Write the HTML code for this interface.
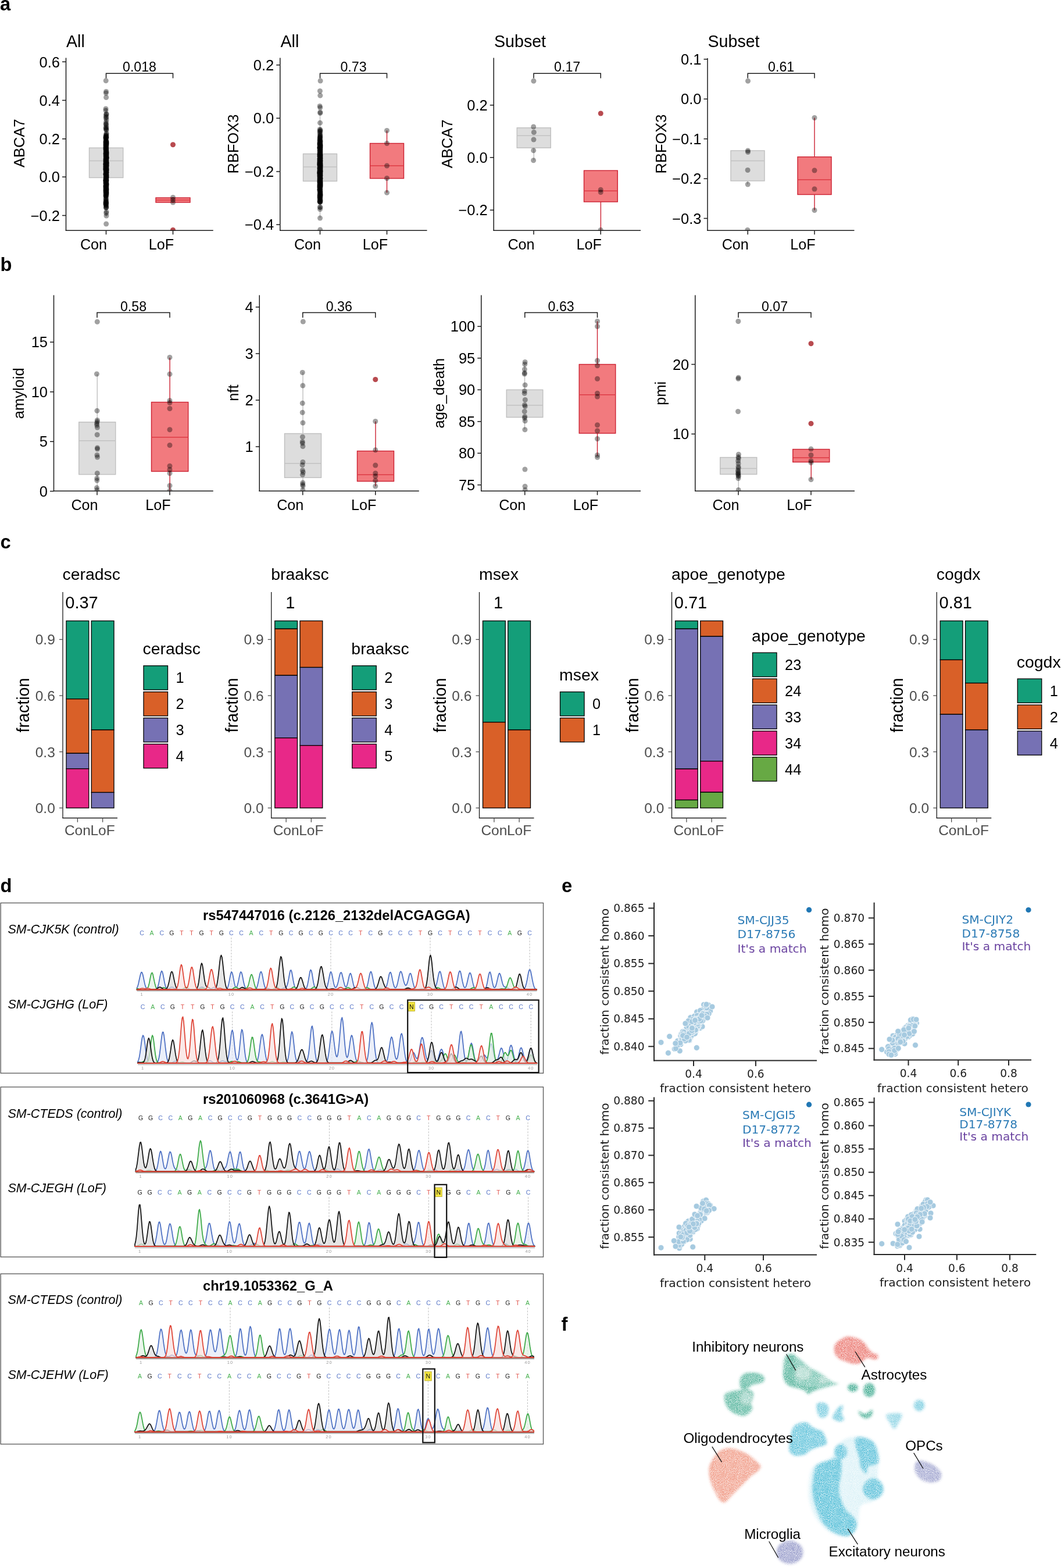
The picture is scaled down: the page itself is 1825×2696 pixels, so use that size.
<!DOCTYPE html>
<html><head><meta charset="utf-8"><title>Figure</title>
<style>html,body{margin:0;padding:0;background:#fff;}svg{display:block;}</style></head>
<body><svg width="1825" height="2696" viewBox="0 0 1825 2696" font-family="'Liberation Sans', Arial, Helvetica, sans-serif">
<rect width="1825" height="2696" fill="#fff"/>
<line x1="182.62" y1="186" x2="182.62" y2="254.25" stroke="#bfbfbf" stroke-width="1.4"/>
<line x1="182.62" y1="305.5" x2="182.62" y2="372.5" stroke="#bfbfbf" stroke-width="1.4"/>
<rect x="153.5" y="254.25" width="58.25" height="51.25" fill="#dddddd" stroke="#bfbfbf" stroke-width="1.4"/>
<line x1="153.5" y1="276.5" x2="211.75" y2="276.5" stroke="#c2c2c2" stroke-width="1.6"/>
<line x1="297.5" y1="339" x2="297.5" y2="340" stroke="#cc2232" stroke-width="1.4"/>
<line x1="297.5" y1="348" x2="297.5" y2="349" stroke="#cc2232" stroke-width="1.4"/>
<rect x="268" y="340" width="59" height="8" fill="#f27a7e" stroke="#cc2232" stroke-width="1.4"/>
<line x1="268" y1="344" x2="327" y2="344" stroke="#dd3a45" stroke-width="1.6"/>
<g clip-path="url(#clipa1)">
<circle cx="297.5" cy="248.75" r="4.5" fill="#b84a4f"/>
<circle cx="297.5" cy="395.5" r="4.5" fill="#b84a4f"/>
<g fill="#000" fill-opacity="0.37"><circle cx="182.19" cy="138.75" r="4.5"/><circle cx="182.55" cy="157.5" r="4.5"/><circle cx="182.34" cy="160" r="4.5"/><circle cx="182.62" cy="167.5" r="4.5"/><circle cx="182.65" cy="385" r="4.5"/><circle cx="181.98" cy="187" r="4.5"/><circle cx="181.92" cy="190" r="4.5"/><circle cx="182.9" cy="196" r="4.5"/><circle cx="182.21" cy="199" r="4.5"/><circle cx="182.18" cy="203" r="4.5"/><circle cx="183.09" cy="206" r="4.5"/><circle cx="182.46" cy="210" r="4.5"/><circle cx="182.9" cy="331.37" r="4.5"/><circle cx="182.47" cy="337.18" r="4.5"/><circle cx="182.67" cy="287.39" r="4.5"/><circle cx="182.08" cy="257.48" r="4.5"/><circle cx="182.66" cy="245.68" r="4.5"/><circle cx="182.94" cy="286.13" r="4.5"/><circle cx="182.53" cy="248.2" r="4.5"/><circle cx="182.79" cy="233.27" r="4.5"/><circle cx="182.71" cy="292.18" r="4.5"/><circle cx="181.98" cy="289.8" r="4.5"/><circle cx="182.81" cy="304.67" r="4.5"/><circle cx="182.61" cy="252.1" r="4.5"/><circle cx="182.26" cy="285.18" r="4.5"/><circle cx="181.94" cy="282.67" r="4.5"/><circle cx="182.94" cy="230.79" r="4.5"/><circle cx="182.47" cy="304.37" r="4.5"/><circle cx="182.76" cy="296.55" r="4.5"/><circle cx="182.95" cy="371.01" r="4.5"/><circle cx="182.76" cy="292.31" r="4.5"/><circle cx="183.01" cy="279.79" r="4.5"/><circle cx="182.37" cy="329.38" r="4.5"/><circle cx="182.86" cy="292.16" r="4.5"/><circle cx="182.43" cy="317.73" r="4.5"/><circle cx="183.02" cy="271.84" r="4.5"/><circle cx="182.95" cy="292.85" r="4.5"/><circle cx="182.02" cy="321.87" r="4.5"/><circle cx="182.06" cy="310.06" r="4.5"/><circle cx="182.16" cy="289.63" r="4.5"/><circle cx="183.06" cy="246.04" r="4.5"/><circle cx="182.42" cy="301.03" r="4.5"/><circle cx="182.65" cy="287.77" r="4.5"/><circle cx="182.26" cy="310.94" r="4.5"/><circle cx="182.51" cy="292.78" r="4.5"/><circle cx="182.36" cy="324.17" r="4.5"/><circle cx="182.32" cy="283.14" r="4.5"/><circle cx="182.6" cy="292.27" r="4.5"/><circle cx="182.6" cy="309" r="4.5"/><circle cx="182.99" cy="245.87" r="4.5"/><circle cx="182.72" cy="270.54" r="4.5"/><circle cx="183.01" cy="267" r="4.5"/><circle cx="182.93" cy="356.3" r="4.5"/><circle cx="183.09" cy="281.66" r="4.5"/><circle cx="182.71" cy="308.48" r="4.5"/><circle cx="182.1" cy="307.3" r="4.5"/><circle cx="182.93" cy="274.89" r="4.5"/><circle cx="183.06" cy="229.17" r="4.5"/><circle cx="182.99" cy="319.73" r="4.5"/><circle cx="182.58" cy="270.34" r="4.5"/><circle cx="182.76" cy="310.85" r="4.5"/><circle cx="182.15" cy="238.01" r="4.5"/><circle cx="182.9" cy="269.23" r="4.5"/><circle cx="182.59" cy="330.25" r="4.5"/><circle cx="182.24" cy="336.52" r="4.5"/><circle cx="181.98" cy="238.11" r="4.5"/><circle cx="182.92" cy="237.02" r="4.5"/><circle cx="183.09" cy="283.41" r="4.5"/><circle cx="182.01" cy="311.22" r="4.5"/><circle cx="182.86" cy="290.78" r="4.5"/><circle cx="182.39" cy="295.93" r="4.5"/><circle cx="182.08" cy="249.4" r="4.5"/><circle cx="182.25" cy="306.12" r="4.5"/><circle cx="182.82" cy="325.21" r="4.5"/><circle cx="182.95" cy="269.32" r="4.5"/><circle cx="181.95" cy="233.39" r="4.5"/><circle cx="182.64" cy="257.68" r="4.5"/><circle cx="181.95" cy="312.42" r="4.5"/><circle cx="182.76" cy="222.59" r="4.5"/><circle cx="182.3" cy="281.69" r="4.5"/><circle cx="182.96" cy="249.32" r="4.5"/><circle cx="183.08" cy="280.28" r="4.5"/><circle cx="182.51" cy="276.2" r="4.5"/><circle cx="183.1" cy="285.57" r="4.5"/><circle cx="182.27" cy="339.04" r="4.5"/><circle cx="181.99" cy="300.15" r="4.5"/><circle cx="182.62" cy="333.01" r="4.5"/><circle cx="181.94" cy="279.91" r="4.5"/><circle cx="182.14" cy="267.73" r="4.5"/><circle cx="182.39" cy="298.64" r="4.5"/><circle cx="182.63" cy="283.56" r="4.5"/><circle cx="182.09" cy="290.77" r="4.5"/><circle cx="181.95" cy="240.53" r="4.5"/><circle cx="182.94" cy="301.72" r="4.5"/><circle cx="182.28" cy="264.87" r="4.5"/><circle cx="183.05" cy="196.47" r="4.5"/><circle cx="182.98" cy="277.32" r="4.5"/><circle cx="182.35" cy="249.76" r="4.5"/><circle cx="182.45" cy="266.26" r="4.5"/><circle cx="182.52" cy="279.52" r="4.5"/><circle cx="182.67" cy="330.04" r="4.5"/><circle cx="182.61" cy="288.71" r="4.5"/><circle cx="182.57" cy="283.97" r="4.5"/><circle cx="182.64" cy="299" r="4.5"/><circle cx="183.03" cy="219.76" r="4.5"/><circle cx="182.51" cy="329.64" r="4.5"/><circle cx="182.42" cy="246.22" r="4.5"/><circle cx="182.76" cy="300.81" r="4.5"/><circle cx="182.19" cy="244.44" r="4.5"/><circle cx="182.26" cy="249.85" r="4.5"/><circle cx="183.07" cy="270.73" r="4.5"/><circle cx="182.53" cy="353.25" r="4.5"/><circle cx="182.56" cy="310.12" r="4.5"/><circle cx="181.91" cy="263.25" r="4.5"/><circle cx="182.4" cy="274.76" r="4.5"/><circle cx="182.6" cy="243.55" r="4.5"/><circle cx="181.92" cy="283.77" r="4.5"/><circle cx="182.64" cy="264.37" r="4.5"/><circle cx="182.66" cy="310.99" r="4.5"/><circle cx="181.97" cy="236.15" r="4.5"/><circle cx="182.65" cy="272.95" r="4.5"/><circle cx="182.46" cy="254.69" r="4.5"/><circle cx="182.72" cy="259.13" r="4.5"/><circle cx="182.32" cy="310.6" r="4.5"/><circle cx="182.75" cy="289.55" r="4.5"/><circle cx="182.79" cy="306.07" r="4.5"/><circle cx="181.93" cy="327.81" r="4.5"/><circle cx="181.97" cy="326.38" r="4.5"/><circle cx="182.71" cy="235.62" r="4.5"/><circle cx="183.06" cy="304.33" r="4.5"/><circle cx="182.2" cy="221.59" r="4.5"/><circle cx="182.45" cy="282.7" r="4.5"/><circle cx="182.61" cy="354.09" r="4.5"/><circle cx="182.28" cy="278.03" r="4.5"/><circle cx="182.34" cy="271.71" r="4.5"/><circle cx="182.28" cy="291.13" r="4.5"/><circle cx="182.34" cy="285.65" r="4.5"/><circle cx="182.61" cy="285.96" r="4.5"/><circle cx="182.26" cy="257.74" r="4.5"/><circle cx="182.35" cy="323.94" r="4.5"/><circle cx="182.83" cy="317.01" r="4.5"/><circle cx="181.93" cy="277.36" r="4.5"/><circle cx="182.58" cy="296.33" r="4.5"/><circle cx="182.78" cy="308.7" r="4.5"/><circle cx="182.27" cy="322.16" r="4.5"/><circle cx="182.17" cy="299.14" r="4.5"/><circle cx="182.86" cy="310.02" r="4.5"/><circle cx="182.19" cy="275.52" r="4.5"/><circle cx="182.12" cy="246.5" r="4.5"/><circle cx="182.42" cy="267.17" r="4.5"/><circle cx="182.74" cy="321.69" r="4.5"/><circle cx="182.02" cy="320.2" r="4.5"/><circle cx="182.29" cy="290.27" r="4.5"/><circle cx="182.3" cy="264.57" r="4.5"/><circle cx="182.9" cy="296.08" r="4.5"/><circle cx="182.43" cy="344.88" r="4.5"/><circle cx="182.93" cy="333.76" r="4.5"/><circle cx="182.1" cy="260.39" r="4.5"/><circle cx="182.3" cy="283.43" r="4.5"/><circle cx="182.68" cy="232.74" r="4.5"/><circle cx="182.96" cy="244.12" r="4.5"/><circle cx="182.44" cy="291.78" r="4.5"/><circle cx="182.17" cy="285.89" r="4.5"/><circle cx="182.05" cy="319.73" r="4.5"/><circle cx="182.54" cy="330.63" r="4.5"/><circle cx="182.13" cy="315.06" r="4.5"/><circle cx="182.87" cy="332.51" r="4.5"/><circle cx="182.91" cy="265.3" r="4.5"/><circle cx="182.12" cy="244.36" r="4.5"/><circle cx="182.23" cy="303.02" r="4.5"/><circle cx="182.87" cy="297.84" r="4.5"/><circle cx="182.67" cy="243.54" r="4.5"/><circle cx="182.87" cy="293.73" r="4.5"/><circle cx="182.31" cy="336.32" r="4.5"/><circle cx="182.06" cy="247.76" r="4.5"/><circle cx="182.25" cy="313.92" r="4.5"/><circle cx="182.85" cy="263" r="4.5"/><circle cx="182.23" cy="330.82" r="4.5"/><circle cx="182.32" cy="313.28" r="4.5"/><circle cx="182.4" cy="295.95" r="4.5"/><circle cx="182.4" cy="357" r="4.5"/><circle cx="182.39" cy="270.28" r="4.5"/><circle cx="183" cy="260.3" r="4.5"/><circle cx="182.09" cy="351.77" r="4.5"/><circle cx="181.91" cy="253.45" r="4.5"/><circle cx="183.03" cy="364.16" r="4.5"/><circle cx="182.96" cy="283.56" r="4.5"/><circle cx="183.08" cy="247.68" r="4.5"/><circle cx="182.42" cy="284.93" r="4.5"/><circle cx="183.04" cy="289.7" r="4.5"/><circle cx="183.01" cy="292.24" r="4.5"/><circle cx="182.17" cy="278.09" r="4.5"/><circle cx="182.79" cy="323.92" r="4.5"/><circle cx="182.9" cy="201.48" r="4.5"/><circle cx="182.7" cy="265.03" r="4.5"/><circle cx="182.52" cy="275.56" r="4.5"/><circle cx="182.25" cy="350.51" r="4.5"/><circle cx="182.31" cy="213.26" r="4.5"/><circle cx="182.17" cy="272.77" r="4.5"/><circle cx="181.98" cy="243.85" r="4.5"/><circle cx="182.61" cy="261.07" r="4.5"/><circle cx="182.24" cy="308.06" r="4.5"/><circle cx="182.87" cy="299.79" r="4.5"/><circle cx="181.95" cy="336.84" r="4.5"/><circle cx="182.98" cy="263.42" r="4.5"/><circle cx="182.73" cy="294.67" r="4.5"/><circle cx="183.01" cy="327.24" r="4.5"/><circle cx="182.98" cy="317.52" r="4.5"/><circle cx="182.98" cy="272.9" r="4.5"/><circle cx="182.59" cy="325.61" r="4.5"/><circle cx="181.92" cy="251.74" r="4.5"/><circle cx="182.79" cy="349.92" r="4.5"/><circle cx="182.11" cy="290.56" r="4.5"/><circle cx="182.26" cy="280.95" r="4.5"/><circle cx="182.7" cy="294.75" r="4.5"/><circle cx="182.53" cy="315.57" r="4.5"/><circle cx="182.4" cy="347.69" r="4.5"/><circle cx="183.03" cy="279.89" r="4.5"/><circle cx="182.63" cy="271.77" r="4.5"/><circle cx="182.31" cy="306.12" r="4.5"/><circle cx="182.2" cy="253.62" r="4.5"/><circle cx="182.93" cy="223.94" r="4.5"/><circle cx="182.47" cy="315.09" r="4.5"/><circle cx="182.84" cy="271.34" r="4.5"/><circle cx="182.32" cy="325.57" r="4.5"/><circle cx="182.14" cy="248.04" r="4.5"/><circle cx="182.54" cy="295.19" r="4.5"/><circle cx="182.88" cy="290.58" r="4.5"/><circle cx="182.11" cy="342.62" r="4.5"/><circle cx="182.85" cy="303.92" r="4.5"/><circle cx="183.01" cy="296.14" r="4.5"/><circle cx="182.87" cy="306.12" r="4.5"/><circle cx="182.89" cy="271.78" r="4.5"/><circle cx="181.91" cy="287.79" r="4.5"/><circle cx="182.65" cy="236.33" r="4.5"/><circle cx="182.94" cy="303.69" r="4.5"/><circle cx="181.96" cy="256.01" r="4.5"/><circle cx="182.23" cy="268.95" r="4.5"/><circle cx="182.22" cy="310.19" r="4.5"/><circle cx="182.53" cy="317.96" r="4.5"/><circle cx="182.41" cy="248.74" r="4.5"/><circle cx="182.47" cy="357.14" r="4.5"/><circle cx="182.83" cy="263.7" r="4.5"/><circle cx="181.9" cy="315.06" r="4.5"/><circle cx="181.97" cy="319.25" r="4.5"/><circle cx="182.05" cy="293.07" r="4.5"/><circle cx="182.05" cy="291.2" r="4.5"/><circle cx="181.98" cy="349.7" r="4.5"/><circle cx="183.07" cy="317.05" r="4.5"/><circle cx="182.93" cy="301.04" r="4.5"/><circle cx="182" cy="219.33" r="4.5"/><circle cx="182.5" cy="258.1" r="4.5"/><circle cx="182.28" cy="326.86" r="4.5"/><circle cx="182.28" cy="291.99" r="4.5"/><circle cx="182.32" cy="250.62" r="4.5"/><circle cx="182.68" cy="261.87" r="4.5"/><circle cx="182.6" cy="273.98" r="4.5"/><circle cx="182.33" cy="309.7" r="4.5"/><circle cx="182.13" cy="298.93" r="4.5"/><circle cx="182.29" cy="320.91" r="4.5"/><circle cx="182.05" cy="255.59" r="4.5"/><circle cx="182.57" cy="320.5" r="4.5"/><circle cx="182.76" cy="266.93" r="4.5"/><circle cx="182.36" cy="274.24" r="4.5"/><circle cx="182" cy="347.39" r="4.5"/><circle cx="182.11" cy="287.67" r="4.5"/><circle cx="182.35" cy="279.98" r="4.5"/><circle cx="182.63" cy="277.43" r="4.5"/><circle cx="182.84" cy="271.15" r="4.5"/><circle cx="182.36" cy="341.14" r="4.5"/><circle cx="182.86" cy="334.56" r="4.5"/><circle cx="182.65" cy="310.81" r="4.5"/><circle cx="182.42" cy="291.63" r="4.5"/><circle cx="182.35" cy="322.53" r="4.5"/><circle cx="182.5" cy="282.2" r="4.5"/><circle cx="182.74" cy="301.29" r="4.5"/><circle cx="182.4" cy="299.47" r="4.5"/><circle cx="182.73" cy="288.2" r="4.5"/><circle cx="182.45" cy="344.34" r="4.5"/><circle cx="182.19" cy="348.19" r="4.5"/><circle cx="182.54" cy="332.65" r="4.5"/><circle cx="182.73" cy="216.13" r="4.5"/><circle cx="181.99" cy="351.09" r="4.5"/><circle cx="182.41" cy="310.29" r="4.5"/><circle cx="182.41" cy="268.78" r="4.5"/><circle cx="182.96" cy="284.12" r="4.5"/><circle cx="183.02" cy="325.98" r="4.5"/><circle cx="182.35" cy="327.29" r="4.5"/><circle cx="182.98" cy="315.78" r="4.5"/><circle cx="182.85" cy="290.07" r="4.5"/><circle cx="182.21" cy="286.29" r="4.5"/><circle cx="182.46" cy="314.95" r="4.5"/><circle cx="182.05" cy="281.71" r="4.5"/><circle cx="182.88" cy="252.67" r="4.5"/><circle cx="182.69" cy="262.56" r="4.5"/><circle cx="182.96" cy="279.97" r="4.5"/><circle cx="182.85" cy="296.97" r="4.5"/><circle cx="182.7" cy="366.49" r="4.5"/><circle cx="182.78" cy="235.69" r="4.5"/><circle cx="182.58" cy="302.18" r="4.5"/><circle cx="182.02" cy="281.7" r="4.5"/><circle cx="182.61" cy="295.83" r="4.5"/><circle cx="181.91" cy="333.74" r="4.5"/><circle cx="182.07" cy="329.69" r="4.5"/><circle cx="182.83" cy="279.34" r="4.5"/><circle cx="181.95" cy="264.93" r="4.5"/><circle cx="182.01" cy="235.94" r="4.5"/><circle cx="182.02" cy="282.43" r="4.5"/><circle cx="182.96" cy="329.89" r="4.5"/><circle cx="182.11" cy="275.46" r="4.5"/><circle cx="181.93" cy="310.34" r="4.5"/><circle cx="182.91" cy="310.49" r="4.5"/><circle cx="182.05" cy="299.3" r="4.5"/><circle cx="182.91" cy="324.03" r="4.5"/><circle cx="182.71" cy="280.91" r="4.5"/><circle cx="182.9" cy="255.14" r="4.5"/><circle cx="183.04" cy="242.79" r="4.5"/><circle cx="182.59" cy="318.37" r="4.5"/><circle cx="182.86" cy="271.97" r="4.5"/><circle cx="181.94" cy="273.81" r="4.5"/><circle cx="182.82" cy="315.03" r="4.5"/><circle cx="182.51" cy="256.59" r="4.5"/><circle cx="182.76" cy="348.73" r="4.5"/><circle cx="182.03" cy="308.98" r="4.5"/><circle cx="182.8" cy="266.03" r="4.5"/><circle cx="183.02" cy="262.19" r="4.5"/><circle cx="181.97" cy="323.94" r="4.5"/><circle cx="182.29" cy="242.38" r="4.5"/><circle cx="182.58" cy="261.92" r="4.5"/><circle cx="182.89" cy="285.22" r="4.5"/><circle cx="182.19" cy="292.3" r="4.5"/><circle cx="182.12" cy="285.55" r="4.5"/><circle cx="182.2" cy="298.94" r="4.5"/><circle cx="182.64" cy="271.9" r="4.5"/><circle cx="182.8" cy="280.63" r="4.5"/><circle cx="182.37" cy="330.55" r="4.5"/><circle cx="182.34" cy="308.25" r="4.5"/><circle cx="182.38" cy="268.81" r="4.5"/><circle cx="182.32" cy="346.73" r="4.5"/><circle cx="182.4" cy="213.33" r="4.5"/><circle cx="182" cy="288.04" r="4.5"/><circle cx="182.5" cy="309.05" r="4.5"/><circle cx="297.5" cy="339.5" r="4.5"/><circle cx="297.5" cy="343.5" r="4.5"/><circle cx="297.5" cy="348" r="4.5"/></g>
</g>
<clipPath id="clipa1"><rect x="113.5" y="79.5" width="253.25" height="316.75"/></clipPath>
<line x1="113.5" y1="99.5" x2="113.5" y2="397" stroke="#1a1a1a" stroke-width="1.5"/>
<line x1="112.75" y1="396.25" x2="366.75" y2="396.25" stroke="#1a1a1a" stroke-width="1.5"/>
<line x1="107" y1="106.3" x2="113.5" y2="106.3" stroke="#1a1a1a" stroke-width="1.5"/>
<text x="103" y="115.5" font-size="25.5" text-anchor="end">0.6</text>
<line x1="107" y1="172.5" x2="113.5" y2="172.5" stroke="#1a1a1a" stroke-width="1.5"/>
<text x="103" y="181.7" font-size="25.5" text-anchor="end">0.4</text>
<line x1="107" y1="238.75" x2="113.5" y2="238.75" stroke="#1a1a1a" stroke-width="1.5"/>
<text x="103" y="247.95" font-size="25.5" text-anchor="end">0.2</text>
<line x1="107" y1="304.25" x2="113.5" y2="304.25" stroke="#1a1a1a" stroke-width="1.5"/>
<text x="103" y="313.45" font-size="25.5" text-anchor="end">0.0</text>
<line x1="107" y1="370.5" x2="113.5" y2="370.5" stroke="#1a1a1a" stroke-width="1.5"/>
<text x="103" y="379.7" font-size="25.5" text-anchor="end">−0.2</text>
<line x1="182.5" y1="396.25" x2="182.5" y2="403.25" stroke="#1a1a1a" stroke-width="1.5"/>
<text x="184.1" y="428.55" font-size="25.2" text-anchor="end">Con</text>
<line x1="297.5" y1="396.25" x2="297.5" y2="403.25" stroke="#1a1a1a" stroke-width="1.5"/>
<text x="299.1" y="428.55" font-size="25.2" text-anchor="end">LoF</text>
<text x="114" y="81" font-size="28.6">All</text>
<text x="42.3" y="246.3" font-size="25.5" text-anchor="middle" transform="rotate(-90 42.3 246.3)">ABCA7</text>
<path d="M182.5 134.5V126.25H297.5V134.5" fill="none" stroke="#1a1a1a" stroke-width="1.5"/>
<text x="240" y="123.25" font-size="23.2" text-anchor="middle">0.018</text>
<line x1="550.5" y1="194.5" x2="550.5" y2="264.5" stroke="#bfbfbf" stroke-width="1.4"/>
<line x1="550.5" y1="311.5" x2="550.5" y2="375" stroke="#bfbfbf" stroke-width="1.4"/>
<rect x="521.5" y="264.5" width="58" height="47" fill="#dddddd" stroke="#bfbfbf" stroke-width="1.4"/>
<line x1="521.5" y1="287" x2="579.5" y2="287" stroke="#c2c2c2" stroke-width="1.6"/>
<line x1="665.5" y1="224.5" x2="665.5" y2="246.5" stroke="#cc2232" stroke-width="1.4"/>
<line x1="665.5" y1="306.75" x2="665.5" y2="331.25" stroke="#cc2232" stroke-width="1.4"/>
<rect x="636.5" y="246.5" width="58" height="60.25" fill="#f27a7e" stroke="#cc2232" stroke-width="1.4"/>
<line x1="636.5" y1="285" x2="694.5" y2="285" stroke="#dd3a45" stroke-width="1.6"/>
<g clip-path="url(#clipa2)">
<g fill="#000" fill-opacity="0.37"><circle cx="551.07" cy="139" r="4.5"/><circle cx="550.4" cy="156.5" r="4.5"/><circle cx="550.8" cy="164.25" r="4.5"/><circle cx="550.09" cy="182.5" r="4.5"/><circle cx="550.73" cy="185" r="4.5"/><circle cx="550.81" cy="193" r="4.5"/><circle cx="550.71" cy="194.5" r="4.5"/><circle cx="550.52" cy="211.25" r="4.5"/><circle cx="550.48" cy="375" r="4.5"/><circle cx="550.67" cy="395" r="4.5"/><circle cx="550.98" cy="268.13" r="4.5"/><circle cx="550.08" cy="303.03" r="4.5"/><circle cx="550.02" cy="294.84" r="4.5"/><circle cx="550.8" cy="317.56" r="4.5"/><circle cx="551" cy="243.73" r="4.5"/><circle cx="550.52" cy="276.31" r="4.5"/><circle cx="550.43" cy="265.2" r="4.5"/><circle cx="550.76" cy="254.54" r="4.5"/><circle cx="550.12" cy="262.15" r="4.5"/><circle cx="550.22" cy="273.09" r="4.5"/><circle cx="550.14" cy="280.54" r="4.5"/><circle cx="550.6" cy="260.08" r="4.5"/><circle cx="550.28" cy="303.93" r="4.5"/><circle cx="550.18" cy="271.93" r="4.5"/><circle cx="550.73" cy="329.29" r="4.5"/><circle cx="551.04" cy="277.07" r="4.5"/><circle cx="550.26" cy="265.47" r="4.5"/><circle cx="550.75" cy="298.86" r="4.5"/><circle cx="550.4" cy="297.59" r="4.5"/><circle cx="550.92" cy="291.74" r="4.5"/><circle cx="550.6" cy="261.8" r="4.5"/><circle cx="550.22" cy="296.32" r="4.5"/><circle cx="550.16" cy="239.26" r="4.5"/><circle cx="549.93" cy="337.63" r="4.5"/><circle cx="550.48" cy="248.24" r="4.5"/><circle cx="550.36" cy="283.18" r="4.5"/><circle cx="550.11" cy="290.63" r="4.5"/><circle cx="550.33" cy="297.22" r="4.5"/><circle cx="550.29" cy="281.86" r="4.5"/><circle cx="550.83" cy="305.94" r="4.5"/><circle cx="550.07" cy="282.28" r="4.5"/><circle cx="551.09" cy="280.45" r="4.5"/><circle cx="550.48" cy="271.4" r="4.5"/><circle cx="550.62" cy="336.22" r="4.5"/><circle cx="550.46" cy="253.48" r="4.5"/><circle cx="550.9" cy="282.97" r="4.5"/><circle cx="550.89" cy="294.71" r="4.5"/><circle cx="550.57" cy="231.91" r="4.5"/><circle cx="550.48" cy="233.63" r="4.5"/><circle cx="550.76" cy="309.01" r="4.5"/><circle cx="550.93" cy="285.36" r="4.5"/><circle cx="550.38" cy="291.32" r="4.5"/><circle cx="550.78" cy="237.72" r="4.5"/><circle cx="551.05" cy="250.61" r="4.5"/><circle cx="550.46" cy="299.74" r="4.5"/><circle cx="550.18" cy="294.71" r="4.5"/><circle cx="550.18" cy="227.72" r="4.5"/><circle cx="550.76" cy="289.67" r="4.5"/><circle cx="550.71" cy="248.48" r="4.5"/><circle cx="551.05" cy="344.28" r="4.5"/><circle cx="550.92" cy="319.64" r="4.5"/><circle cx="550.19" cy="268.38" r="4.5"/><circle cx="550.13" cy="222.39" r="4.5"/><circle cx="550.21" cy="259.37" r="4.5"/><circle cx="550.12" cy="283.75" r="4.5"/><circle cx="550.75" cy="252.41" r="4.5"/><circle cx="550.93" cy="295.15" r="4.5"/><circle cx="550.98" cy="318.78" r="4.5"/><circle cx="550.21" cy="283.8" r="4.5"/><circle cx="550.94" cy="271.1" r="4.5"/><circle cx="550.28" cy="311.83" r="4.5"/><circle cx="550.41" cy="275.74" r="4.5"/><circle cx="550.77" cy="314.11" r="4.5"/><circle cx="550" cy="274.99" r="4.5"/><circle cx="550.01" cy="339.81" r="4.5"/><circle cx="550.9" cy="276.33" r="4.5"/><circle cx="550.25" cy="250.16" r="4.5"/><circle cx="550.33" cy="288.94" r="4.5"/><circle cx="550.6" cy="264.49" r="4.5"/><circle cx="550.71" cy="254.22" r="4.5"/><circle cx="549.91" cy="281.47" r="4.5"/><circle cx="550.3" cy="310.85" r="4.5"/><circle cx="550.42" cy="284.25" r="4.5"/><circle cx="550.48" cy="280.66" r="4.5"/><circle cx="550.15" cy="280.86" r="4.5"/><circle cx="550.6" cy="312.73" r="4.5"/><circle cx="551.05" cy="242.01" r="4.5"/><circle cx="550.37" cy="307.99" r="4.5"/><circle cx="550.55" cy="278.21" r="4.5"/><circle cx="550.04" cy="289.62" r="4.5"/><circle cx="550.23" cy="278.52" r="4.5"/><circle cx="550.7" cy="274.9" r="4.5"/><circle cx="550.04" cy="268.4" r="4.5"/><circle cx="550.96" cy="299.86" r="4.5"/><circle cx="550.99" cy="356.64" r="4.5"/><circle cx="550.02" cy="321.5" r="4.5"/><circle cx="551.03" cy="314.84" r="4.5"/><circle cx="550.35" cy="305.03" r="4.5"/><circle cx="550.83" cy="270.36" r="4.5"/><circle cx="550.81" cy="306.72" r="4.5"/><circle cx="550.25" cy="355.95" r="4.5"/><circle cx="550.71" cy="243.6" r="4.5"/><circle cx="550.68" cy="314.41" r="4.5"/><circle cx="550.87" cy="320.68" r="4.5"/><circle cx="550.22" cy="296.23" r="4.5"/><circle cx="550.81" cy="313.25" r="4.5"/><circle cx="551.05" cy="333.5" r="4.5"/><circle cx="550.71" cy="330.84" r="4.5"/><circle cx="550.54" cy="342.68" r="4.5"/><circle cx="550.04" cy="298.46" r="4.5"/><circle cx="550.49" cy="315.14" r="4.5"/><circle cx="550.32" cy="293.36" r="4.5"/><circle cx="550.76" cy="297.48" r="4.5"/><circle cx="550.71" cy="272.21" r="4.5"/><circle cx="550.58" cy="310.47" r="4.5"/><circle cx="550.12" cy="336.29" r="4.5"/><circle cx="550.67" cy="282.62" r="4.5"/><circle cx="550.66" cy="296.46" r="4.5"/><circle cx="550.11" cy="308.87" r="4.5"/><circle cx="550.97" cy="288.81" r="4.5"/><circle cx="550.69" cy="319.53" r="4.5"/><circle cx="550.05" cy="296.85" r="4.5"/><circle cx="551.02" cy="249.28" r="4.5"/><circle cx="550.07" cy="253.99" r="4.5"/><circle cx="550.3" cy="312.68" r="4.5"/><circle cx="550.76" cy="309.53" r="4.5"/><circle cx="550.62" cy="325.34" r="4.5"/><circle cx="550.57" cy="296.93" r="4.5"/><circle cx="550.68" cy="295.43" r="4.5"/><circle cx="550.45" cy="236.11" r="4.5"/><circle cx="550.27" cy="335.23" r="4.5"/><circle cx="550.11" cy="258.01" r="4.5"/><circle cx="549.98" cy="323.49" r="4.5"/><circle cx="550.76" cy="250.76" r="4.5"/><circle cx="550.81" cy="266.75" r="4.5"/><circle cx="550.55" cy="294.02" r="4.5"/><circle cx="550.79" cy="274.71" r="4.5"/><circle cx="550.33" cy="265.62" r="4.5"/><circle cx="550.22" cy="318.82" r="4.5"/><circle cx="550.36" cy="311.51" r="4.5"/><circle cx="550.95" cy="302.17" r="4.5"/><circle cx="549.95" cy="277.79" r="4.5"/><circle cx="550.51" cy="261.62" r="4.5"/><circle cx="550.2" cy="273.22" r="4.5"/><circle cx="550.82" cy="271.69" r="4.5"/><circle cx="550.32" cy="288.29" r="4.5"/><circle cx="550.3" cy="314.74" r="4.5"/><circle cx="550.38" cy="283.6" r="4.5"/><circle cx="550.55" cy="262.94" r="4.5"/><circle cx="550.83" cy="268.71" r="4.5"/><circle cx="550.32" cy="331.9" r="4.5"/><circle cx="550.92" cy="294.77" r="4.5"/><circle cx="550.03" cy="297.16" r="4.5"/><circle cx="550.22" cy="298.72" r="4.5"/><circle cx="550.02" cy="309.13" r="4.5"/><circle cx="550.04" cy="294.09" r="4.5"/><circle cx="550.83" cy="328.61" r="4.5"/><circle cx="550.77" cy="316.55" r="4.5"/><circle cx="550.12" cy="285.1" r="4.5"/><circle cx="550.13" cy="247.17" r="4.5"/><circle cx="550.4" cy="293.93" r="4.5"/><circle cx="550.79" cy="325.58" r="4.5"/><circle cx="550.88" cy="289.78" r="4.5"/><circle cx="550.8" cy="334.14" r="4.5"/><circle cx="550.61" cy="247.9" r="4.5"/><circle cx="550.08" cy="248.34" r="4.5"/><circle cx="550.38" cy="283.6" r="4.5"/><circle cx="550.13" cy="265.4" r="4.5"/><circle cx="550.53" cy="254.29" r="4.5"/><circle cx="550.58" cy="308.76" r="4.5"/><circle cx="550.14" cy="298.87" r="4.5"/><circle cx="550.2" cy="290.27" r="4.5"/><circle cx="550.84" cy="276.54" r="4.5"/><circle cx="549.94" cy="298.69" r="4.5"/><circle cx="550.86" cy="285.98" r="4.5"/><circle cx="550.97" cy="265.83" r="4.5"/><circle cx="551.04" cy="306.93" r="4.5"/><circle cx="550.36" cy="302.26" r="4.5"/><circle cx="550.56" cy="292.68" r="4.5"/><circle cx="550.6" cy="312.95" r="4.5"/><circle cx="550.66" cy="253.44" r="4.5"/><circle cx="551.07" cy="285.21" r="4.5"/><circle cx="550.72" cy="272.67" r="4.5"/><circle cx="550.26" cy="333.99" r="4.5"/><circle cx="550.93" cy="306.8" r="4.5"/><circle cx="550.48" cy="359.86" r="4.5"/><circle cx="550.62" cy="341.9" r="4.5"/><circle cx="550.77" cy="277.75" r="4.5"/><circle cx="549.9" cy="253.87" r="4.5"/><circle cx="550.82" cy="305.98" r="4.5"/><circle cx="550.69" cy="280.66" r="4.5"/><circle cx="550.49" cy="284.78" r="4.5"/><circle cx="550.53" cy="254.96" r="4.5"/><circle cx="550.45" cy="309.84" r="4.5"/><circle cx="550.13" cy="296.13" r="4.5"/><circle cx="550.54" cy="303.3" r="4.5"/><circle cx="549.94" cy="300.24" r="4.5"/><circle cx="550.5" cy="260.19" r="4.5"/><circle cx="550.68" cy="281.04" r="4.5"/><circle cx="550.43" cy="269.03" r="4.5"/><circle cx="550.58" cy="272.54" r="4.5"/><circle cx="551.05" cy="321.67" r="4.5"/><circle cx="550.97" cy="286.71" r="4.5"/><circle cx="550.06" cy="339.82" r="4.5"/><circle cx="550.85" cy="295.99" r="4.5"/><circle cx="550.65" cy="312.69" r="4.5"/><circle cx="549.96" cy="306.74" r="4.5"/><circle cx="550.33" cy="316.58" r="4.5"/><circle cx="550.18" cy="248.47" r="4.5"/><circle cx="549.99" cy="325.99" r="4.5"/><circle cx="550.55" cy="293.57" r="4.5"/><circle cx="551.02" cy="257.77" r="4.5"/><circle cx="550.29" cy="310.26" r="4.5"/><circle cx="550.94" cy="301.41" r="4.5"/><circle cx="550.73" cy="332.49" r="4.5"/><circle cx="550.06" cy="314.14" r="4.5"/><circle cx="550.93" cy="302.07" r="4.5"/><circle cx="550.62" cy="236.12" r="4.5"/><circle cx="551.01" cy="345.32" r="4.5"/><circle cx="550.76" cy="339.07" r="4.5"/><circle cx="550.79" cy="315.61" r="4.5"/><circle cx="550.31" cy="305.22" r="4.5"/><circle cx="550.87" cy="330.18" r="4.5"/><circle cx="551.02" cy="261.38" r="4.5"/><circle cx="550.93" cy="313.15" r="4.5"/><circle cx="550.42" cy="290.74" r="4.5"/><circle cx="550.81" cy="256.92" r="4.5"/><circle cx="550.48" cy="302.13" r="4.5"/><circle cx="550.03" cy="301.64" r="4.5"/><circle cx="549.95" cy="346.24" r="4.5"/><circle cx="549.99" cy="321.15" r="4.5"/><circle cx="550.14" cy="237.1" r="4.5"/><circle cx="550.09" cy="225.24" r="4.5"/><circle cx="550.5" cy="287.4" r="4.5"/><circle cx="550.74" cy="283.1" r="4.5"/><circle cx="550.54" cy="259.1" r="4.5"/><circle cx="550.41" cy="241.88" r="4.5"/><circle cx="550.68" cy="283.58" r="4.5"/><circle cx="550.27" cy="251.8" r="4.5"/><circle cx="550.46" cy="267.18" r="4.5"/><circle cx="550.81" cy="318.45" r="4.5"/><circle cx="550.38" cy="297.87" r="4.5"/><circle cx="550.12" cy="265.09" r="4.5"/><circle cx="550.98" cy="252.91" r="4.5"/><circle cx="550.76" cy="283.81" r="4.5"/><circle cx="550.34" cy="347.21" r="4.5"/><circle cx="550.35" cy="273.26" r="4.5"/><circle cx="550.54" cy="347.12" r="4.5"/><circle cx="550.62" cy="264.02" r="4.5"/><circle cx="550.17" cy="283.06" r="4.5"/><circle cx="549.9" cy="312.93" r="4.5"/><circle cx="550.15" cy="264.49" r="4.5"/><circle cx="550.84" cy="291.8" r="4.5"/><circle cx="550.07" cy="245.29" r="4.5"/><circle cx="550.45" cy="311.85" r="4.5"/><circle cx="550.13" cy="328.21" r="4.5"/><circle cx="550.15" cy="268.55" r="4.5"/><circle cx="550.1" cy="296.13" r="4.5"/><circle cx="550.38" cy="276.5" r="4.5"/><circle cx="550.1" cy="310.75" r="4.5"/><circle cx="549.93" cy="317.27" r="4.5"/><circle cx="550.03" cy="302.79" r="4.5"/><circle cx="550.1" cy="295.71" r="4.5"/><circle cx="550.49" cy="229.72" r="4.5"/><circle cx="549.97" cy="279.66" r="4.5"/><circle cx="549.93" cy="276.12" r="4.5"/><circle cx="550.44" cy="283.12" r="4.5"/><circle cx="550.39" cy="312.95" r="4.5"/><circle cx="550.74" cy="266.17" r="4.5"/><circle cx="549.96" cy="246.17" r="4.5"/><circle cx="550.38" cy="252.72" r="4.5"/><circle cx="550.38" cy="305.07" r="4.5"/><circle cx="549.93" cy="321.38" r="4.5"/><circle cx="551.06" cy="316.66" r="4.5"/><circle cx="550.16" cy="342.69" r="4.5"/><circle cx="550.01" cy="272.86" r="4.5"/><circle cx="550.47" cy="322.74" r="4.5"/><circle cx="550.1" cy="312.6" r="4.5"/><circle cx="550.65" cy="284.5" r="4.5"/><circle cx="550.32" cy="265.15" r="4.5"/><circle cx="550.05" cy="318.97" r="4.5"/><circle cx="549.96" cy="267.5" r="4.5"/><circle cx="550.77" cy="280.27" r="4.5"/><circle cx="550.23" cy="257.86" r="4.5"/><circle cx="550.85" cy="347.64" r="4.5"/><circle cx="550.46" cy="288.24" r="4.5"/><circle cx="551.02" cy="273.48" r="4.5"/><circle cx="550.26" cy="281.78" r="4.5"/><circle cx="550.2" cy="282.48" r="4.5"/><circle cx="550.22" cy="292.91" r="4.5"/><circle cx="550.88" cy="233.63" r="4.5"/><circle cx="550.65" cy="251.61" r="4.5"/><circle cx="550.31" cy="306.69" r="4.5"/><circle cx="550.01" cy="325.72" r="4.5"/><circle cx="550.72" cy="256.58" r="4.5"/><circle cx="551.06" cy="293.7" r="4.5"/><circle cx="550.61" cy="270.94" r="4.5"/><circle cx="549.9" cy="279.68" r="4.5"/><circle cx="549.94" cy="254.13" r="4.5"/><circle cx="550.01" cy="318.73" r="4.5"/><circle cx="550.1" cy="283" r="4.5"/><circle cx="549.94" cy="288.67" r="4.5"/><circle cx="549.96" cy="241.65" r="4.5"/><circle cx="550.69" cy="294.7" r="4.5"/><circle cx="550.98" cy="225.66" r="4.5"/><circle cx="550.14" cy="297.19" r="4.5"/><circle cx="551.07" cy="335.42" r="4.5"/><circle cx="550.47" cy="249.92" r="4.5"/><circle cx="550.86" cy="318.08" r="4.5"/><circle cx="551" cy="336.36" r="4.5"/><circle cx="551.03" cy="283.32" r="4.5"/><circle cx="549.94" cy="326.79" r="4.5"/><circle cx="550.27" cy="292.69" r="4.5"/><circle cx="550.63" cy="273.65" r="4.5"/><circle cx="551.04" cy="223.59" r="4.5"/><circle cx="550.01" cy="254.33" r="4.5"/><circle cx="550.25" cy="240.85" r="4.5"/><circle cx="550.92" cy="298.49" r="4.5"/><circle cx="550.04" cy="284.2" r="4.5"/><circle cx="550.37" cy="245.31" r="4.5"/><circle cx="550.3" cy="346.81" r="4.5"/><circle cx="550.72" cy="251.56" r="4.5"/><circle cx="551.01" cy="338.99" r="4.5"/><circle cx="550.11" cy="325.81" r="4.5"/><circle cx="550.79" cy="292.35" r="4.5"/><circle cx="550.78" cy="268.11" r="4.5"/><circle cx="550.9" cy="288.42" r="4.5"/><circle cx="550.56" cy="246.19" r="4.5"/><circle cx="551.01" cy="311.42" r="4.5"/><circle cx="550.34" cy="345.61" r="4.5"/><circle cx="665.5" cy="224.5" r="4.5"/><circle cx="665.5" cy="246.5" r="4.5"/><circle cx="665.5" cy="285" r="4.5"/><circle cx="665.5" cy="306.5" r="4.5"/><circle cx="665.5" cy="331.25" r="4.5"/></g>
</g>
<clipPath id="clipa2"><rect x="481.75" y="79.5" width="252.75" height="316.75"/></clipPath>
<line x1="481.75" y1="99.5" x2="481.75" y2="397" stroke="#1a1a1a" stroke-width="1.5"/>
<line x1="481" y1="396.25" x2="734.5" y2="396.25" stroke="#1a1a1a" stroke-width="1.5"/>
<line x1="475.25" y1="111.75" x2="481.75" y2="111.75" stroke="#1a1a1a" stroke-width="1.5"/>
<text x="471.25" y="120.95" font-size="25.5" text-anchor="end">0.2</text>
<line x1="475.25" y1="203.25" x2="481.75" y2="203.25" stroke="#1a1a1a" stroke-width="1.5"/>
<text x="471.25" y="212.45" font-size="25.5" text-anchor="end">0.0</text>
<line x1="475.25" y1="295" x2="481.75" y2="295" stroke="#1a1a1a" stroke-width="1.5"/>
<text x="471.25" y="304.2" font-size="25.5" text-anchor="end">−0.2</text>
<line x1="475.25" y1="386.25" x2="481.75" y2="386.25" stroke="#1a1a1a" stroke-width="1.5"/>
<text x="471.25" y="395.45" font-size="25.5" text-anchor="end">−0.4</text>
<line x1="550.5" y1="396.25" x2="550.5" y2="403.25" stroke="#1a1a1a" stroke-width="1.5"/>
<text x="552.1" y="428.55" font-size="25.2" text-anchor="end">Con</text>
<line x1="665.5" y1="396.25" x2="665.5" y2="403.25" stroke="#1a1a1a" stroke-width="1.5"/>
<text x="667.1" y="428.55" font-size="25.2" text-anchor="end">LoF</text>
<text x="482.5" y="81" font-size="28.6">All</text>
<text x="410" y="247.5" font-size="25.5" text-anchor="middle" transform="rotate(-90 410 247.5)">RBFOX3</text>
<path d="M550.5 134.5V126.25H665.5V134.5" fill="none" stroke="#1a1a1a" stroke-width="1.5"/>
<text x="608" y="123.25" font-size="23.2" text-anchor="middle">0.73</text>
<line x1="918.25" y1="254.25" x2="918.25" y2="275.75" stroke="#bfbfbf" stroke-width="1.4"/>
<rect x="889.25" y="219.75" width="58" height="34.5" fill="#dddddd" stroke="#bfbfbf" stroke-width="1.4"/>
<line x1="889.25" y1="233.25" x2="947.25" y2="233.25" stroke="#c2c2c2" stroke-width="1.6"/>
<line x1="1033.38" y1="347" x2="1033.38" y2="396" stroke="#cc2232" stroke-width="1.4"/>
<rect x="1004.5" y="293.25" width="57.75" height="53.75" fill="#f27a7e" stroke="#cc2232" stroke-width="1.4"/>
<line x1="1004.5" y1="328.25" x2="1062.25" y2="328.25" stroke="#dd3a45" stroke-width="1.6"/>
<g clip-path="url(#clipa3)">
<circle cx="1033.25" cy="195" r="4.5" fill="#b84a4f"/>
<g fill="#000" fill-opacity="0.37"><circle cx="917.9" cy="139.25" r="4.5"/><circle cx="917.68" cy="218" r="4.5"/><circle cx="918.34" cy="227.5" r="4.5"/><circle cx="917.98" cy="240" r="4.5"/><circle cx="917.72" cy="258.75" r="4.5"/><circle cx="917.6" cy="275.75" r="4.5"/><circle cx="1033.25" cy="326.25" r="4.5"/><circle cx="1033.25" cy="330.5" r="4.5"/><circle cx="1033.25" cy="395.5" r="4.5"/></g>
</g>
<clipPath id="clipa3"><rect x="849.25" y="79.5" width="252.75" height="316.75"/></clipPath>
<line x1="849.25" y1="99.5" x2="849.25" y2="397" stroke="#1a1a1a" stroke-width="1.5"/>
<line x1="848.5" y1="396.25" x2="1102" y2="396.25" stroke="#1a1a1a" stroke-width="1.5"/>
<line x1="842.75" y1="180.75" x2="849.25" y2="180.75" stroke="#1a1a1a" stroke-width="1.5"/>
<text x="838.75" y="189.95" font-size="25.5" text-anchor="end">0.2</text>
<line x1="842.75" y1="270.75" x2="849.25" y2="270.75" stroke="#1a1a1a" stroke-width="1.5"/>
<text x="838.75" y="279.95" font-size="25.5" text-anchor="end">0.0</text>
<line x1="842.75" y1="361.25" x2="849.25" y2="361.25" stroke="#1a1a1a" stroke-width="1.5"/>
<text x="838.75" y="370.45" font-size="25.5" text-anchor="end">−0.2</text>
<line x1="918" y1="396.25" x2="918" y2="403.25" stroke="#1a1a1a" stroke-width="1.5"/>
<text x="919.6" y="428.55" font-size="25.2" text-anchor="end">Con</text>
<line x1="1033.25" y1="396.25" x2="1033.25" y2="403.25" stroke="#1a1a1a" stroke-width="1.5"/>
<text x="1034.85" y="428.55" font-size="25.2" text-anchor="end">LoF</text>
<text x="850" y="81" font-size="28.6">Subset</text>
<text x="777.5" y="247.5" font-size="25.5" text-anchor="middle" transform="rotate(-90 777.5 247.5)">ABCA7</text>
<path d="M918 134.5V126.25H1033.25V134.5" fill="none" stroke="#1a1a1a" stroke-width="1.5"/>
<text x="975.62" y="123.25" font-size="23.2" text-anchor="middle">0.17</text>
<line x1="1286" y1="311" x2="1286" y2="317" stroke="#bfbfbf" stroke-width="1.4"/>
<rect x="1257" y="259" width="58" height="52" fill="#dddddd" stroke="#bfbfbf" stroke-width="1.4"/>
<line x1="1257" y1="276.5" x2="1315" y2="276.5" stroke="#c2c2c2" stroke-width="1.6"/>
<line x1="1401" y1="202.5" x2="1401" y2="269.75" stroke="#cc2232" stroke-width="1.4"/>
<line x1="1401" y1="334.5" x2="1401" y2="361.5" stroke="#cc2232" stroke-width="1.4"/>
<rect x="1372" y="269.75" width="58" height="64.75" fill="#f27a7e" stroke="#cc2232" stroke-width="1.4"/>
<line x1="1372" y1="309" x2="1430" y2="309" stroke="#dd3a45" stroke-width="1.6"/>
<g clip-path="url(#clipa4)">
<g fill="#000" fill-opacity="0.37"><circle cx="1286.51" cy="139.25" r="4.5"/><circle cx="1286.38" cy="259" r="4.5"/><circle cx="1286.5" cy="261.5" r="4.5"/><circle cx="1286.11" cy="292.5" r="4.5"/><circle cx="1286.23" cy="317" r="4.5"/><circle cx="1285.83" cy="395.5" r="4.5"/><circle cx="1401" cy="202.5" r="4.5"/><circle cx="1401" cy="293" r="4.5"/><circle cx="1401" cy="325" r="4.5"/><circle cx="1401" cy="361.5" r="4.5"/></g>
</g>
<clipPath id="clipa4"><rect x="1217" y="80" width="252.5" height="316.25"/></clipPath>
<line x1="1217" y1="100" x2="1217" y2="397" stroke="#1a1a1a" stroke-width="1.5"/>
<line x1="1216.25" y1="396.25" x2="1469.5" y2="396.25" stroke="#1a1a1a" stroke-width="1.5"/>
<line x1="1210.5" y1="101.75" x2="1217" y2="101.75" stroke="#1a1a1a" stroke-width="1.5"/>
<text x="1206.5" y="110.95" font-size="25.5" text-anchor="end">0.1</text>
<line x1="1210.5" y1="170.25" x2="1217" y2="170.25" stroke="#1a1a1a" stroke-width="1.5"/>
<text x="1206.5" y="179.45" font-size="25.5" text-anchor="end">0.0</text>
<line x1="1210.5" y1="238.75" x2="1217" y2="238.75" stroke="#1a1a1a" stroke-width="1.5"/>
<text x="1206.5" y="247.95" font-size="25.5" text-anchor="end">−0.1</text>
<line x1="1210.5" y1="307.25" x2="1217" y2="307.25" stroke="#1a1a1a" stroke-width="1.5"/>
<text x="1206.5" y="316.45" font-size="25.5" text-anchor="end">−0.2</text>
<line x1="1210.5" y1="375.5" x2="1217" y2="375.5" stroke="#1a1a1a" stroke-width="1.5"/>
<text x="1206.5" y="384.7" font-size="25.5" text-anchor="end">−0.3</text>
<line x1="1286.25" y1="396.25" x2="1286.25" y2="403.25" stroke="#1a1a1a" stroke-width="1.5"/>
<text x="1287.85" y="428.55" font-size="25.2" text-anchor="end">Con</text>
<line x1="1401" y1="396.25" x2="1401" y2="403.25" stroke="#1a1a1a" stroke-width="1.5"/>
<text x="1402.6" y="428.55" font-size="25.2" text-anchor="end">LoF</text>
<text x="1217.5" y="81" font-size="28.6">Subset</text>
<text x="1146.25" y="247.5" font-size="25.5" text-anchor="middle" transform="rotate(-90 1146.25 247.5)">RBFOX3</text>
<path d="M1286.25 134.5V126.25H1401V134.5" fill="none" stroke="#1a1a1a" stroke-width="1.5"/>
<text x="1343.62" y="123.25" font-size="23.2" text-anchor="middle">0.61</text>
<line x1="167.25" y1="643" x2="167.25" y2="725.75" stroke="#bfbfbf" stroke-width="1.4"/>
<line x1="167.25" y1="815.75" x2="167.25" y2="842.5" stroke="#bfbfbf" stroke-width="1.4"/>
<rect x="135.75" y="725.75" width="63" height="90" fill="#dddddd" stroke="#bfbfbf" stroke-width="1.4"/>
<line x1="135.75" y1="757.75" x2="198.75" y2="757.75" stroke="#c2c2c2" stroke-width="1.6"/>
<line x1="292.12" y1="615" x2="292.12" y2="691.5" stroke="#cc2232" stroke-width="1.4"/>
<line x1="292.12" y1="810.5" x2="292.12" y2="844" stroke="#cc2232" stroke-width="1.4"/>
<rect x="260.5" y="691.5" width="63.25" height="119" fill="#f27a7e" stroke="#cc2232" stroke-width="1.4"/>
<line x1="260.5" y1="751.75" x2="323.75" y2="751.75" stroke="#dd3a45" stroke-width="1.6"/>
<g clip-path="url(#clipb1)">
<g fill="#000" fill-opacity="0.37"><circle cx="167.25" cy="553.25" r="4.5"/><circle cx="166.43" cy="643" r="4.5"/><circle cx="166.96" cy="706.25" r="4.5"/><circle cx="167.31" cy="722.5" r="4.5"/><circle cx="167.21" cy="725" r="4.5"/><circle cx="166.52" cy="728" r="4.5"/><circle cx="166.68" cy="731" r="4.5"/><circle cx="167.41" cy="735" r="4.5"/><circle cx="167.17" cy="747.5" r="4.5"/><circle cx="167.45" cy="770" r="4.5"/><circle cx="167.45" cy="772" r="4.5"/><circle cx="166.94" cy="782.5" r="4.5"/><circle cx="167.48" cy="786" r="4.5"/><circle cx="167.28" cy="813.75" r="4.5"/><circle cx="166.8" cy="822.5" r="4.5"/><circle cx="166.84" cy="826" r="4.5"/><circle cx="166.49" cy="838.75" r="4.5"/><circle cx="166.88" cy="842.5" r="4.5"/><circle cx="292" cy="614.5" r="4.5"/><circle cx="292" cy="643.25" r="4.5"/><circle cx="292" cy="688.75" r="4.5"/><circle cx="292" cy="692.5" r="4.5"/><circle cx="292" cy="702.5" r="4.5"/><circle cx="292" cy="738.75" r="4.5"/><circle cx="292" cy="765.5" r="4.5"/><circle cx="292" cy="801.25" r="4.5"/><circle cx="292" cy="807.5" r="4.5"/><circle cx="292" cy="813.75" r="4.5"/><circle cx="292" cy="835" r="4.5"/><circle cx="292" cy="843.75" r="4.5"/></g>
</g>
<clipPath id="clipb1"><rect x="92.5" y="487.5" width="274.25" height="356.75"/></clipPath>
<line x1="92.5" y1="507.5" x2="92.5" y2="845" stroke="#1a1a1a" stroke-width="1.5"/>
<line x1="91.75" y1="844.25" x2="366.75" y2="844.25" stroke="#1a1a1a" stroke-width="1.5"/>
<line x1="86" y1="588.25" x2="92.5" y2="588.25" stroke="#1a1a1a" stroke-width="1.5"/>
<text x="82" y="597.45" font-size="25.5" text-anchor="end">15</text>
<line x1="86" y1="673.75" x2="92.5" y2="673.75" stroke="#1a1a1a" stroke-width="1.5"/>
<text x="82" y="682.95" font-size="25.5" text-anchor="end">10</text>
<line x1="86" y1="759.25" x2="92.5" y2="759.25" stroke="#1a1a1a" stroke-width="1.5"/>
<text x="82" y="768.45" font-size="25.5" text-anchor="end">5</text>
<line x1="86" y1="844.6" x2="92.5" y2="844.6" stroke="#1a1a1a" stroke-width="1.5"/>
<text x="82" y="853.8" font-size="25.5" text-anchor="end">0</text>
<line x1="167" y1="844.25" x2="167" y2="851.25" stroke="#1a1a1a" stroke-width="1.5"/>
<text x="168.6" y="876.55" font-size="25.2" text-anchor="end">Con</text>
<line x1="292" y1="844.25" x2="292" y2="851.25" stroke="#1a1a1a" stroke-width="1.5"/>
<text x="293.6" y="876.55" font-size="25.2" text-anchor="end">LoF</text>
<text x="41.5" y="676.3" font-size="25.5" text-anchor="middle" transform="rotate(-90 41.5 676.3)">amyloid</text>
<path d="M167 546.25V537.5H292V546.25" fill="none" stroke="#1a1a1a" stroke-width="1.5"/>
<text x="229.5" y="535" font-size="23.2" text-anchor="middle">0.58</text>
<line x1="521" y1="640" x2="521" y2="745.5" stroke="#bfbfbf" stroke-width="1.4"/>
<line x1="521" y1="821.25" x2="521" y2="842.5" stroke="#bfbfbf" stroke-width="1.4"/>
<rect x="489.5" y="745.5" width="63" height="75.75" fill="#dddddd" stroke="#bfbfbf" stroke-width="1.4"/>
<line x1="489.5" y1="796.75" x2="552.5" y2="796.75" stroke="#c2c2c2" stroke-width="1.6"/>
<line x1="646" y1="724.5" x2="646" y2="775.5" stroke="#cc2232" stroke-width="1.4"/>
<line x1="646" y1="827.5" x2="646" y2="836" stroke="#cc2232" stroke-width="1.4"/>
<rect x="614.5" y="775.5" width="63" height="52" fill="#f27a7e" stroke="#cc2232" stroke-width="1.4"/>
<line x1="614.5" y1="816.25" x2="677.5" y2="816.25" stroke="#dd3a45" stroke-width="1.6"/>
<g clip-path="url(#clipb2)">
<circle cx="645.75" cy="652.5" r="4.5" fill="#b84a4f"/>
<g fill="#000" fill-opacity="0.37"><circle cx="521.3" cy="553" r="4.5"/><circle cx="520.28" cy="640.5" r="4.5"/><circle cx="520.83" cy="663" r="4.5"/><circle cx="520.28" cy="693.25" r="4.5"/><circle cx="520.25" cy="709.25" r="4.5"/><circle cx="520.93" cy="727" r="4.5"/><circle cx="520.44" cy="751.25" r="4.5"/><circle cx="520.21" cy="759.5" r="4.5"/><circle cx="520.33" cy="762" r="4.5"/><circle cx="520.92" cy="767.5" r="4.5"/><circle cx="520.85" cy="794.5" r="4.5"/><circle cx="520.16" cy="799.5" r="4.5"/><circle cx="520.43" cy="808.75" r="4.5"/><circle cx="521.31" cy="812" r="4.5"/><circle cx="520.41" cy="816.25" r="4.5"/><circle cx="520.82" cy="830" r="4.5"/><circle cx="520.65" cy="833" r="4.5"/><circle cx="521.09" cy="835.5" r="4.5"/><circle cx="520.88" cy="842.5" r="4.5"/><circle cx="645.75" cy="724.5" r="4.5"/><circle cx="645.75" cy="773.75" r="4.5"/><circle cx="645.75" cy="800" r="4.5"/><circle cx="645.75" cy="813.75" r="4.5"/><circle cx="645.75" cy="818.75" r="4.5"/><circle cx="645.75" cy="826.25" r="4.5"/><circle cx="645.75" cy="836" r="4.5"/></g>
</g>
<clipPath id="clipb2"><rect x="446.25" y="487.5" width="274.5" height="356.75"/></clipPath>
<line x1="446.25" y1="507.5" x2="446.25" y2="845" stroke="#1a1a1a" stroke-width="1.5"/>
<line x1="445.5" y1="844.25" x2="720.75" y2="844.25" stroke="#1a1a1a" stroke-width="1.5"/>
<line x1="439.75" y1="528" x2="446.25" y2="528" stroke="#1a1a1a" stroke-width="1.5"/>
<text x="435.75" y="537.2" font-size="25.5" text-anchor="end">4</text>
<line x1="439.75" y1="608" x2="446.25" y2="608" stroke="#1a1a1a" stroke-width="1.5"/>
<text x="435.75" y="617.2" font-size="25.5" text-anchor="end">3</text>
<line x1="439.75" y1="688" x2="446.25" y2="688" stroke="#1a1a1a" stroke-width="1.5"/>
<text x="435.75" y="697.2" font-size="25.5" text-anchor="end">2</text>
<line x1="439.75" y1="768" x2="446.25" y2="768" stroke="#1a1a1a" stroke-width="1.5"/>
<text x="435.75" y="777.2" font-size="25.5" text-anchor="end">1</text>
<line x1="520.75" y1="844.25" x2="520.75" y2="851.25" stroke="#1a1a1a" stroke-width="1.5"/>
<text x="522.35" y="876.55" font-size="25.2" text-anchor="end">Con</text>
<line x1="645.75" y1="844.25" x2="645.75" y2="851.25" stroke="#1a1a1a" stroke-width="1.5"/>
<text x="647.35" y="876.55" font-size="25.2" text-anchor="end">LoF</text>
<text x="410" y="675.6" font-size="25.5" text-anchor="middle" transform="rotate(-90 410 675.6)">nft</text>
<path d="M520.75 546.25V537.5H645.75V546.25" fill="none" stroke="#1a1a1a" stroke-width="1.5"/>
<text x="583.25" y="535" font-size="23.2" text-anchor="middle">0.36</text>
<line x1="902.5" y1="625" x2="902.5" y2="670.25" stroke="#bfbfbf" stroke-width="1.4"/>
<line x1="902.5" y1="717.5" x2="902.5" y2="738.25" stroke="#bfbfbf" stroke-width="1.4"/>
<rect x="871.25" y="670.25" width="62.5" height="47.25" fill="#dddddd" stroke="#bfbfbf" stroke-width="1.4"/>
<line x1="871.25" y1="696.75" x2="933.75" y2="696.75" stroke="#c2c2c2" stroke-width="1.6"/>
<line x1="1027.5" y1="552.5" x2="1027.5" y2="626.5" stroke="#cc2232" stroke-width="1.4"/>
<line x1="1027.5" y1="745" x2="1027.5" y2="783.75" stroke="#cc2232" stroke-width="1.4"/>
<rect x="996.25" y="626.5" width="62.5" height="118.5" fill="#f27a7e" stroke="#cc2232" stroke-width="1.4"/>
<line x1="996.25" y1="678.75" x2="1058.75" y2="678.75" stroke="#dd3a45" stroke-width="1.6"/>
<g clip-path="url(#clipb3)">
<g fill="#000" fill-opacity="0.37"><circle cx="903.1" cy="622.5" r="4.5"/><circle cx="902.79" cy="626.25" r="4.5"/><circle cx="902.38" cy="635" r="4.5"/><circle cx="902.36" cy="641.25" r="4.5"/><circle cx="902.24" cy="643" r="4.5"/><circle cx="903.14" cy="662" r="4.5"/><circle cx="902.29" cy="672.5" r="4.5"/><circle cx="902.18" cy="676.25" r="4.5"/><circle cx="903.31" cy="687.5" r="4.5"/><circle cx="902.39" cy="696.25" r="4.5"/><circle cx="903.22" cy="698.75" r="4.5"/><circle cx="902.25" cy="707.5" r="4.5"/><circle cx="902.71" cy="716.25" r="4.5"/><circle cx="902.42" cy="718.75" r="4.5"/><circle cx="903.15" cy="723.75" r="4.5"/><circle cx="902.89" cy="738.75" r="4.5"/><circle cx="902.92" cy="807" r="4.5"/><circle cx="903.06" cy="836.25" r="4.5"/><circle cx="903.2" cy="842.5" r="4.5"/><circle cx="1027.5" cy="552.5" r="4.5"/><circle cx="1027.5" cy="561.25" r="4.5"/><circle cx="1027.5" cy="620" r="4.5"/><circle cx="1027.5" cy="628.75" r="4.5"/><circle cx="1027.5" cy="651.25" r="4.5"/><circle cx="1027.5" cy="676.25" r="4.5"/><circle cx="1027.5" cy="682" r="4.5"/><circle cx="1027.5" cy="730.75" r="4.5"/><circle cx="1027.5" cy="740.75" r="4.5"/><circle cx="1027.5" cy="754.5" r="4.5"/><circle cx="1027.5" cy="782.5" r="4.5"/><circle cx="1027.5" cy="786.25" r="4.5"/></g>
</g>
<clipPath id="clipb3"><rect x="827.75" y="487.5" width="274.25" height="356.75"/></clipPath>
<line x1="827.75" y1="507.5" x2="827.75" y2="845" stroke="#1a1a1a" stroke-width="1.5"/>
<line x1="827" y1="844.25" x2="1102" y2="844.25" stroke="#1a1a1a" stroke-width="1.5"/>
<line x1="821.25" y1="561.25" x2="827.75" y2="561.25" stroke="#1a1a1a" stroke-width="1.5"/>
<text x="817.25" y="570.45" font-size="25.5" text-anchor="end">100</text>
<line x1="821.25" y1="615.75" x2="827.75" y2="615.75" stroke="#1a1a1a" stroke-width="1.5"/>
<text x="817.25" y="624.95" font-size="25.5" text-anchor="end">95</text>
<line x1="821.25" y1="670.25" x2="827.75" y2="670.25" stroke="#1a1a1a" stroke-width="1.5"/>
<text x="817.25" y="679.45" font-size="25.5" text-anchor="end">90</text>
<line x1="821.25" y1="724.75" x2="827.75" y2="724.75" stroke="#1a1a1a" stroke-width="1.5"/>
<text x="817.25" y="733.95" font-size="25.5" text-anchor="end">85</text>
<line x1="821.25" y1="779.25" x2="827.75" y2="779.25" stroke="#1a1a1a" stroke-width="1.5"/>
<text x="817.25" y="788.45" font-size="25.5" text-anchor="end">80</text>
<line x1="821.25" y1="833.75" x2="827.75" y2="833.75" stroke="#1a1a1a" stroke-width="1.5"/>
<text x="817.25" y="842.95" font-size="25.5" text-anchor="end">75</text>
<line x1="902.75" y1="844.25" x2="902.75" y2="851.25" stroke="#1a1a1a" stroke-width="1.5"/>
<text x="904.35" y="876.55" font-size="25.2" text-anchor="end">Con</text>
<line x1="1027.5" y1="844.25" x2="1027.5" y2="851.25" stroke="#1a1a1a" stroke-width="1.5"/>
<text x="1029.1" y="876.55" font-size="25.2" text-anchor="end">LoF</text>
<text x="763.9" y="676.1" font-size="25.5" text-anchor="middle" transform="rotate(-90 763.9 676.1)">age_death</text>
<path d="M902.75 546.25V537.5H1027.5V546.25" fill="none" stroke="#1a1a1a" stroke-width="1.5"/>
<text x="965.12" y="535" font-size="23.2" text-anchor="middle">0.63</text>
<line x1="1270.25" y1="781.25" x2="1270.25" y2="786.5" stroke="#bfbfbf" stroke-width="1.4"/>
<line x1="1270.25" y1="815.5" x2="1270.25" y2="842.5" stroke="#bfbfbf" stroke-width="1.4"/>
<rect x="1238.75" y="786.5" width="63" height="29" fill="#dddddd" stroke="#bfbfbf" stroke-width="1.4"/>
<line x1="1238.75" y1="805.5" x2="1301.75" y2="805.5" stroke="#c2c2c2" stroke-width="1.6"/>
<line x1="1395.25" y1="794.5" x2="1395.25" y2="824.5" stroke="#cc2232" stroke-width="1.4"/>
<rect x="1363.75" y="772.5" width="63" height="22" fill="#f27a7e" stroke="#cc2232" stroke-width="1.4"/>
<line x1="1363.75" y1="787" x2="1426.75" y2="787" stroke="#dd3a45" stroke-width="1.6"/>
<g clip-path="url(#clipb4)">
<circle cx="1395" cy="590.75" r="4.5" fill="#b84a4f"/>
<circle cx="1395" cy="728.25" r="4.5" fill="#b84a4f"/>
<g fill="#000" fill-opacity="0.37"><circle cx="1269.82" cy="552.5" r="4.5"/><circle cx="1270.12" cy="649.25" r="4.5"/><circle cx="1269.93" cy="651.25" r="4.5"/><circle cx="1269.53" cy="707.5" r="4.5"/><circle cx="1270.4" cy="781.25" r="4.5"/><circle cx="1270.11" cy="785.75" r="4.5"/><circle cx="1270.38" cy="788" r="4.5"/><circle cx="1269.65" cy="792.5" r="4.5"/><circle cx="1270.05" cy="797" r="4.5"/><circle cx="1269.96" cy="802.5" r="4.5"/><circle cx="1270.27" cy="805" r="4.5"/><circle cx="1269.49" cy="808.75" r="4.5"/><circle cx="1269.82" cy="811" r="4.5"/><circle cx="1269.98" cy="813.75" r="4.5"/><circle cx="1269.49" cy="815" r="4.5"/><circle cx="1270.06" cy="817.5" r="4.5"/><circle cx="1270.28" cy="819" r="4.5"/><circle cx="1269.91" cy="822.5" r="4.5"/><circle cx="1270.18" cy="842.5" r="4.5"/><circle cx="1395" cy="772" r="4.5"/><circle cx="1395" cy="782.5" r="4.5"/><circle cx="1395" cy="792.5" r="4.5"/><circle cx="1395" cy="795.5" r="4.5"/><circle cx="1395" cy="824.5" r="4.5"/></g>
</g>
<clipPath id="clipb4"><rect x="1195.75" y="487.5" width="274.25" height="356.75"/></clipPath>
<line x1="1195.75" y1="507.5" x2="1195.75" y2="845" stroke="#1a1a1a" stroke-width="1.5"/>
<line x1="1195" y1="844.25" x2="1470" y2="844.25" stroke="#1a1a1a" stroke-width="1.5"/>
<line x1="1189.25" y1="626.5" x2="1195.75" y2="626.5" stroke="#1a1a1a" stroke-width="1.5"/>
<text x="1185.25" y="635.7" font-size="25.5" text-anchor="end">20</text>
<line x1="1189.25" y1="746.25" x2="1195.75" y2="746.25" stroke="#1a1a1a" stroke-width="1.5"/>
<text x="1185.25" y="755.45" font-size="25.5" text-anchor="end">10</text>
<line x1="1270" y1="844.25" x2="1270" y2="851.25" stroke="#1a1a1a" stroke-width="1.5"/>
<text x="1271.6" y="876.55" font-size="25.2" text-anchor="end">Con</text>
<line x1="1395" y1="844.25" x2="1395" y2="851.25" stroke="#1a1a1a" stroke-width="1.5"/>
<text x="1396.6" y="876.55" font-size="25.2" text-anchor="end">LoF</text>
<text x="1144.6" y="676.25" font-size="25.5" text-anchor="middle" transform="rotate(-90 1144.6 676.25)">pmi</text>
<path d="M1270 546.25V537.5H1395V546.25" fill="none" stroke="#1a1a1a" stroke-width="1.5"/>
<text x="1332.5" y="535" font-size="23.2" text-anchor="middle">0.07</text>
<rect x="114" y="1067.5" width="38.75" height="134.25" fill="#149e79" stroke="#000" stroke-width="1.3"/>
<rect x="114" y="1201.75" width="38.75" height="93.5" fill="#d96028" stroke="#000" stroke-width="1.3"/>
<rect x="114" y="1295.25" width="38.75" height="26.5" fill="#7671b4" stroke="#000" stroke-width="1.3"/>
<rect x="114" y="1321.75" width="38.75" height="67.45" fill="#e82888" stroke="#000" stroke-width="1.3"/>
<rect x="157.25" y="1067.5" width="38.75" height="187.5" fill="#149e79" stroke="#000" stroke-width="1.3"/>
<rect x="157.25" y="1255" width="38.75" height="107.5" fill="#d96028" stroke="#000" stroke-width="1.3"/>
<rect x="157.25" y="1362.5" width="38.75" height="26.7" fill="#7671b4" stroke="#000" stroke-width="1.3"/>
<line x1="108" y1="1018" x2="108" y2="1407" stroke="#1a1a1a" stroke-width="1.3"/>
<line x1="107.4" y1="1406.5" x2="202" y2="1406.5" stroke="#1a1a1a" stroke-width="1.3"/>
<line x1="102" y1="1389.2" x2="108" y2="1389.2" stroke="#4d4d4d" stroke-width="1.3"/>
<text x="94.8" y="1398.1" font-size="24.5" text-anchor="end" fill="#4d4d4d">0.0</text>
<line x1="102" y1="1292.63" x2="108" y2="1292.63" stroke="#4d4d4d" stroke-width="1.3"/>
<text x="94.8" y="1301.53" font-size="24.5" text-anchor="end" fill="#4d4d4d">0.3</text>
<line x1="102" y1="1196.06" x2="108" y2="1196.06" stroke="#4d4d4d" stroke-width="1.3"/>
<text x="94.8" y="1204.96" font-size="24.5" text-anchor="end" fill="#4d4d4d">0.6</text>
<line x1="102" y1="1099.49" x2="108" y2="1099.49" stroke="#4d4d4d" stroke-width="1.3"/>
<text x="94.8" y="1108.39" font-size="24.5" text-anchor="end" fill="#4d4d4d">0.9</text>
<line x1="133.4" y1="1406.5" x2="133.4" y2="1413.7" stroke="#4d4d4d" stroke-width="1.3"/>
<text x="133.4" y="1436.2" font-size="24.5" text-anchor="middle" fill="#4d4d4d">Con</text>
<line x1="176.6" y1="1406.5" x2="176.6" y2="1413.7" stroke="#4d4d4d" stroke-width="1.3"/>
<text x="176.6" y="1436.2" font-size="24.5" text-anchor="middle" fill="#4d4d4d">LoF</text>
<text x="107.5" y="996.5" font-size="28.4">ceradsc</text>
<text x="140.5" y="1046.3" font-size="29" text-anchor="middle">0.37</text>
<text x="50" y="1212.5" font-size="28.6" text-anchor="middle" transform="rotate(-90 50 1212.5)">fraction</text>
<text x="245.6" y="1125.2" font-size="28.4">ceradsc</text>
<rect x="247" y="1144.7" width="41.5" height="41.3" fill="#149e79" stroke="#000" stroke-width="1.3"/>
<text x="302.6" y="1174.45" font-size="25.3">1</text>
<rect x="247" y="1189.6" width="41.5" height="41.3" fill="#d96028" stroke="#000" stroke-width="1.3"/>
<text x="302.6" y="1219.35" font-size="25.3">2</text>
<rect x="247" y="1234.5" width="41.5" height="41.3" fill="#7671b4" stroke="#000" stroke-width="1.3"/>
<text x="302.6" y="1264.25" font-size="25.3">3</text>
<rect x="247" y="1279.4" width="41.5" height="41.3" fill="#e82888" stroke="#000" stroke-width="1.3"/>
<text x="302.6" y="1309.15" font-size="25.3">4</text>
<rect x="472.75" y="1067.5" width="38.75" height="13.75" fill="#149e79" stroke="#000" stroke-width="1.3"/>
<rect x="472.75" y="1081.25" width="38.75" height="80" fill="#d96028" stroke="#000" stroke-width="1.3"/>
<rect x="472.75" y="1161.25" width="38.75" height="107.5" fill="#7671b4" stroke="#000" stroke-width="1.3"/>
<rect x="472.75" y="1268.75" width="38.75" height="120.45" fill="#e82888" stroke="#000" stroke-width="1.3"/>
<rect x="516" y="1067.5" width="38.75" height="80" fill="#d96028" stroke="#000" stroke-width="1.3"/>
<rect x="516" y="1147.5" width="38.75" height="134.25" fill="#7671b4" stroke="#000" stroke-width="1.3"/>
<rect x="516" y="1281.75" width="38.75" height="107.45" fill="#e82888" stroke="#000" stroke-width="1.3"/>
<line x1="466.75" y1="1018" x2="466.75" y2="1407" stroke="#1a1a1a" stroke-width="1.3"/>
<line x1="466.15" y1="1406.5" x2="560.75" y2="1406.5" stroke="#1a1a1a" stroke-width="1.3"/>
<line x1="460.75" y1="1389.2" x2="466.75" y2="1389.2" stroke="#4d4d4d" stroke-width="1.3"/>
<text x="453.55" y="1398.1" font-size="24.5" text-anchor="end" fill="#4d4d4d">0.0</text>
<line x1="460.75" y1="1292.63" x2="466.75" y2="1292.63" stroke="#4d4d4d" stroke-width="1.3"/>
<text x="453.55" y="1301.53" font-size="24.5" text-anchor="end" fill="#4d4d4d">0.3</text>
<line x1="460.75" y1="1196.06" x2="466.75" y2="1196.06" stroke="#4d4d4d" stroke-width="1.3"/>
<text x="453.55" y="1204.96" font-size="24.5" text-anchor="end" fill="#4d4d4d">0.6</text>
<line x1="460.75" y1="1099.49" x2="466.75" y2="1099.49" stroke="#4d4d4d" stroke-width="1.3"/>
<text x="453.55" y="1108.39" font-size="24.5" text-anchor="end" fill="#4d4d4d">0.9</text>
<line x1="492.15" y1="1406.5" x2="492.15" y2="1413.7" stroke="#4d4d4d" stroke-width="1.3"/>
<text x="492.15" y="1436.2" font-size="24.5" text-anchor="middle" fill="#4d4d4d">Con</text>
<line x1="535.35" y1="1406.5" x2="535.35" y2="1413.7" stroke="#4d4d4d" stroke-width="1.3"/>
<text x="535.35" y="1436.2" font-size="24.5" text-anchor="middle" fill="#4d4d4d">LoF</text>
<text x="466.25" y="996.5" font-size="28.4">braaksc</text>
<text x="499.25" y="1046.3" font-size="29" text-anchor="middle">1</text>
<text x="408.75" y="1212.5" font-size="28.6" text-anchor="middle" transform="rotate(-90 408.75 1212.5)">fraction</text>
<text x="604.35" y="1125.2" font-size="28.4">braaksc</text>
<rect x="605.75" y="1144.7" width="41.5" height="41.3" fill="#149e79" stroke="#000" stroke-width="1.3"/>
<text x="661.35" y="1174.45" font-size="25.3">2</text>
<rect x="605.75" y="1189.6" width="41.5" height="41.3" fill="#d96028" stroke="#000" stroke-width="1.3"/>
<text x="661.35" y="1219.35" font-size="25.3">3</text>
<rect x="605.75" y="1234.5" width="41.5" height="41.3" fill="#7671b4" stroke="#000" stroke-width="1.3"/>
<text x="661.35" y="1264.25" font-size="25.3">4</text>
<rect x="605.75" y="1279.4" width="41.5" height="41.3" fill="#e82888" stroke="#000" stroke-width="1.3"/>
<text x="661.35" y="1309.15" font-size="25.3">5</text>
<rect x="830.5" y="1067.5" width="38.75" height="174.25" fill="#149e79" stroke="#000" stroke-width="1.3"/>
<rect x="830.5" y="1241.75" width="38.75" height="147.45" fill="#d96028" stroke="#000" stroke-width="1.3"/>
<rect x="873.75" y="1067.5" width="38.75" height="187.5" fill="#149e79" stroke="#000" stroke-width="1.3"/>
<rect x="873.75" y="1255" width="38.75" height="134.2" fill="#d96028" stroke="#000" stroke-width="1.3"/>
<line x1="824.5" y1="1018" x2="824.5" y2="1407" stroke="#1a1a1a" stroke-width="1.3"/>
<line x1="823.9" y1="1406.5" x2="918.5" y2="1406.5" stroke="#1a1a1a" stroke-width="1.3"/>
<line x1="818.5" y1="1389.2" x2="824.5" y2="1389.2" stroke="#4d4d4d" stroke-width="1.3"/>
<text x="811.3" y="1398.1" font-size="24.5" text-anchor="end" fill="#4d4d4d">0.0</text>
<line x1="818.5" y1="1292.63" x2="824.5" y2="1292.63" stroke="#4d4d4d" stroke-width="1.3"/>
<text x="811.3" y="1301.53" font-size="24.5" text-anchor="end" fill="#4d4d4d">0.3</text>
<line x1="818.5" y1="1196.06" x2="824.5" y2="1196.06" stroke="#4d4d4d" stroke-width="1.3"/>
<text x="811.3" y="1204.96" font-size="24.5" text-anchor="end" fill="#4d4d4d">0.6</text>
<line x1="818.5" y1="1099.49" x2="824.5" y2="1099.49" stroke="#4d4d4d" stroke-width="1.3"/>
<text x="811.3" y="1108.39" font-size="24.5" text-anchor="end" fill="#4d4d4d">0.9</text>
<line x1="849.9" y1="1406.5" x2="849.9" y2="1413.7" stroke="#4d4d4d" stroke-width="1.3"/>
<text x="849.9" y="1436.2" font-size="24.5" text-anchor="middle" fill="#4d4d4d">Con</text>
<line x1="893.1" y1="1406.5" x2="893.1" y2="1413.7" stroke="#4d4d4d" stroke-width="1.3"/>
<text x="893.1" y="1436.2" font-size="24.5" text-anchor="middle" fill="#4d4d4d">LoF</text>
<text x="824" y="996.5" font-size="28.4">msex</text>
<text x="857" y="1046.3" font-size="29" text-anchor="middle">1</text>
<text x="766.5" y="1212.5" font-size="28.6" text-anchor="middle" transform="rotate(-90 766.5 1212.5)">fraction</text>
<text x="962.1" y="1170.1" font-size="28.4">msex</text>
<rect x="963.5" y="1189.6" width="41.5" height="41.3" fill="#149e79" stroke="#000" stroke-width="1.3"/>
<text x="1019.1" y="1219.35" font-size="25.3">0</text>
<rect x="963.5" y="1234.5" width="41.5" height="41.3" fill="#d96028" stroke="#000" stroke-width="1.3"/>
<text x="1019.1" y="1264.25" font-size="25.3">1</text>
<rect x="1161.5" y="1067.5" width="38.75" height="13.75" fill="#149e79" stroke="#000" stroke-width="1.3"/>
<rect x="1161.5" y="1081.25" width="38.75" height="240.85" fill="#7671b4" stroke="#000" stroke-width="1.3"/>
<rect x="1161.5" y="1322.1" width="38.75" height="53.4" fill="#e82888" stroke="#000" stroke-width="1.3"/>
<rect x="1161.5" y="1375.5" width="38.75" height="13.7" fill="#67a944" stroke="#000" stroke-width="1.3"/>
<rect x="1204.75" y="1067.5" width="38.75" height="26.75" fill="#d96028" stroke="#000" stroke-width="1.3"/>
<rect x="1204.75" y="1094.25" width="38.75" height="214.45" fill="#7671b4" stroke="#000" stroke-width="1.3"/>
<rect x="1204.75" y="1308.7" width="38.75" height="53.5" fill="#e82888" stroke="#000" stroke-width="1.3"/>
<rect x="1204.75" y="1362.2" width="38.75" height="27" fill="#67a944" stroke="#000" stroke-width="1.3"/>
<line x1="1155.5" y1="1018" x2="1155.5" y2="1407" stroke="#1a1a1a" stroke-width="1.3"/>
<line x1="1154.9" y1="1406.5" x2="1249.5" y2="1406.5" stroke="#1a1a1a" stroke-width="1.3"/>
<line x1="1149.5" y1="1389.2" x2="1155.5" y2="1389.2" stroke="#4d4d4d" stroke-width="1.3"/>
<text x="1142.3" y="1398.1" font-size="24.5" text-anchor="end" fill="#4d4d4d">0.0</text>
<line x1="1149.5" y1="1292.63" x2="1155.5" y2="1292.63" stroke="#4d4d4d" stroke-width="1.3"/>
<text x="1142.3" y="1301.53" font-size="24.5" text-anchor="end" fill="#4d4d4d">0.3</text>
<line x1="1149.5" y1="1196.06" x2="1155.5" y2="1196.06" stroke="#4d4d4d" stroke-width="1.3"/>
<text x="1142.3" y="1204.96" font-size="24.5" text-anchor="end" fill="#4d4d4d">0.6</text>
<line x1="1149.5" y1="1099.49" x2="1155.5" y2="1099.49" stroke="#4d4d4d" stroke-width="1.3"/>
<text x="1142.3" y="1108.39" font-size="24.5" text-anchor="end" fill="#4d4d4d">0.9</text>
<line x1="1180.9" y1="1406.5" x2="1180.9" y2="1413.7" stroke="#4d4d4d" stroke-width="1.3"/>
<text x="1180.9" y="1436.2" font-size="24.5" text-anchor="middle" fill="#4d4d4d">Con</text>
<line x1="1224.1" y1="1406.5" x2="1224.1" y2="1413.7" stroke="#4d4d4d" stroke-width="1.3"/>
<text x="1224.1" y="1436.2" font-size="24.5" text-anchor="middle" fill="#4d4d4d">LoF</text>
<text x="1155" y="996.5" font-size="28.4">apoe_genotype</text>
<text x="1188" y="1046.3" font-size="29" text-anchor="middle">0.71</text>
<text x="1097.5" y="1212.5" font-size="28.6" text-anchor="middle" transform="rotate(-90 1097.5 1212.5)">fraction</text>
<text x="1293.1" y="1102.75" font-size="28.4">apoe_genotype</text>
<rect x="1294.5" y="1122.25" width="41.5" height="41.3" fill="#149e79" stroke="#000" stroke-width="1.3"/>
<text x="1350.1" y="1152" font-size="25.3">23</text>
<rect x="1294.5" y="1167.15" width="41.5" height="41.3" fill="#d96028" stroke="#000" stroke-width="1.3"/>
<text x="1350.1" y="1196.9" font-size="25.3">24</text>
<rect x="1294.5" y="1212.05" width="41.5" height="41.3" fill="#7671b4" stroke="#000" stroke-width="1.3"/>
<text x="1350.1" y="1241.8" font-size="25.3">33</text>
<rect x="1294.5" y="1256.95" width="41.5" height="41.3" fill="#e82888" stroke="#000" stroke-width="1.3"/>
<text x="1350.1" y="1286.7" font-size="25.3">34</text>
<rect x="1294.5" y="1301.85" width="41.5" height="41.3" fill="#67a944" stroke="#000" stroke-width="1.3"/>
<text x="1350.1" y="1331.6" font-size="25.3">44</text>
<rect x="1617.25" y="1067.5" width="38.75" height="67" fill="#149e79" stroke="#000" stroke-width="1.3"/>
<rect x="1617.25" y="1134.5" width="38.75" height="93.75" fill="#d96028" stroke="#000" stroke-width="1.3"/>
<rect x="1617.25" y="1228.25" width="38.75" height="160.95" fill="#7671b4" stroke="#000" stroke-width="1.3"/>
<rect x="1660.5" y="1067.5" width="38.75" height="107" fill="#149e79" stroke="#000" stroke-width="1.3"/>
<rect x="1660.5" y="1174.5" width="38.75" height="80.5" fill="#d96028" stroke="#000" stroke-width="1.3"/>
<rect x="1660.5" y="1255" width="38.75" height="134.2" fill="#7671b4" stroke="#000" stroke-width="1.3"/>
<line x1="1611.25" y1="1018" x2="1611.25" y2="1407" stroke="#1a1a1a" stroke-width="1.3"/>
<line x1="1610.65" y1="1406.5" x2="1705.25" y2="1406.5" stroke="#1a1a1a" stroke-width="1.3"/>
<line x1="1605.25" y1="1389.2" x2="1611.25" y2="1389.2" stroke="#4d4d4d" stroke-width="1.3"/>
<text x="1598.05" y="1398.1" font-size="24.5" text-anchor="end" fill="#4d4d4d">0.0</text>
<line x1="1605.25" y1="1292.63" x2="1611.25" y2="1292.63" stroke="#4d4d4d" stroke-width="1.3"/>
<text x="1598.05" y="1301.53" font-size="24.5" text-anchor="end" fill="#4d4d4d">0.3</text>
<line x1="1605.25" y1="1196.06" x2="1611.25" y2="1196.06" stroke="#4d4d4d" stroke-width="1.3"/>
<text x="1598.05" y="1204.96" font-size="24.5" text-anchor="end" fill="#4d4d4d">0.6</text>
<line x1="1605.25" y1="1099.49" x2="1611.25" y2="1099.49" stroke="#4d4d4d" stroke-width="1.3"/>
<text x="1598.05" y="1108.39" font-size="24.5" text-anchor="end" fill="#4d4d4d">0.9</text>
<line x1="1636.65" y1="1406.5" x2="1636.65" y2="1413.7" stroke="#4d4d4d" stroke-width="1.3"/>
<text x="1636.65" y="1436.2" font-size="24.5" text-anchor="middle" fill="#4d4d4d">Con</text>
<line x1="1679.85" y1="1406.5" x2="1679.85" y2="1413.7" stroke="#4d4d4d" stroke-width="1.3"/>
<text x="1679.85" y="1436.2" font-size="24.5" text-anchor="middle" fill="#4d4d4d">LoF</text>
<text x="1610.75" y="996.5" font-size="28.4">cogdx</text>
<text x="1643.75" y="1046.3" font-size="29" text-anchor="middle">0.81</text>
<text x="1553.25" y="1212.5" font-size="28.6" text-anchor="middle" transform="rotate(-90 1553.25 1212.5)">fraction</text>
<text x="1748.85" y="1147.65" font-size="28.4">cogdx</text>
<rect x="1750.25" y="1167.15" width="41.5" height="41.3" fill="#149e79" stroke="#000" stroke-width="1.3"/>
<text x="1805.85" y="1196.9" font-size="25.3">1</text>
<rect x="1750.25" y="1212.05" width="41.5" height="41.3" fill="#d96028" stroke="#000" stroke-width="1.3"/>
<text x="1805.85" y="1241.8" font-size="25.3">2</text>
<rect x="1750.25" y="1256.95" width="41.5" height="41.3" fill="#7671b4" stroke="#000" stroke-width="1.3"/>
<text x="1805.85" y="1286.7" font-size="25.3">4</text>
<text x="0" y="17.6" font-size="32.7" font-weight="bold">a</text>
<text x="0.5" y="465.8" font-size="32.7" font-weight="bold">b</text>
<text x="0.5" y="942.5" font-size="32.7" font-weight="bold">c</text>
<text x="0.5" y="1534" font-size="32.7" font-weight="bold">d</text>
<text x="966" y="1534" font-size="32.7" font-weight="bold">e</text>
<text x="965.5" y="2287.8" font-size="32.7" font-weight="bold">f</text>
<rect x="1.2" y="1552.5" width="933.3" height="292.7" fill="none" stroke="#555" stroke-width="1.3"/>
<text x="349" y="1581.8" font-size="23.7" font-weight="bold">rs547447016 (c.2126_2132delACGAGGA)</text>
<text x="13.4" y="1605.1" font-size="21.5" font-style="italic">SM-CJK5K (control)</text>
<text x="13.4" y="1734.2" font-size="21.5" font-style="italic">SM-CJGHG (LoF)</text>
<rect x="235.5" y="1702.4" width="688" height="2.6" fill="#c9c9c9"/>
<line x1="397.92" y1="1612" x2="397.92" y2="1701.8" stroke="#b5b5b5" stroke-width="0.9" stroke-dasharray="3 2.2"/>
<line x1="568.95" y1="1612" x2="568.95" y2="1701.8" stroke="#b5b5b5" stroke-width="0.9" stroke-dasharray="3 2.2"/>
<line x1="739.97" y1="1612" x2="739.97" y2="1701.8" stroke="#b5b5b5" stroke-width="0.9" stroke-dasharray="3 2.2"/>
<line x1="911" y1="1612" x2="911" y2="1701.8" stroke="#b5b5b5" stroke-width="0.9" stroke-dasharray="3 2.2"/>
<path id="p1C" d="M235.5 1698.7l1.3-2.7 1.2-4.1 1.2-5.6 1.3-6.1 1.3-5.4 1.2-3.1 1.2 0.2 1.3 3.4 1.3 5.5 1.2 6.1 1.2 5.5 1.3 4.0 1.3 2.5 1.2 1.4 1.2 0.7 1.3 0.2h11.3l1.2-0.2 1.2-0.8 1.3-1.5 1.3-3.0 1.2-4.7 1.2-6.4 1.3-6.9 1.3-5.6 1.2-2.6 1.2 1.3 1.3 4.9 1.3 6.7 1.2 6.7 1.2 5.2 1.3 3.5 1.3 1.9 1.2 0.7 1.2-0.1 1.3-0.5 1.3-0.8 1.2-0.9 1.2-0.8 1.3-0.2 1.3 0.2 1.2 0.7 1.2 0.9 1.3 0.9 1.3 0.7 1.2 0.5 1.2 0.2h35.0l1.3-0.4 1.3-0.6 1.2-0.8 1.2-0.9 1.3-0.9 1.3-0.5 1.2 0.0 1.2 0.5 1.3 0.9 1.3 0.9 1.2 0.8 1.2 0.6 1.3 0.3h5.0l1.3-0.4 1.2-0.6 1.2-0.7 1.3-0.8 1.3-0.7 1.2-0.4 1.2 0.2 1.3 0.5 1.3 0.8 1.2 0.9 1.2 0.6 1.3 0.4 1.3 0.3h11.2l1.2-0.4 1.3-1.0 1.3-2.2 1.2-4.0 1.2-5.8 1.3-6.9 1.3-6.3 1.2-3.5 1.2 0.8 1.3 4.7 1.3 6.7 1.2 6.6 1.2 4.9 1.3 2.5 1.3 0.2 1.2-2.2 1.2-4.2 1.3-6.0 1.3-6.4 1.2-5.3 1.2-2.4 1.3 1.2 1.3 4.5 1.2 6.3 1.2 6.3 1.3 5.1 1.3 3.4 1.2 2.0 1.2 1.0 1.3 0.4h12.5l1.2-0.4 1.3-1.0 1.3-2.1 1.2-3.6 1.2-5.3 1.3-6.6 1.3-6.4 1.2-4.4 1.2-0.8 1.3 3.0 1.3 5.8 1.2 6.7 1.2 6.0 1.3 4.3 1.3 2.6 1.2 1.4 1.2 0.6 1.3 0.3h21.3l1.2-0.5 1.2-0.4 1.3-0.6 1.3-0.7 1.2-0.5 1.2-0.4 1.3-0.2 1.3-0.4 1.2-1.3 1.2-3.0 1.3-5.1 1.3-6.8 1.2-7.1 1.2-5.2 1.3-1.3 1.3 3.1 1.2 6.3 1.2 7.5 1.3 6.6 1.3 4.8 1.2 2.9 1.2 1.4 1.3 0.7h13.7l1.3-0.5 1.3-1.2 1.2-2.6 1.2-4.6 1.3-6.7 1.3-7.7 1.2-6.9 1.2-3.4 1.3 1.2 1.3 5.4 1.2 7.5 1.2 7.4 1.3 5.6 1.3 3.6 1.2 1.9 1.2 0.8 1.3 0.3h12.5l1.2-0.2 1.3-0.7 1.3-1.6 1.2-3.0 1.2-4.9 1.3-6.4 1.3-6.7 1.2-5.1 1.2-1.7 1.3 2.5 1.3 5.6 1.2 6.7 1.2 6.0 1.3 4.1 1.3 2.0 1.2-0.1 1.2-1.7 1.3-3.4 1.3-4.8 1.2-5.7 1.2-5.4 1.3-3.8 1.3-1.1 1.2 2.2 1.2 4.7 1.3 5.8 1.3 5.6 1.2 4.3 1.2 2.3 1.3 0.1 1.3-2.2 1.2-4.3 1.2-5.8 1.3-5.9 1.3-4.1 1.2-1.0 1.2 2.6 1.3 5.3 1.3 6.1 1.2 5.5 1.2 3.9 1.3 2.4 1.3 1.3 1.2 0.5h13.8l1.2-0.2 1.2-0.9 1.3-1.8 1.3-3.3 1.2-5.0 1.2-6.4 1.3-6.6 1.3-4.9 1.2-1.6 1.2 2.3 1.3 5.4 1.3 6.7 1.2 6.2 1.2 4.7 1.3 2.9 1.3 1.6 1.2 0.8 1.2 0.3h11.3l1.3-0.7 1.2-1.1 1.2-2.2 1.3-3.7 1.3-5.2 1.2-6.3 1.2-6.0 1.3-3.9 1.3-0.6 1.2 3.0 1.2 5.4 1.3 6.4 1.3 5.6 1.2 4.0 1.2 2.1 1.3 0.3 1.3-1.4 1.2-3.2 1.2-4.9 1.3-6.1 1.3-6.1 1.2-4.7 1.2-1.9 1.3 1.3 1.3 3.9 1.2 5.3 1.2 5.4 1.3 4.4 1.3 2.9 1.2 1.1 1.2-1.0 1.3-3.0 1.3-4.7 1.2-5.5 1.2-4.6 1.3-2.2 1.3 1.0 1.2 4.0 1.2 5.7 1.3 5.8 1.3 4.7 1.2 3.3 1.2 1.9 1.3 1.0 1.3 0.4h8.7l1.3-0.2 1.2-0.4 1.2-0.6 1.3-0.7 1.3-0.6 1.2-0.4 1.2-0.1 1.3 0.4 1.3 0.6 1.2 0.7 1.2 0.6 1.3 0.4 1.3 0.2h1.2l1.2-0.2 1.3-0.3 1.3-0.7 1.2-1.3 1.2-2.1 1.3-3.3 1.3-4.8 1.2-6.1 1.2-6.1 1.3-4.6 1.3-1.5 1.2 2.3 1.2 5.2 1.3 6.5 1.3 6.3 1.2 4.8 1.2 3.1 1.3 1.7 1.3 0.9 1.2 0.3h11.2l1.3-0.5 1.3-0.9 1.2-1.8 1.2-3.0 1.3-4.5 1.3-6.0 1.2-6.5 1.2-5.6 1.3-3.0 1.3 0.7 1.2 4.3 1.2 6.4 1.3 6.7 1.3 5.5 1.2 3.6 1.2 1.6 1.3-0.3 1.3-2.3 1.2-4.0 1.2-5.4 1.3-5.9 1.3-5.1 1.2-2.6 1.2 0.6 1.3 3.7 1.3 5.5 1.2 6.0 1.2 5.0 1.3 3.7 1.3 2.2 1.2 1.1 1.2 0.4 1.3 0.0 1.3-0.1 1.2-0.2 1.2-0.2 1.3 0.0 1.3 0.1 1.2 0.2 1.2 0.3 1.3 0.1 1.3 0.1 1.2-0.2 1.2-0.7 1.3-1.7 1.3-3.3 1.2-5.2 1.2-6.7 1.3-6.8 1.3-4.6 1.2-0.7 1.2 3.5 1.3 6.2 1.3 6.9 1.2 5.7 1.2 3.5 1.3 1.2 1.3-0.8 1.2-2.7 1.2-4.5 1.3-5.6 1.3-5.6 1.2-4.2 1.2-1.4 1.3 1.8 1.3 4.5 1.2 5.5 1.2 5.1 1.3 3.7 1.3 2.1 1.2 0.7 1.2 0.2 1.3 0.1 1.3 0.3 1.2 0.7 1.2 0.9 1.3 0.9 1.3 0.6 1.2 0.5 1.2 0.2h20.0l1.3-0.4 1.3-0.9 1.2-1.7 1.2-3.1 1.3-4.7 1.3-6.2 1.2-6.8 1.2-6.2 1.3-3.7 1.3-0.2 1.2 3.4 1.2 5.9 1.3 7.0 1.3 6.3 1.2 4.9 1.2 3.2 1.3 1.8 1.3 1.0 1.2 0.4V1701.8H235.5Z" fill="#e3e9f6" fill-opacity="0.72" stroke="#4a6ec2" stroke-width="1.7" stroke-linejoin="round"/>
<path id="p1A" d="M235.5 1699.9l1.3 0.0 1.2 0.2 1.2 0.2 1.3 0.4 1.3 0.3 1.2 0.2h7.5l1.3-0.3 1.2-0.8 1.2-1.7 1.3-3.2 1.3-5.0 1.2-6.2 1.2-6.2 1.3-4.3 1.3-1.0 1.2 2.9 1.2 5.6 1.3 6.4 1.3 5.7 1.2 4.0 1.2 2.3 1.3 1.2 1.3 0.5h1.2l1.2-0.1 1.3-0.4 1.3-0.6 1.2-0.7 1.2-0.7 1.3-0.4 1.3-0.2 1.2 0.3 1.2 0.6 1.3 0.8 1.3 0.6 1.2 0.5 1.2 0.3h22.6l1.2-0.2 1.2-0.5 1.3-0.6 1.3-0.9 1.2-0.7 1.2-0.5 1.3-0.1 1.3 0.4 1.2 0.8 1.2 0.8 1.3 0.7 1.3 0.5 1.2 0.3h13.8l1.2-0.3 1.2-0.4 1.3-0.4 1.3-0.5 1.2-0.4 1.2-0.1 1.3 0.2 1.3 0.5 1.2 0.5 1.2 0.4 1.3 0.4 1.3 0.2h20.0l1.2-0.2 1.2-0.3 1.3-0.3 1.3-0.1 1.2-0.1 1.2 0.1 1.3 0.2 1.3 0.2 1.2 0.3 1.2 0.2h7.6l1.2-0.2 1.2-0.5 1.3-0.6 1.3-0.9 1.2-0.8 1.2-0.6 1.3-0.3 1.3 0.3 1.2 0.7 1.2 0.9 1.3 0.8 1.3 0.5 1.2 0.3 1.2 0.1 1.3-0.2 1.3-0.4 1.2-0.4 1.2-0.4 1.3-0.2 1.3-0.1 1.2 0.0 1.2-0.4 1.3-1.2 1.3-2.6 1.2-4.3 1.2-5.3 1.3-5.4 1.3-3.7 1.2-0.8 1.2 2.5 1.3 4.9 1.3 5.7 1.2 5.0 1.2 3.7 1.3 2.2 1.3 1.1 1.2 0.5h23.8l1.2-0.1 1.2-0.4 1.3-0.6 1.3-0.8 1.2-0.9 1.2-0.7 1.3-0.3 1.3 0.2 1.2 0.7 1.2 0.9 1.3 0.8 1.3 0.6 1.2 0.5 1.2 0.2h12.6l1.2-0.2 1.2-0.4 1.3-0.7 1.3-0.8 1.2-1.0 1.2-0.7 1.3-0.4 1.3 0.2 1.2 0.7 1.2 0.9 1.3 0.9 1.3 0.7 1.2 0.5 1.2 0.3h17.6l1.2-0.2 1.2-0.4 1.3-0.7 1.3-0.9 1.2-0.9 1.2-0.8 1.3-0.3 1.3 0.2 1.2 0.7 1.2 0.9 1.3 0.9 1.3 0.7 1.2 0.5 1.2 0.3h41.3l1.3-0.3 1.2-0.5 1.2-0.6 1.3-0.8 1.3-0.6 1.2-0.3 1.2 0.0 1.3 0.5 1.3 0.6 1.2 0.8 1.2 0.6 1.3 0.4 1.3 0.2h16.2l1.2-0.3 1.3-0.5 1.3-0.6 1.2-0.7 1.2-0.6 1.3-0.4 1.3 0.0 1.2 0.5 1.2 0.6 1.3 0.7 1.3 0.6 1.2 0.4 1.2 0.3h7.6l1.2-0.2 1.2-0.3 1.3-0.4 1.3-0.5 1.2-0.4 1.2-0.1 1.3 0.1 1.3 0.3 1.2 0.4 1.2 0.5 1.3 0.3 1.3 0.3h32.4l1.3-0.4 1.3-0.4 1.2-0.5 1.2-0.4 1.3-0.2 1.3 0.0 1.2 0.3 1.2 0.4 1.3 0.5 1.3 0.3 1.2 0.3h36.2l1.3-0.2 1.3-0.4 1.2-0.6 1.2-0.7 1.3-0.7 1.3-0.4 1.2 0.0 1.2 0.3 1.3 0.7 1.3 0.7 1.2 0.6 1.2 0.5 1.3 0.3h46.3l1.2-0.4 1.2-0.5 1.3-0.7 1.3-0.7 1.2-0.6 1.2-0.3 1.3 0.1 1.3 0.5 1.2 0.7 1.2 0.7 1.3 0.6 1.3 0.4 1.2 0.2h33.8l1.2-0.2 1.2-0.3 1.3-0.2 1.3-0.3 1.2-0.1 1.2 0.0 1.3 0.2 1.3 0.1 1.2-0.1 1.2-0.7 1.3-1.4 1.3-2.6 1.2-3.6 1.2-4.2 1.3-3.9 1.3-2.5 1.2-0.2 1.2 1.9 1.3 3.5 1.3 3.9 1.2 3.5 1.2 2.7 1.3 1.8 1.3 1.2 1.2 0.7 1.2 0.5 1.3 0.3h32.5V1701.8H235.5Z" fill="#e2f1e3" fill-opacity="0.72" stroke="#3aa845" stroke-width="1.7" stroke-linejoin="round"/>
<path id="p1G" d="M235.5 1701.4h31.3l1.2-0.6 1.2-0.5 1.3-0.8 1.3-0.8 1.2-0.8 1.2-0.5 1.3 0.0 1.3 0.5 1.2 0.8 1.2 0.9 1.3 0.7 1.3 0.5 1.2 0.2 1.2 0.0 1.3-0.4 1.3-1.0 1.2-2.0 1.2-3.4 1.3-4.9 1.3-6.2 1.2-6.2 1.2-4.8 1.3-1.7 1.3 1.8 1.2 4.7 1.2 6.3 1.3 6.2 1.3 4.9 1.2 3.4 1.2 2.0 1.3 1.0 1.3 0.4h30.0l1.2-0.7 1.2-1.8 1.3-3.6 1.3-6.3 1.2-9.1 1.2-10.4 1.3-8.9 1.3-4.2 1.2 2.1 1.2 7.5 1.3 9.9 1.3 9.1 1.2 6.4 1.2 3.6 1.3 1.5 1.3 0.7 1.2 0.5 1.2 0.8 1.3 0.8 1.3 0.9 1.2 0.6 1.2 0.5 1.3 0.2h2.5l1.2-0.4 1.3-1.0 1.3-2.1 1.2-4.1 1.2-6.6 1.3-9.6 1.3-11.6 1.2-11.5 1.2-8.7 1.3-3.2 1.3 3.3 1.2 8.7 1.2 11.5 1.3 11.6 1.3 9.5 1.2 6.7 1.2 4.0 1.3 2.1 1.3 1.0 1.2 0.4h16.2l1.3-0.5 1.3-0.6 1.2-0.7 1.2-0.8 1.3-0.7 1.3-0.2 1.2 0.2 1.2 0.5 1.3 0.8 1.3 0.8 1.2 0.6 1.2 0.4 1.3 0.2h27.5l1.2-0.4 1.3-0.4 1.3-0.4 1.2-0.3 1.2-0.2 1.3 0.0 1.3 0.3 1.2 0.4 1.2 0.4 1.3 0.3 1.3 0.3h5.0l1.2-0.5 1.2-1.2 1.3-2.7 1.3-5.0 1.2-8.0 1.2-11.0 1.3-12.2 1.3-10.5 1.2-5.4 1.2 1.5 1.3 7.9 1.3 11.6 1.2 12.0 1.2 9.9 1.3 6.7 1.3 3.9 1.2 1.9 1.2 0.9 1.3 0.3h11.3l1.2-0.5 1.2-0.8 1.3-1.7 1.3-2.8 1.2-3.9 1.2-4.5 1.3-4.1 1.3-2.3 1.2 0.1 1.2 2.6 1.3 4.2 1.3 4.5 1.2 3.8 1.2 2.6 1.3 1.6 1.3 0.8 1.2 0.3h12.5l1.3-0.3 1.2-0.7 1.2-1.7 1.3-3.2 1.3-5.3 1.2-7.2 1.2-8.3 1.3-7.6 1.3-4.7 1.2-0.4 1.2 4.0 1.3 7.0 1.3 7.9 1.2 7.1 1.2 5.5 1.3 3.6 1.3 2.2 1.2 1.2 1.2 0.5 1.3 0.2 1.3-0.1 1.2-0.3 1.2-0.2 1.3-0.2 1.3-0.1 1.2 0.1 1.2 0.2 1.3 0.3 1.3 0.2 1.2 0.2h8.8l1.2-0.3 1.2-0.2 1.3-0.2 1.3-0.1 1.2 0.0 1.2 0.1 1.3 0.3 1.3 0.2 1.2 0.2h5.0l1.2-0.1 1.3-0.4 1.3-0.5 1.2-0.7 1.2-0.7 1.3-0.6 1.3-0.3 1.2-0.1 1.2 0.3 1.3 0.5 1.3 0.7 1.2 0.6 1.2 0.6 1.3 0.4 1.3 0.3h22.4l1.3-0.4 1.3-1.0 1.2-1.8 1.2-3.0 1.3-4.0 1.3-4.7 1.2-4.2 1.2-2.6 1.3-0.3 1.3 2.1 1.2 3.6 1.2 4.2 1.3 3.7 1.3 3.0 1.2 2.0 1.2 1.5 1.3 0.9 1.3 0.6 1.2 0.4h26.2l1.3-0.2 1.3-0.4 1.2-0.6 1.2-0.5 1.3-0.5 1.3-0.2 1.2 0.2 1.2 0.4 1.3 0.6 1.3 0.5 1.2 0.4 1.2 0.3h10.0l1.3-0.1 1.3-0.3 1.2-0.2 1.2-0.2 1.3 0.0 1.3 0.0 1.2 0.2 1.2 0.0 1.3-0.5 1.3-1.5 1.2-3.4 1.2-6.3 1.3-9.6 1.3-12.3 1.2-12.5 1.2-9.3 1.3-2.9 1.3 4.5 1.2 10.1 1.2 12.3 1.3 11.3 1.3 8.5 1.2 5.4 1.2 3.1 1.3 1.7 1.3 1.0 1.2 0.6 1.2 0.3 1.3 0.2h20.0l1.3-0.2 1.2-0.4 1.2-0.7 1.3-0.8 1.3-0.9 1.2-0.7 1.2-0.3 1.3 0.2 1.3 0.7 1.2 0.9 1.2 0.9 1.3 0.6 1.3 0.5 1.2 0.2h37.5l1.3-0.4 1.2-0.5 1.2-0.7 1.3-0.6 1.3-0.6 1.2-0.2 1.2 0.2 1.3 0.5 1.3 0.7 1.2 0.6 1.2 0.5 1.3 0.4h37.5l1.2-0.2 1.3-0.7 1.3-1.7 1.2-3.1 1.2-4.8 1.3-5.9 1.3-5.8 1.2-3.8 1.2-0.4 1.3 3.1 1.3 5.5 1.2 6.0 1.2 5.1 1.3 3.5 1.3 2.0 1.2 0.9 1.2 0.4h18.8V1701.8H235.5Z" fill="#dcdcdc" fill-opacity="0.72" stroke="#111111" stroke-width="1.7" stroke-linejoin="round"/>
<path id="p1T" d="M235.5 1701.3h2.5l1.2-0.5 1.3-0.4 1.3-0.5 1.2-0.4 1.2-0.2 1.3 0.0 1.3 0.2 1.2 0.2 1.2 0.1 1.3 0.0 1.3-0.2 1.2-0.2 1.2 0.0 1.3 0.1 1.3 0.3 1.2 0.4 1.2 0.4 1.3 0.4 1.3 0.2h40.0l1.2-0.8 1.2-1.7 1.3-3.5 1.3-6.0 1.2-8.7 1.2-9.9 1.3-8.3 1.3-3.8 1.2 2.2 1.2 7.3 1.3 9.8 1.3 9.2 1.2 6.7 1.2 3.9 1.3 1.5 1.3-0.6 1.2-2.6 1.2-4.8 1.3-7.0 1.3-8.4 1.2-7.8 1.2-4.8 1.3-0.1 1.3 4.5 1.2 7.6 1.2 8.5 1.3 7.1 1.3 5.1 1.2 3.0 1.2 1.6 1.3 0.6 1.3 0.3h10.0l1.2-0.4 1.2-0.7 1.3-1.5 1.3-2.9 1.2-4.7 1.2-6.3 1.3-7.3 1.3-6.6 1.2-3.9 1.2-0.1 1.3 3.8 1.3 6.5 1.2 7.2 1.2 6.4 1.3 4.6 1.3 2.8 1.2 1.2 1.2 0.4 1.3-0.2 1.3-0.2 1.2-0.1 1.2 0.1 1.3 0.3 1.3 0.5 1.2 0.4 1.2 0.4 1.3 0.2h36.3l1.2-0.3 1.2-0.5 1.3-0.5 1.3-0.6 1.2-0.6 1.2-0.2 1.3 0.1 1.3 0.4 1.2 0.6 1.2 0.7 1.3 0.4 1.3 0.4h18.7l1.3-0.7 1.2-1.6 1.2-3.0 1.3-5.2 1.3-7.3 1.2-8.3 1.2-7.0 1.3-3.5 1.3 1.4 1.2 5.7 1.2 7.8 1.3 7.7 1.3 5.7 1.2 3.6 1.2 1.8 1.3 0.8 1.3 0.4 1.2 0.4 1.2 0.5 1.3 0.4 1.3 0.3 1.2 0.2h12.5l1.3-0.3 1.2-0.3 1.2-0.2 1.3-0.2 1.3 0.0 1.2 0.1 1.2 0.2 1.3 0.3 1.3 0.2 1.2 0.2h5.0l1.2-0.4 1.3-0.3 1.3-0.5 1.2-0.4 1.2-0.2 1.3 0.0 1.3 0.3 1.2 0.4 1.2 0.4 1.3 0.4 1.3 0.2h51.2l1.2-0.3 1.3-0.5 1.3-0.7 1.2-0.8 1.2-0.7 1.3-0.4 1.3 0.0 1.2 0.4 1.2 0.8 1.3 0.8 1.3 0.7 1.2 0.5 1.2 0.3h8.8l1.2-0.2 1.3-0.2 1.3-0.4 1.2-0.4 1.2-0.3 1.3-0.5 1.3-0.7 1.2-1.5 1.2-2.6 1.3-4.2 1.3-5.3 1.2-5.6 1.2-4.3 1.3-1.6 1.3 1.6 1.2 4.3 1.2 5.7 1.3 5.6 1.3 4.5 1.2 3.0 1.2 1.8 1.3 0.9 1.3 0.4h26.2l1.2-0.4 1.3-0.5 1.3-0.6 1.2-0.6 1.2-0.4 1.3-0.1 1.3 0.2 1.2 0.5 1.2 0.6 1.3 0.6 1.3 0.4 1.2 0.3h32.5l1.3-0.3 1.2-0.3 1.2-0.3 1.3-0.3 1.3-0.3 1.2-0.5 1.2-1.0 1.3-2.2 1.3-4.1 1.2-6.1 1.2-7.4 1.3-6.9 1.3-4.2 1.2 0.3 1.2 4.5 1.3 7.2 1.3 7.5 1.2 6.1 1.2 4.0 1.3 2.0 1.3 0.5 1.2-0.4 1.2-0.7 1.3-0.7 1.3-0.3 1.2 0.1 1.2 0.6 1.3 0.9 1.3 0.8 1.2 0.7 1.2 0.5 1.3 0.3h17.5l1.2-0.3 1.3-0.9 1.3-1.7 1.2-3.0 1.2-4.7 1.3-6.0 1.3-6.3 1.2-5.1 1.2-2.3 1.3 1.3 1.3 4.5 1.2 6.1 1.2 6.3 1.3 5.0 1.3 3.5 1.2 2.1 1.2 1.0 1.3 0.4h28.7l1.3-0.1 1.3-0.7 1.2-1.4 1.2-2.7 1.3-4.2 1.3-5.5 1.2-5.8 1.2-4.5 1.3-1.8 1.3 1.7 1.2 4.5 1.2 5.8 1.3 5.5 1.3 4.2 1.2 2.7 1.2 1.3 1.3 0.5 1.3 0.1 1.2-0.3 1.2-0.3 1.3-0.2 1.3 0.0 1.2 0.1 1.2 0.3 1.3 0.3 1.3 0.3 1.2 0.2h30.0l1.2-0.1 1.3-0.4 1.3-0.7 1.2-0.8 1.2-1.0 1.3-0.7 1.3-0.4 1.2 0.2 1.2 0.7 1.3 0.9 1.3 0.9 1.2 0.7 1.2 0.5 1.3 0.3h27.5V1701.8H235.5Z" fill="#f8e1df" fill-opacity="0.72" stroke="#de4234" stroke-width="1.7" stroke-linejoin="round"/>
<text x="244" y="1607.8" font-size="10.5" text-anchor="middle" fill="#5b78c8" font-family="'Liberation Sans',sans-serif">C</text>
<text x="261.1" y="1607.8" font-size="10.5" text-anchor="middle" fill="#47b04f" font-family="'Liberation Sans',sans-serif">A</text>
<text x="278.21" y="1607.8" font-size="10.5" text-anchor="middle" fill="#5b78c8" font-family="'Liberation Sans',sans-serif">C</text>
<text x="295.31" y="1607.8" font-size="10.5" text-anchor="middle" fill="#222" font-family="'Liberation Sans',sans-serif">G</text>
<text x="312.41" y="1607.8" font-size="10.5" text-anchor="middle" fill="#e0524a" font-family="'Liberation Sans',sans-serif">T</text>
<text x="329.51" y="1607.8" font-size="10.5" text-anchor="middle" fill="#e0524a" font-family="'Liberation Sans',sans-serif">T</text>
<text x="346.62" y="1607.8" font-size="10.5" text-anchor="middle" fill="#222" font-family="'Liberation Sans',sans-serif">G</text>
<text x="363.72" y="1607.8" font-size="10.5" text-anchor="middle" fill="#e0524a" font-family="'Liberation Sans',sans-serif">T</text>
<text x="380.82" y="1607.8" font-size="10.5" text-anchor="middle" fill="#222" font-family="'Liberation Sans',sans-serif">G</text>
<text x="397.92" y="1607.8" font-size="10.5" text-anchor="middle" fill="#5b78c8" font-family="'Liberation Sans',sans-serif">C</text>
<text x="415.03" y="1607.8" font-size="10.5" text-anchor="middle" fill="#5b78c8" font-family="'Liberation Sans',sans-serif">C</text>
<text x="432.13" y="1607.8" font-size="10.5" text-anchor="middle" fill="#47b04f" font-family="'Liberation Sans',sans-serif">A</text>
<text x="449.23" y="1607.8" font-size="10.5" text-anchor="middle" fill="#5b78c8" font-family="'Liberation Sans',sans-serif">C</text>
<text x="466.33" y="1607.8" font-size="10.5" text-anchor="middle" fill="#e0524a" font-family="'Liberation Sans',sans-serif">T</text>
<text x="483.44" y="1607.8" font-size="10.5" text-anchor="middle" fill="#222" font-family="'Liberation Sans',sans-serif">G</text>
<text x="500.54" y="1607.8" font-size="10.5" text-anchor="middle" fill="#5b78c8" font-family="'Liberation Sans',sans-serif">C</text>
<text x="517.64" y="1607.8" font-size="10.5" text-anchor="middle" fill="#222" font-family="'Liberation Sans',sans-serif">G</text>
<text x="534.74" y="1607.8" font-size="10.5" text-anchor="middle" fill="#5b78c8" font-family="'Liberation Sans',sans-serif">C</text>
<text x="551.85" y="1607.8" font-size="10.5" text-anchor="middle" fill="#222" font-family="'Liberation Sans',sans-serif">G</text>
<text x="568.95" y="1607.8" font-size="10.5" text-anchor="middle" fill="#5b78c8" font-family="'Liberation Sans',sans-serif">C</text>
<text x="586.05" y="1607.8" font-size="10.5" text-anchor="middle" fill="#5b78c8" font-family="'Liberation Sans',sans-serif">C</text>
<text x="603.15" y="1607.8" font-size="10.5" text-anchor="middle" fill="#5b78c8" font-family="'Liberation Sans',sans-serif">C</text>
<text x="620.26" y="1607.8" font-size="10.5" text-anchor="middle" fill="#e0524a" font-family="'Liberation Sans',sans-serif">T</text>
<text x="637.36" y="1607.8" font-size="10.5" text-anchor="middle" fill="#5b78c8" font-family="'Liberation Sans',sans-serif">C</text>
<text x="654.46" y="1607.8" font-size="10.5" text-anchor="middle" fill="#222" font-family="'Liberation Sans',sans-serif">G</text>
<text x="671.56" y="1607.8" font-size="10.5" text-anchor="middle" fill="#5b78c8" font-family="'Liberation Sans',sans-serif">C</text>
<text x="688.67" y="1607.8" font-size="10.5" text-anchor="middle" fill="#5b78c8" font-family="'Liberation Sans',sans-serif">C</text>
<text x="705.77" y="1607.8" font-size="10.5" text-anchor="middle" fill="#5b78c8" font-family="'Liberation Sans',sans-serif">C</text>
<text x="722.87" y="1607.8" font-size="10.5" text-anchor="middle" fill="#e0524a" font-family="'Liberation Sans',sans-serif">T</text>
<text x="739.97" y="1607.8" font-size="10.5" text-anchor="middle" fill="#222" font-family="'Liberation Sans',sans-serif">G</text>
<text x="757.08" y="1607.8" font-size="10.5" text-anchor="middle" fill="#5b78c8" font-family="'Liberation Sans',sans-serif">C</text>
<text x="774.18" y="1607.8" font-size="10.5" text-anchor="middle" fill="#e0524a" font-family="'Liberation Sans',sans-serif">T</text>
<text x="791.28" y="1607.8" font-size="10.5" text-anchor="middle" fill="#5b78c8" font-family="'Liberation Sans',sans-serif">C</text>
<text x="808.38" y="1607.8" font-size="10.5" text-anchor="middle" fill="#5b78c8" font-family="'Liberation Sans',sans-serif">C</text>
<text x="825.49" y="1607.8" font-size="10.5" text-anchor="middle" fill="#e0524a" font-family="'Liberation Sans',sans-serif">T</text>
<text x="842.59" y="1607.8" font-size="10.5" text-anchor="middle" fill="#5b78c8" font-family="'Liberation Sans',sans-serif">C</text>
<text x="859.69" y="1607.8" font-size="10.5" text-anchor="middle" fill="#5b78c8" font-family="'Liberation Sans',sans-serif">C</text>
<text x="876.79" y="1607.8" font-size="10.5" text-anchor="middle" fill="#47b04f" font-family="'Liberation Sans',sans-serif">A</text>
<text x="893.9" y="1607.8" font-size="10.5" text-anchor="middle" fill="#222" font-family="'Liberation Sans',sans-serif">G</text>
<text x="911" y="1607.8" font-size="10.5" text-anchor="middle" fill="#5b78c8" font-family="'Liberation Sans',sans-serif">C</text>
<text x="244" y="1712.3" font-size="7.5" text-anchor="middle" fill="#9a9a9a" letter-spacing="1">1</text>
<text x="397.92" y="1712.3" font-size="7.5" text-anchor="middle" fill="#9a9a9a" letter-spacing="1">10</text>
<text x="568.95" y="1712.3" font-size="7.5" text-anchor="middle" fill="#9a9a9a" letter-spacing="1">20</text>
<text x="739.97" y="1712.3" font-size="7.5" text-anchor="middle" fill="#9a9a9a" letter-spacing="1">30</text>
<text x="911" y="1712.3" font-size="7.5" text-anchor="middle" fill="#9a9a9a" letter-spacing="1">40</text>
<rect x="237.1" y="1828.8" width="686.9" height="2.6" fill="#c9c9c9"/>
<line x1="399.66" y1="1739.2" x2="399.66" y2="1828.2" stroke="#b5b5b5" stroke-width="0.9" stroke-dasharray="3 2.2"/>
<line x1="570.84" y1="1739.2" x2="570.84" y2="1828.2" stroke="#b5b5b5" stroke-width="0.9" stroke-dasharray="3 2.2"/>
<line x1="742.02" y1="1739.2" x2="742.02" y2="1828.2" stroke="#b5b5b5" stroke-width="0.9" stroke-dasharray="3 2.2"/>
<line x1="913.2" y1="1739.2" x2="913.2" y2="1828.2" stroke="#b5b5b5" stroke-width="0.9" stroke-dasharray="3 2.2"/>
<path id="p2C" d="M237.1 1825.3l1.2-2.8 1.3-4.9 1.2-7.2 1.3-9.1 1.2-9.6 1.3-7.7 1.2-3.8 1.3 1.3 1.2 6.2 1.3 9.0 1.2 9.6 1.3 8.2 1.2 5.9 1.3 3.8 1.2 2.0 1.3 1.0 1.3 0.4h10.0l1.2-0.5 1.3-1.2 1.2-2.4 1.3-4.5 1.2-7.2 1.3-9.9 1.2-11.2 1.3-10.0 1.2-6.1 1.3 0.0 1.2 5.9 1.3 10.0 1.2 11.2 1.3 9.9 1.2 7.3 1.3 4.5 1.2 2.5 1.3 1.1 1.2 0.5h1.3l1.2-0.1 1.3-0.3 1.2-0.6 1.3-0.7 1.2-0.8 1.3-0.5 1.2-0.2 1.3 0.2 1.2 0.6 1.3 0.7 1.2 0.7 1.3 0.6 1.2 0.3 1.3 0.2h18.7l1.3-0.4 1.2-0.2 1.3-0.3 1.2-0.1 1.3 0.0 1.2 0.2 1.3 0.2 1.2 0.3 1.3 0.2h11.2l1.3-0.1 1.2-0.3 1.3-0.6 1.2-0.8 1.3-0.9 1.2-0.7 1.3-0.4 1.2 0.2 1.3 0.6 1.2 0.9 1.3 0.8 1.2 0.7 1.3 0.4 1.2 0.3h5.0l1.3-0.3 1.2-0.5 1.3-0.7 1.2-0.9 1.3-0.8 1.2-0.5 1.3-0.1 1.2 0.4 1.3 0.7 1.2 0.6 1.3 0.2 1.2-0.5 1.3-1.7 1.2-3.4 1.3-6.0 1.2-8.9 1.3-11.2 1.2-11.5 1.3-8.7 1.2-2.7 1.3 4.3 1.2 10.0 1.3 12.4 1.2 11.4 1.3 8.2 1.2 4.5 1.3 0.8 1.2-3.0 1.3-7.1 1.2-11.0 1.3-13.2 1.2-11.9 1.3-6.3 1.2 1.7 1.3 9.0 1.2 12.9 1.3 12.8 1.2 9.7 1.3 6.2 1.2 3.1 1.3 1.5 1.2 0.5h11.3l1.2-0.3 1.3-0.8 1.2-1.8 1.3-3.4 1.2-5.7 1.3-8.0 1.2-9.7 1.3-9.7 1.2-7.2 1.3-2.6 1.2 2.9 1.3 7.5 1.2 9.7 1.3 9.7 1.2 7.9 1.3 5.5 1.2 3.2 1.3 1.7 1.2 0.8 1.3 0.3h23.7l1.3-0.3 1.2-0.3 1.3-0.3 1.2-0.5 1.3-1.1 1.2-2.2 1.3-4.7 1.2-7.8 1.3-10.8 1.2-12.0 1.3-9.8 1.2-4.0 1.3 3.3 1.2 9.5 1.3 12.0 1.2 11.2 1.3 8.1 1.2 4.6 1.3 2.0 1.2 0.3 1.3-0.3 1.2-0.4 1.3-0.1 1.2 0.3 1.3 0.7 1.2 0.8 1.3 0.7 1.2 0.5 1.3 0.3 1.2-0.2 1.3-0.6 1.2-1.2 1.3-2.3 1.2-4.3 1.3-7.1 1.2-10.5 1.3-13.1 1.2-13.1 1.3-9.1 1.2-1.7 1.3 6.5 1.2 12.5 1.3 14.2 1.2 12.4 1.3 8.8 1.2 5.1 1.3 2.6 1.2 1.0 1.3 0.4h10.0l1.2-0.2 1.3-0.8 1.2-1.6 1.3-3.3 1.2-5.6 1.3-8.3 1.2-10.5 1.3-11.1 1.2-9.0 1.3-4.4 1.2 1.6 1.3 7.0 1.2 10.1 1.3 10.5 1.2 8.6 1.3 5.2 1.2 1.3 1.3-3.2 1.2-7.8 1.3-12.3 1.2-15.2 1.3-15.1 1.2-10.8 1.3-3.2 1.2 5.6 1.3 12.5 1.2 15.7 1.3 15.0 1.2 11.5 1.3 6.6 1.2 1.9 1.3-2.5 1.2-6.2 1.3-8.7 1.2-9.4 1.3-7.7 1.2-3.8 1.3 1.3 1.2 6.1 1.3 9.0 1.2 9.6 1.3 8.2 1.2 6.0 1.3 3.6 1.2 1.9 1.3 0.8 1.2 0.2 1.3 0.0 1.2 0.0 1.3 0.1 1.2 0.1 1.3 0.3 1.2 0.2 1.3 0.1h1.2l1.3-0.3 1.2-0.9 1.3-2.2 1.2-4.3 1.3-7.5 1.2-11.1 1.3-14.0 1.2-14.3 1.3-10.9 1.2-4.2 1.3 4.0 1.2 10.8 1.3 14.2 1.2 14.0 1.3 11.3 1.2 7.6 1.3 4.4 1.2 2.2 1.3 1.0 1.2 0.3h8.8l1.2-0.2 1.3-0.6 1.2-1.5 1.3-2.8 1.2-4.7 1.3-7.0 1.2-8.6 1.3-9.0 1.2-7.2 1.3-3.1 1.2 1.7 1.3 6.1 1.2 8.7 1.3 8.8 1.2 7.2 1.3 4.5 1.2 1.4 1.3-1.8 1.2-5.2 1.3-8.2 1.2-10.1 1.3-10.0 1.2-7.1 1.3-2.0 1.2 3.6 1.3 8.3 1.2 10.3 1.3 9.9 1.2 7.9 1.3 5.2 1.2 3.0 1.3 1.4 1.2 0.4 1.3-0.5 1.2-1.4 1.3-2.4 1.2-3.5 1.3-3.9 1.2-3.5 1.3-1.8 1.2 0.4 1.3 2.5 1.2 3.4 1.3 2.8 1.2 1.2 1.3-1.4 1.2-4.0 1.3-6.4 1.2-7.7 1.3-7.8 1.2-6.1 1.3-3.0 1.2 0.9 1.3 4.6 1.2 7.3 1.3 8.3 1.2 7.7 1.3 5.7 1.2 3.0 1.3 0.2 1.2-2.2 1.3-4.1 1.2-4.6 1.3-3.6 1.2-1.2 1.3 1.6 1.2 3.9 1.3 4.8 1.2 4.4 1.3 3.1 1.2 1.5 1.3 0.1 1.2-1.5 1.3-2.9 1.2-4.1 1.3-4.8 1.2-4.5 1.3-2.9 1.2-0.6 1.3 2.1 1.2 4.0 1.3 4.9 1.2 4.5 1.3 3.5 1.2 2.4 1.3 1.3 1.2 0.7 1.3 0.2 1.2-0.1 1.3-0.2 1.2-0.4 1.3-0.5 1.2-0.4 1.3-0.2 1.2 0.0 1.3 0.2 1.2 0.2 1.3-0.2 1.2-1.3 1.3-3.3 1.2-6.0 1.3-9.4 1.2-11.7 1.3-11.5 1.2-8.0 1.3-1.6 1.2 5.3 1.3 10.5 1.2 12.0 1.3 10.6 1.2 7.6 1.3 4.3 1.2 1.6 1.3-0.6 1.2-2.9 1.3-5.2 1.2-7.1 1.3-7.6 1.2-5.9 1.3-2.2 1.2 2.5 1.3 6.1 1.2 7.6 1.3 7.0 1.2 5.2 1.3 3.1 1.2 1.7 1.3 0.7 1.2 0.2h1.3l1.2-0.6 1.3-1.0 1.2-1.7 1.3-2.6 1.2-3.0 1.3-2.9 1.2-1.8 1.3-0.1 1.2 1.4 1.3 2.2 1.2 1.5 1.3-0.5 1.2-3.1 1.3-5.6 1.2-6.8 1.3-5.8 1.2-2.6 1.3 1.5 1.2 5.1 1.3 6.8 1.2 6.4 1.3 4.9 1.2 3.0 1.3 1.3 1.2-0.3 1.3-1.7 1.2-3.4 1.3-4.6 1.2-5.2 1.3-4.4 1.2-2.1 1.3 0.8 1.2 3.5 1.3 5.2 1.2 5.2 1.3 4.2 1.2 2.6 1.3 0.6 1.2-1.5 1.3-3.6 1.2-5.5 1.3-6.5 1.2-6.0 1.3-3.6 1.2 0.0 1.3 3.6 1.2 6.1 1.3 6.5 1.2 5.6 1.3 3.8 1.2 1.9 1.3 0.0 1.2-1.7 1.3-3.5 1.2-4.9 1.3-5.6 1.2-4.9 1.3-2.7 1.2 0.4 1.3 3.3 1.2 5.1 1.3 5.2 1.2 4.3 1.3 2.7 1.2 1.0 1.3-0.6 1.2-2.2 1.3-3.8 1.2-5.0 1.3-5.1 1.2-3.5 1.3-0.5 1.2 2.7 1.3 5.0 1.2 5.6 1.3 4.8 1.2 3.3 1.3 2.0 1.2 1.0 1.3 0.4V1828.2H237.1Z" fill="#e3e9f6" fill-opacity="0.72" stroke="#4a6ec2" stroke-width="1.7" stroke-linejoin="round"/>
<path id="p2A" d="M237.1 1827.8h2.5l1.2-0.4 1.3-0.4 1.2-0.5 1.3-0.5 1.2-0.6 1.3-0.3 1.2 0.0 1.3 0.2 1.2 0.5 1.3 0.3 1.2-0.4 1.3-1.7 1.2-3.9 1.3-6.9 1.3-9.7 1.2-10.8 1.3-8.9 1.2-3.8 1.3 2.9 1.2 8.4 1.3 10.8 1.2 10.0 1.3 7.4 1.2 4.5 1.3 2.3 1.2 1.0 1.3 0.3h32.5l1.2-0.2 1.3-0.3 1.2-0.4 1.3-0.4 1.2-0.3 1.3-0.1 1.2 0.2 1.3 0.3 1.2 0.4 1.3 0.4 1.2 0.2 1.3 0.2h70.0l1.2-0.4 1.3-0.4 1.2-0.6 1.3-0.6 1.2-0.4 1.3-0.3 1.2 0.2 1.3 0.3 1.2 0.5 1.3 0.3 1.2 0.0 1.3-0.2 1.2-0.3 1.3-0.3 1.2 0.0 1.3 0.2 1.2 0.4 1.3 0.5 1.2 0.5 1.3 0.4 1.2 0.2h5.0l1.3-0.2 1.2-0.7 1.3-1.7 1.2-3.4 1.3-5.8 1.2-8.3 1.3-9.8 1.2-9.0 1.3-5.3 1.2 0.1 1.3 5.5 1.2 8.9 1.3 9.5 1.2 7.9 1.3 5.3 1.2 3.1 1.3 1.4 1.2 0.5 1.3 0.2 1.2 0.2 1.3 0.4 1.2 0.4 1.3 0.3 1.2 0.3 1.3 0.2h7.5l1.2-0.3 1.3-0.4 1.2-0.5 1.3-0.6 1.2-0.4 1.3-0.2 1.2 0.1 1.3 0.4 1.2 0.6 1.3 0.5 1.2 0.4 1.3 0.3h5.0l1.2-0.2 1.3-0.4 1.2-0.3 1.3-0.4 1.2-0.1 1.3 0.0 1.2 0.2 1.3 0.4 1.2 0.4 1.3 0.3 1.2 0.2h101.3l1.2-0.3 1.3-0.4 1.2-0.5 1.3-0.6 1.2-0.5 1.3-0.3 1.2 0.0 1.3 0.4 1.2 0.4 1.3 0.4 1.2 0.1 1.3-0.3 1.2-0.6 1.3-0.7 1.2-0.6 1.3-0.1 1.2 0.3 1.3 0.6 1.2 0.9 1.3 0.7 1.2 0.6 1.3 0.4h85.0l1.2-0.3 1.3-0.3 1.2-0.5 1.3-0.5 1.2-0.3 1.3-0.1 1.2 0.2 1.3 0.4 1.2 0.4 1.3 0.4 1.2 0.2 1.3-0.1 1.2-0.2 1.3-0.2 1.2-0.1 1.3 0.0 1.2 0.1 1.3 0.3 1.2 0.2 1.3 0.3 1.2 0.2h5.0l1.3-0.4 1.2-0.4 1.3-0.7 1.2-0.7 1.3-0.6 1.2-0.3 1.3 0.0 1.2 0.4 1.3 0.6 1.2 0.4 1.3 0.2 1.2-0.1 1.3-0.5 1.2-0.6 1.3-0.8 1.2-1.3 1.3-2.0 1.2-2.7 1.3-3.0 1.2-2.5 1.3-1.0 1.2 0.9 1.3 2.7 1.2 3.5 1.3 3.2 1.2 2.4 1.3 1.1 1.2-0.1 1.3-1.4 1.2-2.5 1.3-3.0 1.2-2.8 1.3-1.6 1.2 0.1 1.3 1.8 1.2 2.9 1.3 3.0 1.2 2.5 1.3 1.5 1.2 0.8 1.3 0.2 1.2 0.0 1.3-0.2 1.2-0.1 1.3 0.1 1.2 0.2 1.3 0.1 1.2 0.1 1.3-0.4 1.2-1.1 1.3-2.3 1.2-4.0 1.3-5.7 1.2-6.7 1.3-6.2 1.2-3.9 1.3-0.1 1.2 3.7 1.3 6.2 1.2 6.9 1.3 5.9 1.2 4.1 1.3 2.4 1.2 1.2 1.3 0.5h3.7l1.3-0.1 1.2-0.3 1.3-0.4 1.2-0.3 1.3-0.2 1.2-0.1 1.3 0.1 1.2 0.0 1.3-0.4 1.2-1.5 1.3-3.6 1.2-6.3 1.3-9.5 1.2-11.3 1.3-10.5 1.2-6.4 1.3 0.0 1.2 6.4 1.3 10.6 1.2 11.4 1.3 9.4 1.2 6.5 1.3 3.8 1.2 1.8 1.3 0.8 1.2 0.2h1.3l1.2-0.3 1.3-0.8 1.2-1.4 1.3-2.5 1.2-3.5 1.3-4.0 1.2-3.5 1.3-1.9 1.2 0.2 1.3 1.9 1.2 2.2 1.3 1.1 1.2-0.9 1.3-2.8 1.2-3.4 1.3-2.2 1.2 0.3 1.3 2.8 1.2 4.5 1.3 4.8 1.2 4.0 1.3 2.8 1.2 1.5 1.3 0.8 1.2 0.3h13.8l1.2-0.4 1.3-0.8 1.2-1.4 1.3-2.3 1.2-2.9 1.3-3.0 1.2-2.3 1.3-0.7 1.2 1.1 1.3 2.6 1.2 3.0 1.3 2.9 1.2 2.0 1.3 1.3 1.2 0.6 1.3 0.3V1828.2H237.1Z" fill="#e2f1e3" fill-opacity="0.72" stroke="#3aa845" stroke-width="1.7" stroke-linejoin="round"/>
<path id="p2G" d="M237.1 1826.8l1.2-0.2 1.3-0.1 1.2 0.1 1.3 0.2 1.2 0.2 1.3 0.2 1.2-0.2 1.3-0.9 1.2-2.1 1.3-4.1 1.2-6.6 1.3-8.7 1.2-9.5 1.3-7.4 1.2-2.9 1.3 2.7 1.3 7.3 1.2 9.4 1.3 8.9 1.2 6.7 1.3 4.2 1.2 2.2 1.3 1.0 1.2 0.4h18.8l1.2-0.3 1.3-0.9 1.2-2.0 1.3-3.8 1.2-6.1 1.3-8.1 1.2-8.8 1.3-7.0 1.2-2.8 1.3 2.4 1.2 6.7 1.3 8.7 1.2 8.3 1.3 6.3 1.2 3.9 1.3 2.2 1.2 0.9 1.3 0.4h17.5l1.2-0.4 1.3-0.5 1.2-0.8 1.3-0.7 1.2-0.7 1.3-0.4 1.2 0.1 1.3 0.4 1.2 0.5 1.3 0.2 1.2-0.9 1.3-2.9 1.2-5.7 1.3-9.1 1.2-11.7 1.3-12.2 1.2-9.0 1.3-3.0 1.2 4.4 1.3 10.0 1.2 12.3 1.3 11.4 1.2 8.6 1.3 5.4 1.2 2.8 1.3 1.3 1.2 0.6h11.3l1.2-0.4 1.3-1.1 1.2-2.6 1.3-5.2 1.2-8.9 1.3-13.2 1.2-16.2 1.3-16.0 1.2-11.2 1.3-2.8 1.2 6.7 1.3 13.8 1.2 16.6 1.3 15.2 1.2 11.4 1.3 7.2 1.2 4.0 1.3 1.8 1.2 0.7 1.3 0.3h31.2l1.3-0.5 1.2-0.5 1.3-0.5 1.2-0.6 1.3-0.4 1.2-0.1 1.3 0.3 1.2 0.5 1.3 0.5 1.2 0.5 1.3 0.4 1.2 0.3h31.3l1.2-0.3 1.3-1.1 1.2-2.7 1.3-5.7 1.2-10.2 1.3-15.0 1.2-17.6 1.3-15.6 1.2-8.2 1.3 2.6 1.2 12.2 1.3 17.3 1.2 16.8 1.3 12.8 1.2 8.0 1.3 4.1 1.2 1.8 1.3 0.7h11.2l1.3-0.4 1.2-0.7 1.3-1.4 1.2-2.2 1.3-3.1 1.2-3.9 1.3-4.4 1.2-3.9 1.3-2.5 1.2-0.4 1.3 1.8 1.2 3.7 1.3 4.5 1.2 4.4 1.3 3.5 1.2 2.3 1.3 1.2 1.2 0.4 1.3-0.3 1.2-0.5 1.3-0.6 1.2-0.5 1.3-0.1 1.2 0.4 1.3 0.6 1.2 0.7 1.3 0.6 1.2 0.3 1.3-0.1 1.2-0.8 1.3-1.9 1.2-3.8 1.3-6.2 1.2-8.6 1.3-10.0 1.2-9.3 1.3-6.2 1.2-1.0 1.3 4.5 1.2 8.5 1.3 10.1 1.2 9.2 1.3 7.1 1.2 4.6 1.3 2.6 1.2 1.3 1.3 0.5h28.7l1.3-0.3 1.2-0.6 1.3-0.8 1.2-1.0 1.3-0.9 1.2-0.5 1.3 0.0 1.2 0.5 1.3 0.8 1.2 1.0 1.3 0.8 1.2 0.6 1.3 0.4h3.7l1.3-0.1 1.2-0.3 1.3-0.3 1.2-0.2 1.3 0.0 1.2 0.0 1.3 0.2 1.2 0.3 1.3 0.3 1.2 0.1h10.0l1.3-0.2 1.2-0.5 1.3-0.7 1.2-1.0 1.3-0.9 1.2-0.8 1.3-0.4 1.2-0.1 1.3-0.4 1.2-1.2 1.3-2.8 1.2-4.4 1.3-5.3 1.2-4.9 1.3-2.9 1.2 0.3 1.3 3.4 1.2 5.3 1.3 5.7 1.2 4.8 1.3 3.3 1.2 1.8 1.3 0.7 1.2 0.0 1.3-0.1 1.2-0.2 1.3 0.0 1.2 0.2 1.3 0.4 1.2 0.4 1.3 0.3 1.2 0.2h53.8l1.2-0.1 1.3-0.7 1.2-1.6 1.3-3.1 1.2-5.0 1.3-6.9 1.2-7.7 1.3-6.8 1.2-3.6 1.3 0.9 1.2 4.9 1.3 7.3 1.2 7.6 1.3 6.2 1.2 4.1 1.3 1.9 1.2 0.1 1.3-1.6 1.2-2.9 1.3-3.8 1.2-3.8 1.3-2.7 1.2-0.6 1.3 1.7 1.2 3.4 1.3 4.0 1.2 3.5 1.3 2.5 1.2 1.3 1.3 0.2 1.2-1.0 1.3-2.0 1.2-3.0 1.3-3.5 1.2-3.1 1.3-1.7 1.2 0.4 1.3 2.3 1.2 3.3 1.3 3.5 1.2 2.7 1.3 1.8 1.2 1.0 1.3 0.3 1.2-0.1 1.3-0.5 1.2-0.6 1.3-0.8 1.2-0.7 1.3-0.5 1.2-0.4 1.3-0.3 1.2-0.6 1.3-0.9 1.2-1.2 1.3-0.9 1.2-0.4 1.3 0.4 1.2 0.8 1.3 0.8 1.2 0.3 1.3-0.2 1.2-0.3 1.3-0.1 1.2 0.3 1.3 0.7 1.2 0.8 1.3 0.7 1.2 0.7 1.3 0.5 1.2 0.3 1.3-0.3 1.2-1.0 1.3-1.8 1.2-2.4 1.3-2.3 1.2-1.3 1.3 0.2 1.2 1.6 1.3 2.5 1.2 2.6 1.3 2.1 1.2 1.4 1.3 0.9 1.2 0.4h7.5l1.3-0.3 1.2-0.5 1.3-0.7 1.2-1.1 1.3-1.1 1.2-1.0 1.3-0.5 1.2-0.3 1.3-0.2 1.2-0.5 1.3-1.1 1.2-1.4 1.3-1.1 1.2-0.1 1.3 1.0 1.2 1.9 1.3 2.2 1.2 2.0 1.3 1.4 1.2 0.9 1.3 0.4h6.2l1.3-0.2 1.2-0.6 1.3-1.0 1.2-1.2 1.3-1.3 1.2-1.1 1.3-0.5 1.2 0.1 1.3 0.2 1.2-0.2 1.3-1.4 1.2-2.7 1.3-3.3 1.2-3.1 1.3-1.4 1.2 0.8 1.3 2.8 1.2 3.9 1.3 3.7 1.2 2.9 1.3 1.6 1.2 0.4 1.3-1.0 1.2-2.6 1.3-4.2 1.2-5.4 1.3-5.6 1.2-4.1 1.3-1.2 1.2 2.2 1.3 4.7 1.2 5.7 1.3 5.2 1.2 3.8 1.3 2.4 1.2 1.2 1.3 0.5V1828.2H237.1Z" fill="#dcdcdc" fill-opacity="0.72" stroke="#111111" stroke-width="1.7" stroke-linejoin="round"/>
<path id="p2T" d="M237.1 1827.8h35.0l1.3-0.4 1.2-0.4 1.3-0.5 1.2-0.6 1.3-0.5 1.2-0.3 1.3 0.1 1.2 0.4 1.3 0.5 1.2 0.6 1.3 0.4 1.2 0.4h15.0l1.3-0.5 1.2-1.3 1.3-3.0 1.2-5.8 1.3-9.7 1.2-14.0 1.3-16.7 1.2-15.9 1.3-10.5 1.2-1.8 1.3 7.7 1.2 14.5 1.3 16.8 1.2 15.1 1.3 11.0 1.2 6.0 1.3 1.1 1.2-3.9 1.3-9.2 1.2-14.2 1.3-16.9 1.2-15.3 1.3-8.5 1.2 1.5 1.3 11.1 1.2 16.4 1.3 16.6 1.2 13.1 1.3 8.6 1.2 4.6 1.3 2.2 1.2 0.8 1.3 0.3h10.0l1.2-0.7 1.3-1.2 1.2-2.5 1.3-4.7 1.2-7.6 1.3-10.5 1.2-12.5 1.3-12.0 1.2-8.6 1.3-2.5 1.2 4.2 1.3 9.7 1.2 12.4 1.3 12.2 1.2 9.8 1.3 6.8 1.2 4.1 1.3 2.1 1.2 1.0 1.3 0.4h17.5l1.2-0.4 1.3-0.5 1.2-0.6 1.3-0.7 1.2-0.6 1.3-0.3 1.2 0.1 1.3 0.5 1.2 0.7 1.3 0.7 1.2 0.5 1.3 0.4 1.2 0.2h33.8l1.2-0.4 1.3-0.4 1.2-0.5 1.3-0.5 1.2-0.3 1.3-0.1 1.2 0.2 1.3 0.3 1.2 0.2 1.3-0.5 1.2-1.8 1.3-4.1 1.2-7.5 1.3-11.3 1.2-14.0 1.3-14.0 1.2-10.1 1.3-2.9 1.2 5.3 1.3 11.7 1.2 14.4 1.3 13.4 1.2 10.2 1.3 6.5 1.2 3.6 1.3 1.7 1.2 0.7 1.3 0.3h30.0l1.2-0.4 1.3-0.5 1.2-0.6 1.3-0.8 1.2-0.6 1.3-0.4 1.2 0.0 1.3 0.4 1.2 0.7 1.3 0.7 1.2 0.7 1.3 0.4 1.2 0.3h60.0l1.3-0.4 1.2-0.5 1.3-0.6 1.2-0.8 1.3-0.7 1.2-0.3 1.3 0.0 1.2 0.5 1.3 0.7 1.2 0.8 1.3 0.6 1.2 0.4 1.3 0.3h8.7l1.3-0.8 1.2-1.8 1.3-3.6 1.2-6.7 1.3-9.9 1.2-12.2 1.3-11.5 1.2-7.3 1.3-0.1 1.2 7.0 1.3 11.4 1.2 12.3 1.3 10.0 1.2 6.8 1.3 3.7 1.2 1.8 1.3 0.8h20.0l1.2-0.2 1.3-0.5 1.2-0.7 1.3-0.8 1.2-0.7 1.3-0.4 1.2 0.0 1.3 0.4 1.2 0.7 1.3 0.8 1.2 0.6 1.3 0.5 1.2 0.1 1.3-0.1 1.2-0.4 1.3-0.5 1.2-0.7 1.3-0.5 1.2-0.3 1.3 0.0 1.2 0.5 1.3 0.6 1.2 0.6 1.3 0.6 1.2 0.3 1.3 0.2h2.5l1.2-0.2 1.3-0.2 1.2-0.3 1.3-0.3 1.2-0.2 1.3-0.1 1.2 0.0 1.3-0.1 1.2-0.5 1.3-1.4 1.2-2.7 1.3-4.2 1.2-5.1 1.3-4.9 1.2-3.1 1.3-0.2 1.2 2.9 1.3 4.8 1.2 5.2 1.3 4.4 1.2 2.8 1.3 1.2 1.2-0.5 1.3-2.4 1.2-4.5 1.3-6.4 1.2-7.3 1.3-6.2 1.2-3.2 1.3 1.2 1.2 4.9 1.3 7.1 1.2 7.0 1.3 5.5 1.2 3.7 1.3 1.9 1.2 0.9 1.3 0.2 1.2-0.2 1.3-0.4 1.2-0.5 1.3-0.6 1.2-0.3 1.3-0.1 1.2 0.2 1.3 0.5 1.2 0.5 1.3 0.6 1.2 0.3 1.3 0.3h10.0l1.2-0.3 1.3-0.3 1.2-0.4 1.3-0.3 1.2-0.6 1.3-1.2 1.2-2.2 1.3-3.9 1.2-5.6 1.3-6.7 1.2-6.1 1.3-3.6 1.2 0.0 1.3 3.8 1.2 6.3 1.3 6.8 1.2 5.8 1.3 4.1 1.2 2.5 1.3 1.2 1.2 0.6h30.0l1.3-0.2 1.2-0.8 1.3-1.7 1.2-3.2 1.3-5.0 1.2-6.4 1.3-6.5 1.2-4.6 1.3-1.2 1.2 2.7 1.3 5.6 1.2 6.7 1.3 5.9 1.2 4.3 1.3 2.5 1.2 1.3 1.3 0.6h12.5l1.2-0.3 1.3-0.5 1.2-0.6 1.3-0.5 1.2-0.4 1.3-0.2 1.2 0.3 1.3 0.4 1.2 0.6 1.3 0.5 1.2 0.2 1.3-0.1 1.2-0.4 1.3-0.7 1.2-0.7 1.3-0.7 1.2-0.2 1.3 0.1 1.2 0.6 1.3 0.8 1.2 0.7 1.3 0.6 1.2 0.4 1.3 0.2h8.7l1.3-0.2 1.2-0.6 1.3-1.1 1.2-1.8 1.3-2.4 1.2-2.5 1.3-2.1 1.2-0.8 1.3 0.6 1.2 1.9 1.3 2.6 1.2 2.4 1.3 1.8 1.2 1.2 1.3 0.7 1.2 0.3h13.8V1828.2H237.1Z" fill="#f8e1df" fill-opacity="0.72" stroke="#de4234" stroke-width="1.7" stroke-linejoin="round"/>
<text x="245.6" y="1735" font-size="10.5" text-anchor="middle" fill="#5b78c8" font-family="'Liberation Sans',sans-serif">C</text>
<text x="262.72" y="1735" font-size="10.5" text-anchor="middle" fill="#47b04f" font-family="'Liberation Sans',sans-serif">A</text>
<text x="279.84" y="1735" font-size="10.5" text-anchor="middle" fill="#5b78c8" font-family="'Liberation Sans',sans-serif">C</text>
<text x="296.95" y="1735" font-size="10.5" text-anchor="middle" fill="#222" font-family="'Liberation Sans',sans-serif">G</text>
<text x="314.07" y="1735" font-size="10.5" text-anchor="middle" fill="#e0524a" font-family="'Liberation Sans',sans-serif">T</text>
<text x="331.19" y="1735" font-size="10.5" text-anchor="middle" fill="#e0524a" font-family="'Liberation Sans',sans-serif">T</text>
<text x="348.31" y="1735" font-size="10.5" text-anchor="middle" fill="#222" font-family="'Liberation Sans',sans-serif">G</text>
<text x="365.43" y="1735" font-size="10.5" text-anchor="middle" fill="#e0524a" font-family="'Liberation Sans',sans-serif">T</text>
<text x="382.54" y="1735" font-size="10.5" text-anchor="middle" fill="#222" font-family="'Liberation Sans',sans-serif">G</text>
<text x="399.66" y="1735" font-size="10.5" text-anchor="middle" fill="#5b78c8" font-family="'Liberation Sans',sans-serif">C</text>
<text x="416.78" y="1735" font-size="10.5" text-anchor="middle" fill="#5b78c8" font-family="'Liberation Sans',sans-serif">C</text>
<text x="433.9" y="1735" font-size="10.5" text-anchor="middle" fill="#47b04f" font-family="'Liberation Sans',sans-serif">A</text>
<text x="451.02" y="1735" font-size="10.5" text-anchor="middle" fill="#5b78c8" font-family="'Liberation Sans',sans-serif">C</text>
<text x="468.13" y="1735" font-size="10.5" text-anchor="middle" fill="#e0524a" font-family="'Liberation Sans',sans-serif">T</text>
<text x="485.25" y="1735" font-size="10.5" text-anchor="middle" fill="#222" font-family="'Liberation Sans',sans-serif">G</text>
<text x="502.37" y="1735" font-size="10.5" text-anchor="middle" fill="#5b78c8" font-family="'Liberation Sans',sans-serif">C</text>
<text x="519.49" y="1735" font-size="10.5" text-anchor="middle" fill="#222" font-family="'Liberation Sans',sans-serif">G</text>
<text x="536.61" y="1735" font-size="10.5" text-anchor="middle" fill="#5b78c8" font-family="'Liberation Sans',sans-serif">C</text>
<text x="553.72" y="1735" font-size="10.5" text-anchor="middle" fill="#222" font-family="'Liberation Sans',sans-serif">G</text>
<text x="570.84" y="1735" font-size="10.5" text-anchor="middle" fill="#5b78c8" font-family="'Liberation Sans',sans-serif">C</text>
<text x="587.96" y="1735" font-size="10.5" text-anchor="middle" fill="#5b78c8" font-family="'Liberation Sans',sans-serif">C</text>
<text x="605.08" y="1735" font-size="10.5" text-anchor="middle" fill="#5b78c8" font-family="'Liberation Sans',sans-serif">C</text>
<text x="622.19" y="1735" font-size="10.5" text-anchor="middle" fill="#e0524a" font-family="'Liberation Sans',sans-serif">T</text>
<text x="639.31" y="1735" font-size="10.5" text-anchor="middle" fill="#5b78c8" font-family="'Liberation Sans',sans-serif">C</text>
<text x="656.43" y="1735" font-size="10.5" text-anchor="middle" fill="#222" font-family="'Liberation Sans',sans-serif">G</text>
<text x="673.55" y="1735" font-size="10.5" text-anchor="middle" fill="#5b78c8" font-family="'Liberation Sans',sans-serif">C</text>
<text x="690.67" y="1735" font-size="10.5" text-anchor="middle" fill="#5b78c8" font-family="'Liberation Sans',sans-serif">C</text>
<rect x="701.98" y="1723" width="11.6" height="15.6" fill="#f3e53f" stroke="#b5a92a" stroke-width="0.8"/>
<text x="707.78" y="1735" font-size="10.5" text-anchor="middle" fill="#111" font-family="'Liberation Sans',sans-serif">N</text>
<text x="724.9" y="1735" font-size="10.5" text-anchor="middle" fill="#5b78c8" font-family="'Liberation Sans',sans-serif">C</text>
<text x="742.02" y="1735" font-size="10.5" text-anchor="middle" fill="#222" font-family="'Liberation Sans',sans-serif">G</text>
<text x="759.14" y="1735" font-size="10.5" text-anchor="middle" fill="#5b78c8" font-family="'Liberation Sans',sans-serif">C</text>
<text x="776.26" y="1735" font-size="10.5" text-anchor="middle" fill="#e0524a" font-family="'Liberation Sans',sans-serif">T</text>
<text x="793.37" y="1735" font-size="10.5" text-anchor="middle" fill="#5b78c8" font-family="'Liberation Sans',sans-serif">C</text>
<text x="810.49" y="1735" font-size="10.5" text-anchor="middle" fill="#5b78c8" font-family="'Liberation Sans',sans-serif">C</text>
<text x="827.61" y="1735" font-size="10.5" text-anchor="middle" fill="#e0524a" font-family="'Liberation Sans',sans-serif">T</text>
<text x="844.73" y="1735" font-size="10.5" text-anchor="middle" fill="#47b04f" font-family="'Liberation Sans',sans-serif">A</text>
<text x="861.85" y="1735" font-size="10.5" text-anchor="middle" fill="#5b78c8" font-family="'Liberation Sans',sans-serif">C</text>
<text x="878.96" y="1735" font-size="10.5" text-anchor="middle" fill="#5b78c8" font-family="'Liberation Sans',sans-serif">C</text>
<text x="896.08" y="1735" font-size="10.5" text-anchor="middle" fill="#5b78c8" font-family="'Liberation Sans',sans-serif">C</text>
<text x="913.2" y="1735" font-size="10.5" text-anchor="middle" fill="#5b78c8" font-family="'Liberation Sans',sans-serif">C</text>
<text x="245.6" y="1838.7" font-size="7.5" text-anchor="middle" fill="#9a9a9a" letter-spacing="1">1</text>
<text x="399.66" y="1838.7" font-size="7.5" text-anchor="middle" fill="#9a9a9a" letter-spacing="1">10</text>
<text x="570.84" y="1838.7" font-size="7.5" text-anchor="middle" fill="#9a9a9a" letter-spacing="1">20</text>
<text x="742.02" y="1838.7" font-size="7.5" text-anchor="middle" fill="#9a9a9a" letter-spacing="1">30</text>
<text x="913.2" y="1838.7" font-size="7.5" text-anchor="middle" fill="#9a9a9a" letter-spacing="1">40</text>
<rect x="701.2" y="1719.5" width="225.4" height="124.6" fill="none" stroke="#111" stroke-width="2.2"/>
<rect x="1.2" y="1869" width="933.3" height="292.2" fill="none" stroke="#555" stroke-width="1.3"/>
<text x="349" y="1898.4" font-size="23.7" font-weight="bold">rs201060968 (c.3641G&gt;A)</text>
<text x="13.4" y="1921.7" font-size="21.5" font-style="italic">SM-CTEDS (control)</text>
<text x="13.4" y="2050.2" font-size="21.5" font-style="italic">SM-CJEGH (LoF)</text>
<rect x="233.5" y="2015.2" width="685.5" height="2.6" fill="#c9c9c9"/>
<line x1="395.69" y1="1929.7" x2="395.69" y2="2014.6" stroke="#b5b5b5" stroke-width="0.9" stroke-dasharray="3 2.2"/>
<line x1="566.46" y1="1929.7" x2="566.46" y2="2014.6" stroke="#b5b5b5" stroke-width="0.9" stroke-dasharray="3 2.2"/>
<line x1="737.23" y1="1929.7" x2="737.23" y2="2014.6" stroke="#b5b5b5" stroke-width="0.9" stroke-dasharray="3 2.2"/>
<line x1="908" y1="1929.7" x2="908" y2="2014.6" stroke="#b5b5b5" stroke-width="0.9" stroke-dasharray="3 2.2"/>
<path id="p3C" d="M233.5 2014.2h32.5l1.2-0.8 1.3-1.3 1.3-2.7 1.2-4.7 1.2-6.8 1.3-8.0 1.3-7.0 1.2-3.5 1.2 1.2 1.3 5.6 1.3 7.8 1.2 7.4 1.2 5.4 1.3 2.7 1.3 0.1 1.2-2.4 1.2-4.7 1.3-6.3 1.3-6.9 1.2-5.8 1.2-3.1 1.3 0.7 1.3 4.1 1.2 6.3 1.2 6.6 1.3 5.5 1.3 3.7 1.2 2.0 1.2 0.9 1.3 0.5 1.3 0.4 1.2 0.6 1.2 0.7 1.3 0.7 1.3 0.5 1.2 0.3h3.8l1.2-0.1 1.2-0.4 1.3-0.4 1.3-0.6 1.2-0.4 1.2-0.2 1.3 0.1 1.3 0.3 1.2 0.5 1.2 0.5 1.3 0.4 1.3 0.3h16.2l1.2-0.3 1.3-0.5 1.3-0.7 1.2-1.0 1.2-1.3 1.3-1.6 1.3-2.3 1.2-3.8 1.2-5.6 1.3-7.1 1.3-6.9 1.2-4.4 1.2 0.0 1.3 4.6 1.3 7.5 1.2 8.1 1.2 6.6 1.3 4.5 1.3 2.6 1.2 1.2 1.2 0.5h5.0l1.3-0.2 1.3-0.5 1.2-0.6 1.2-0.9 1.3-1.0 1.3-0.8 1.2-0.9 1.2-1.0 1.3-1.7 1.3-3.2 1.2-5.0 1.2-6.3 1.3-6.3 1.3-4.4 1.2-1.0 1.2 2.9 1.3 5.8 1.3 7.0 1.2 6.5 1.2 5.0 1.3 2.9 1.3 0.9 1.2-1.2 1.2-3.4 1.3-5.9 1.3-7.5 1.2-7.4 1.2-4.8 1.3-0.4 1.3 4.2 1.2 7.2 1.2 7.6 1.3 6.4 1.3 4.2 1.2 2.3 1.2 1.1 1.3 0.4h80.0l1.3-0.4 1.2-1.0 1.2-1.9 1.3-3.3 1.3-5.1 1.2-6.7 1.2-7.2 1.3-6.0 1.3-3.0 1.2 0.8 1.2 4.6 1.3 6.7 1.3 7.0 1.2 5.8 1.2 3.8 1.3 1.4 1.3-0.9 1.2-3.2 1.2-5.3 1.3-6.7 1.3-6.8 1.2-5.0 1.2-1.9 1.3 1.9 1.3 5.1 1.2 6.8 1.2 6.8 1.3 5.5 1.3 3.9 1.2 2.3 1.2 1.3 1.3 0.5 1.3 0.3h27.4l1.3-0.5 1.3-0.6 1.2-0.8 1.2-1.0 1.3-0.8 1.3-0.6 1.2 0.1 1.2 0.5 1.3 0.8 1.3 1.0 1.2 0.8 1.2 0.6 1.3 0.3h35.0l1.3-0.6 1.2-1.3 1.2-2.6 1.3-4.5 1.3-6.5 1.2-8.0 1.2-7.8 1.3-5.5 1.3-1.4 1.2 3.2 1.2 6.7 1.3 8.1 1.3 7.6 1.2 5.7 1.2 3.6 1.3 2.0 1.3 0.9 1.2 0.2 1.2-0.1 1.3-0.5 1.3-0.6 1.2-0.7 1.2-0.5 1.3-0.3 1.3 0.1 1.2 0.5 1.2 0.7 1.3 0.6 1.3 0.6 1.2 0.3 1.2 0.1h1.3l1.3-0.3 1.2-0.4 1.2-0.5 1.3-0.6 1.3-0.4 1.2-0.1 1.2 0.1 1.3 0.5 1.3 0.5 1.2 0.6 1.2 0.4 1.3 0.2h30.0l1.3-0.2 1.2-0.9 1.2-1.6 1.3-3.0 1.3-4.8 1.2-6.4 1.2-7.3 1.3-6.8 1.3-4.4 1.2-0.7 1.2 3.3 1.3 6.1 1.3 7.4 1.2 6.8 1.2 5.4 1.3 3.5 1.3 2.1 1.2 1.1 1.2 0.4h7.6l1.2-0.4 1.2-0.5 1.3-0.7 1.3-0.7 1.2-0.5 1.2-0.3 1.3 0.2 1.3 0.6 1.2 0.7 1.2 0.7 1.3 0.5 1.3 0.4h25.0l1.2-0.2 1.2-0.4 1.3-0.6 1.3-0.6 1.2-0.6 1.2-0.3 1.3 0.0 1.3 0.4 1.2 0.6 1.2 0.6 1.3 0.4 1.3 0.1 1.2-0.6 1.2-1.4 1.3-2.9 1.3-4.5 1.2-6.3 1.2-7.4 1.3-7.1 1.3-5.0 1.2-1.5 1.2 2.5 1.3 5.8 1.3 7.3 1.2 7.2 1.2 5.9 1.3 4.1 1.3 2.5 1.2 1.3 1.2 0.6 1.3 0.3h10.0l1.3-0.4 1.2-0.8 1.2-1.9 1.3-3.7 1.3-5.8 1.2-7.8 1.2-8.1 1.3-6.1 1.3-1.9 1.2 3.2 1.2 6.8 1.3 8.3 1.3 7.3 1.2 5.2 1.2 2.9 1.3 1.2 1.3 0.1 1.2-0.6 1.2-0.7 1.3-0.6 1.3-0.2 1.2 0.2 1.2 0.6 1.3 0.8 1.3 0.7 1.2 0.6 1.2 0.4 1.3 0.2h3.7l1.3-0.5 1.3-0.5 1.2-0.7 1.2-0.8 1.3-0.6 1.3-0.3 1.2 0.1 1.2 0.5 1.3 0.6 1.3 0.4 1.2 0.1 1.2-0.3 1.3-0.6 1.3-0.6 1.2-0.4 1.2 0.1 1.3 0.5 1.3 0.7 1.2 0.8 1.2 0.7 1.3 0.4 1.3 0.2 1.2-0.1 1.2-0.4 1.3-0.8 1.3-1.5 1.2-2.6 1.2-4.2 1.3-5.9 1.3-7.2 1.2-7.1 1.2-4.9 1.3-0.9 1.3 3.4 1.2 6.7 1.2 7.9 1.3 7.0 1.3 5.2 1.2 3.1 1.2 1.6 1.3 0.7V2014.6H233.5Z" fill="#e3e9f6" fill-opacity="0.72" stroke="#4a6ec2" stroke-width="1.7" stroke-linejoin="round"/>
<path id="p3A" d="M233.5 2014.2h15.0l1.3-0.4 1.2-0.3 1.2-0.4 1.3-0.5 1.3-0.4 1.2-0.2 1.2 0.1 1.3 0.3 1.3 0.5 1.2 0.4 1.2 0.4 1.3 0.2h36.3l1.2-0.5 1.2-1.3 1.3-2.5 1.3-4.2 1.2-5.9 1.2-6.7 1.3-5.7 1.3-2.8 1.2 1.1 1.2 4.7 1.3 6.5 1.3 6.4 1.2 4.9 1.2 3.0 1.3 1.4 1.3 0.3 1.2-0.4 1.2-0.6 1.3-0.5 1.3-0.2 1.2 0.2 1.2 0.6 1.3 0.6 1.3 0.7 1.2 0.5 1.2 0.3 1.3 0.0 1.3-0.4 1.2-1.3 1.2-2.8 1.3-5.1 1.3-8.1 1.2-10.6 1.2-11.3 1.3-9.1 1.3-3.9 1.2 2.7 1.2 8.3 1.3 11.2 1.3 10.9 1.2 8.6 1.2 5.7 1.3 3.1 1.3 1.5 1.2 0.7h8.8l1.2-0.2 1.2-0.4 1.3-0.6 1.3-0.6 1.2-0.5 1.2-0.2 1.3 0.0 1.3 0.5 1.2 0.5 1.2 0.6 1.3 0.5 1.3 0.4h12.4l1.3-0.2 1.3-0.5 1.2-0.7 1.2-0.8 1.3-0.8 1.3-0.6 1.2-0.3 1.2 0.2 1.3 0.2 1.3 0.2 1.2-0.1 1.2-0.2 1.3-0.2 1.3 0.2 1.2 0.5 1.2 0.8 1.3 0.8 1.3 0.7 1.2 0.5 1.2 0.3h33.8l1.2-0.2 1.3-0.4 1.3-0.4 1.2-0.4 1.2-0.3 1.3 0.0 1.3 0.2 1.2 0.4 1.2 0.4 1.3 0.4 1.3 0.3h23.7l1.3-0.3 1.2-0.4 1.2-0.5 1.3-0.5 1.3-0.4 1.2 0.0 1.2 0.2 1.3 0.4 1.3 0.5 1.2 0.5 1.2 0.4 1.3 0.2h46.3l1.2-0.2 1.2-0.5 1.3-0.6 1.3-0.9 1.2-0.9 1.2-0.7 1.3-0.3 1.3 0.2 1.2 0.7 1.2 1.0 1.3 0.8 1.3 0.7 1.2 0.5 1.2 0.2h40.0l1.3-0.8 1.3-1.4 1.2-2.9 1.2-4.7 1.3-6.6 1.3-7.6 1.2-6.8 1.2-3.7 1.3 0.6 1.3 4.8 1.2 7.2 1.2 7.5 1.3 6.1 1.3 4.2 1.2 2.4 1.2 1.2 1.3 0.4h12.5l1.2-0.5 1.3-1.1 1.3-1.9 1.2-3.1 1.2-4.3 1.3-5.0 1.3-4.8 1.2-3.2 1.2-0.7 1.3 2.0 1.3 4.1 1.2 5.1 1.2 4.7 1.3 3.8 1.3 2.5 1.2 1.4 1.2 0.7 1.3 0.3h1.3l1.2-0.3 1.2-0.5 1.3-0.7 1.3-0.9 1.2-0.7 1.2-0.5 1.3 0.0 1.3 0.5 1.2 0.8 1.2 0.8 1.3 0.7 1.3 0.5 1.2 0.3h30.0l1.2-0.3 1.3-0.3 1.3-0.4 1.2-0.3 1.2-0.2 1.3 0.1 1.3 0.2 1.2 0.4 1.2 0.4 1.3 0.3 1.3 0.2h6.2l1.2-0.2 1.3-0.3 1.3-0.4 1.2-0.4 1.2-0.4 1.3-0.1 1.3 0.1 1.2 0.3 1.2 0.4 1.3 0.4 1.3 0.4 1.2 0.2h23.8l1.2-0.3 1.2-0.5 1.3-0.6 1.3-0.7 1.2-0.7 1.2-0.4 1.3 0.0 1.3 0.4 1.2 0.7 1.2 0.7 1.3 0.7 1.3 0.4 1.2 0.3h25.0l1.2-0.6 1.3-1.0 1.3-2.1 1.2-3.5 1.2-4.9 1.3-6.0 1.3-6.0 1.2-4.3 1.2-1.4 1.3 2.1 1.3 4.8 1.2 6.0 1.2 5.9 1.3 4.7 1.3 3.1 1.2 1.8 1.2 1.0 1.3 0.4h20.0l1.3-0.2 1.2-0.3 1.2-0.3 1.3-0.3 1.3-0.2 1.2-0.1 1.2 0.1 1.3 0.3 1.3 0.4 1.2 0.3 1.2 0.1 1.3 0.1 1.3-0.2 1.2-0.4 1.2-0.5 1.3-0.6 1.3-0.5 1.2-0.3 1.2 0.0 1.3 0.4 1.3 0.5 1.2 0.4 1.2-0.2 1.3-1.1 1.3-2.9 1.2-5.2 1.2-7.2 1.3-8.2 1.3-6.7 1.2-2.7 1.2 2.3 1.3 6.4 1.3 8.1 1.2 7.5 1.2 5.4 1.3 3.3 1.3 1.6 1.2 0.7 1.2 0.3h16.3V2014.6H233.5Z" fill="#e2f1e3" fill-opacity="0.72" stroke="#3aa845" stroke-width="1.7" stroke-linejoin="round"/>
<path id="p3G" d="M233.5 2010.8l1.3-3.9 1.2-6.6 1.2-9.2 1.3-10.8 1.3-10.0 1.2-6.1 1.2-0.4 1.3 5.7 1.3 9.7 1.2 10.7 1.2 9.2 1.3 6.1 1.3 2.7 1.2-0.3 1.2-3.2 1.3-5.5 1.3-7.3 1.2-7.7 1.2-6.2 1.3-2.8 1.3 1.6 1.2 5.5 1.2 7.8 1.3 8.1 1.3 6.6 1.2 4.6 1.2 2.7 1.3 1.4 1.3 0.6 1.2 0.3h46.2l1.3-0.3 1.3-0.7 1.2-1.3 1.2-2.3 1.3-3.2 1.3-3.8 1.2-3.5 1.2-2.3 1.3-0.2 1.3 2.0 1.2 3.5 1.2 3.8 1.3 3.3 1.3 2.4 1.2 1.4 1.2 0.8 1.3 0.3h2.5l1.2-0.4 1.3-0.6 1.3-0.7 1.2-0.9 1.2-0.9 1.3-0.5 1.3 0.0 1.2 0.5 1.2 0.9 1.3 0.9 1.3 0.7 1.2 0.6 1.2 0.3h11.3l1.3-0.5 1.2-1.0 1.2-1.7 1.3-2.6 1.3-3.3 1.2-3.4 1.2-2.8 1.3-1.4 1.3 0.6 1.2 2.2 1.2 3.3 1.3 3.4 1.3 2.9 1.2 2.1 1.2 1.2 1.3 0.7 1.3 0.1 1.2-0.2 1.2-0.5 1.3-0.7 1.3-0.9 1.2-0.7 1.2-0.5 1.3 0.1 1.3 0.4 1.2 0.8 1.2 0.7 1.3 0.4 1.3 0.2 1.2-0.2 1.2-0.2 1.3-0.1 1.3 0.0 1.2 0.2 1.2 0.4 1.3 0.4 1.3 0.4 1.2 0.2h3.8l1.2-0.3 1.2-0.9 1.3-1.6 1.3-2.5 1.2-3.5 1.2-3.8 1.3-3.2 1.3-1.8 1.2 0.4 1.2 2.4 1.3 3.6 1.3 3.7 1.2 3.2 1.2 2.2 1.3 1.3 1.3 0.6 1.2 0.3h11.2l1.3-0.2 1.3-0.7 1.2-1.6 1.2-3.4 1.3-5.9 1.3-8.6 1.2-10.8 1.2-10.5 1.3-7.3 1.3-1.6 1.2 4.7 1.2 9.2 1.3 11.0 1.3 9.8 1.2 7.0 1.2 3.9 1.3 1.2 1.3-1.1 1.2-2.8 1.2-4.1 1.3-4.4 1.3-3.7 1.2-1.8 1.2 0.5 1.3 2.7 1.3 4.0 1.2 4.1 1.2 3.2 1.3 1.6 1.3-0.3 1.2-2.6 1.2-5.0 1.3-7.5 1.3-9.2 1.2-9.0 1.2-6.6 1.3-2.2 1.3 2.9 1.2 7.2 1.2 9.0 1.3 8.7 1.3 6.6 1.2 4.3 1.2 2.5 1.3 1.4 1.3 1.1 1.2 1.1 1.2 1.0 1.3 0.9 1.3 0.7 1.2 0.4 1.2 0.2h22.6l1.2-0.6 1.2-1.3 1.3-2.5 1.3-4.2 1.2-5.7 1.2-6.3 1.3-5.2 1.3-2.1 1.2 1.8 1.2 4.9 1.3 6.2 1.3 5.7 1.2 3.9 1.2 1.5 1.3-1.0 1.3-3.7 1.2-6.6 1.2-8.7 1.3-9.3 1.3-7.0 1.2-2.4 1.2 3.2 1.3 7.6 1.3 9.5 1.2 8.6 1.2 6.4 1.3 3.6 1.3 1.2 1.2-1.1 1.2-3.5 1.3-6.3 1.3-9.2 1.2-10.8 1.2-9.8 1.3-5.9 1.3 0.2 1.2 6.1 1.2 9.9 1.3 10.8 1.3 9.1 1.2 6.3 1.2 3.7 1.3 1.9 1.3 0.9 1.2 0.3h12.5l1.3-0.4 1.2-0.3 1.2-0.3 1.3-0.2 1.3-0.1 1.2 0.0 1.2 0.2 1.3 0.3 1.3 0.3 1.2 0.3h37.5l1.3-0.6 1.2-1.0 1.2-1.9 1.3-2.8 1.3-3.8 1.2-4.3 1.2-3.7 1.3-2.3 1.3 0.0 1.2 2.1 1.2 3.7 1.3 4.0 1.3 3.3 1.2 1.9 1.2 0.1 1.3-2.1 1.3-4.4 1.2-6.7 1.2-8.4 1.3-9.0 1.3-7.3 1.2-3.7 1.2 1.2 1.3 5.7 1.3 8.7 1.2 9.4 1.2 8.1 1.3 5.7 1.3 3.0 1.2 0.1 1.2-2.9 1.3-5.9 1.3-8.1 1.2-8.5 1.2-6.3 1.3-1.7 1.3 3.5 1.2 7.4 1.2 8.7 1.3 7.7 1.3 5.5 1.2 3.2 1.2 1.7 1.3 0.6 1.3 0.3h28.7l1.3-0.4 1.2-0.9 1.2-2.0 1.3-3.8 1.3-6.0 1.2-7.8 1.2-8.2 1.3-6.0 1.3-1.7 1.2 3.1 1.2 6.9 1.3 8.3 1.3 7.2 1.2 5.0 1.2 2.4 1.3-0.3 1.3-3.0 1.2-5.9 1.2-8.8 1.3-10.5 1.3-9.9 1.2-6.4 1.2-0.8 1.3 5.2 1.3 9.2 1.2 10.6 1.2 9.4 1.3 6.6 1.3 3.6 1.2 0.7 1.2-1.9 1.3-4.4 1.3-6.1 1.2-6.4 1.2-4.7 1.3-1.1 1.3 2.9 1.2 5.8 1.2 6.6 1.3 5.7 1.3 3.9 1.2 2.3 1.2 1.1 1.3 0.4h65.0l1.3-0.3 1.2-0.9 1.2-2.1 1.3-4.0 1.3-6.2 1.2-8.0 1.2-7.9 1.3-5.4 1.3-0.7 1.2 4.3 1.2 7.5 1.3 8.1 1.3 6.8 1.2 4.6 1.2 2.5 1.3 1.2 1.3 0.5h16.2l1.2-0.5 1.3-0.5 1.3-0.7 1.2-0.7 1.2-0.6 1.3-0.2 1.3 0.2 1.2 0.5 1.2 0.7 1.3 0.7 1.3 0.6 1.2 0.3 1.2 0.2h1.3V2014.6H233.5Z" fill="#dcdcdc" fill-opacity="0.72" stroke="#111111" stroke-width="1.7" stroke-linejoin="round"/>
<path id="p3T" d="M233.5 2013.9l1.3-0.3 1.2-0.4 1.2-0.5 1.3-0.5 1.3-0.4 1.2-0.1 1.2 0.2 1.3 0.5 1.3 0.5 1.2 0.5 1.2 0.3 1.3 0.3h88.7l1.3-0.2 1.3-0.3 1.2-0.3 1.2-0.3 1.3-0.1 1.3 0.0 1.2 0.2 1.2 0.3 1.3 0.3 1.3 0.2 1.2 0.2h85.0l1.2-0.2 1.3-0.8 1.3-1.7 1.2-3.3 1.2-4.9 1.3-6.3 1.3-6.1 1.2-3.9 1.2-0.2 1.3 3.6 1.3 6.0 1.2 6.3 1.2 5.1 1.3 3.4 1.3 1.9 1.2 0.8 1.2 0.4h20.0l1.3-0.4 1.3-0.3 1.2-0.1 1.2-0.1 1.3 0.0 1.3 0.2 1.2 0.2 1.2 0.2 1.3 0.2h7.5l1.2-0.2 1.3-0.2 1.3-0.4 1.2-0.4 1.2-0.5 1.3-0.5 1.3-0.6 1.2-0.7 1.2-0.5 1.3-0.1 1.3 0.2 1.2 0.7 1.2 0.8 1.3 0.9 1.3 0.7 1.2 0.3 1.2 0.1 1.3-0.3 1.3-0.6 1.2-0.8 1.2-0.8 1.3-0.6 1.3-0.2 1.2 0.2 1.2 0.7 1.3 0.8 1.3 0.8 1.2 0.6 1.2 0.4 1.3 0.2h13.7l1.3-0.4 1.3-0.5 1.2-0.7 1.2-0.7 1.3-0.6 1.3-0.3 1.2 0.2 1.2 0.5 1.3 0.7 1.3 0.7 1.2 0.6 1.2 0.3 1.3 0.2h26.3l1.2-0.5 1.2-1.1 1.3-2.3 1.3-4.4 1.2-6.7 1.2-8.6 1.3-8.7 1.3-6.3 1.2-1.7 1.2 3.6 1.3 7.5 1.3 9.0 1.2 8.0 1.2 5.8 1.3 3.5 1.3 1.9 1.2 0.8 1.2 0.3h18.8l1.2-0.3 1.3-0.4 1.3-0.5 1.2-0.6 1.2-0.5 1.3-0.4 1.3 0.1 1.2 0.3 1.2 0.6 1.3 0.6 1.3 0.5 1.2 0.3 1.2 0.2h17.6l1.2-0.4 1.2-0.6 1.3-0.7 1.3-0.9 1.2-0.9 1.2-0.5 1.3-0.1 1.3 0.4 1.2 0.6 1.2 0.6 1.3 0.3 1.3-0.1 1.2-0.2 1.2-0.3 1.3 0.0 1.3 0.3 1.2 0.5 1.2 0.7 1.3 0.6 1.3 0.4 1.2 0.3h17.5l1.3-0.4 1.2-0.4 1.2-0.4 1.3-0.3 1.3-0.2 1.2 0.1 1.2 0.3 1.3 0.4 1.3 0.3 1.2 0.4 1.2 0.2h3.8l1.2-0.2 1.3-0.7 1.3-1.5 1.2-2.8 1.2-4.6 1.3-6.2 1.3-7.0 1.2-6.1 1.2-3.4 1.3 0.5 1.3 4.2 1.2 6.6 1.2 6.9 1.3 5.8 1.3 4.1 1.2 2.5 1.2 1.2 1.3 0.6h96.3l1.2-0.2 1.2-0.9 1.3-1.8 1.3-3.3 1.2-5.2 1.2-7.1 1.3-7.8 1.3-7.0 1.2-4.0 1.2 0.3 1.3 4.4 1.3 7.2 1.2 7.8 1.2 6.9 1.3 5.0 1.3 3.1 1.2 1.6 1.2 0.8 1.3 0.3h33.7l1.3-0.2 1.3-0.3 1.2-0.6 1.2-0.7 1.3-0.8 1.3-0.6 1.2-0.2 1.2 0.2 1.3 0.5 1.3 0.8 1.2 0.8 1.2 0.5 1.3 0.4V2014.6H233.5Z" fill="#f8e1df" fill-opacity="0.72" stroke="#de4234" stroke-width="1.7" stroke-linejoin="round"/>
<text x="242" y="1925.5" font-size="10.5" text-anchor="middle" fill="#222" font-family="'Liberation Sans',sans-serif">G</text>
<text x="259.08" y="1925.5" font-size="10.5" text-anchor="middle" fill="#222" font-family="'Liberation Sans',sans-serif">G</text>
<text x="276.15" y="1925.5" font-size="10.5" text-anchor="middle" fill="#5b78c8" font-family="'Liberation Sans',sans-serif">C</text>
<text x="293.23" y="1925.5" font-size="10.5" text-anchor="middle" fill="#5b78c8" font-family="'Liberation Sans',sans-serif">C</text>
<text x="310.31" y="1925.5" font-size="10.5" text-anchor="middle" fill="#47b04f" font-family="'Liberation Sans',sans-serif">A</text>
<text x="327.38" y="1925.5" font-size="10.5" text-anchor="middle" fill="#222" font-family="'Liberation Sans',sans-serif">G</text>
<text x="344.46" y="1925.5" font-size="10.5" text-anchor="middle" fill="#47b04f" font-family="'Liberation Sans',sans-serif">A</text>
<text x="361.54" y="1925.5" font-size="10.5" text-anchor="middle" fill="#5b78c8" font-family="'Liberation Sans',sans-serif">C</text>
<text x="378.62" y="1925.5" font-size="10.5" text-anchor="middle" fill="#222" font-family="'Liberation Sans',sans-serif">G</text>
<text x="395.69" y="1925.5" font-size="10.5" text-anchor="middle" fill="#5b78c8" font-family="'Liberation Sans',sans-serif">C</text>
<text x="412.77" y="1925.5" font-size="10.5" text-anchor="middle" fill="#5b78c8" font-family="'Liberation Sans',sans-serif">C</text>
<text x="429.85" y="1925.5" font-size="10.5" text-anchor="middle" fill="#222" font-family="'Liberation Sans',sans-serif">G</text>
<text x="446.92" y="1925.5" font-size="10.5" text-anchor="middle" fill="#e0524a" font-family="'Liberation Sans',sans-serif">T</text>
<text x="464" y="1925.5" font-size="10.5" text-anchor="middle" fill="#222" font-family="'Liberation Sans',sans-serif">G</text>
<text x="481.08" y="1925.5" font-size="10.5" text-anchor="middle" fill="#222" font-family="'Liberation Sans',sans-serif">G</text>
<text x="498.15" y="1925.5" font-size="10.5" text-anchor="middle" fill="#222" font-family="'Liberation Sans',sans-serif">G</text>
<text x="515.23" y="1925.5" font-size="10.5" text-anchor="middle" fill="#5b78c8" font-family="'Liberation Sans',sans-serif">C</text>
<text x="532.31" y="1925.5" font-size="10.5" text-anchor="middle" fill="#5b78c8" font-family="'Liberation Sans',sans-serif">C</text>
<text x="549.38" y="1925.5" font-size="10.5" text-anchor="middle" fill="#222" font-family="'Liberation Sans',sans-serif">G</text>
<text x="566.46" y="1925.5" font-size="10.5" text-anchor="middle" fill="#222" font-family="'Liberation Sans',sans-serif">G</text>
<text x="583.54" y="1925.5" font-size="10.5" text-anchor="middle" fill="#222" font-family="'Liberation Sans',sans-serif">G</text>
<text x="600.62" y="1925.5" font-size="10.5" text-anchor="middle" fill="#e0524a" font-family="'Liberation Sans',sans-serif">T</text>
<text x="617.69" y="1925.5" font-size="10.5" text-anchor="middle" fill="#47b04f" font-family="'Liberation Sans',sans-serif">A</text>
<text x="634.77" y="1925.5" font-size="10.5" text-anchor="middle" fill="#5b78c8" font-family="'Liberation Sans',sans-serif">C</text>
<text x="651.85" y="1925.5" font-size="10.5" text-anchor="middle" fill="#47b04f" font-family="'Liberation Sans',sans-serif">A</text>
<text x="668.92" y="1925.5" font-size="10.5" text-anchor="middle" fill="#222" font-family="'Liberation Sans',sans-serif">G</text>
<text x="686" y="1925.5" font-size="10.5" text-anchor="middle" fill="#222" font-family="'Liberation Sans',sans-serif">G</text>
<text x="703.08" y="1925.5" font-size="10.5" text-anchor="middle" fill="#222" font-family="'Liberation Sans',sans-serif">G</text>
<text x="720.15" y="1925.5" font-size="10.5" text-anchor="middle" fill="#5b78c8" font-family="'Liberation Sans',sans-serif">C</text>
<text x="737.23" y="1925.5" font-size="10.5" text-anchor="middle" fill="#e0524a" font-family="'Liberation Sans',sans-serif">T</text>
<text x="754.31" y="1925.5" font-size="10.5" text-anchor="middle" fill="#222" font-family="'Liberation Sans',sans-serif">G</text>
<text x="771.38" y="1925.5" font-size="10.5" text-anchor="middle" fill="#222" font-family="'Liberation Sans',sans-serif">G</text>
<text x="788.46" y="1925.5" font-size="10.5" text-anchor="middle" fill="#222" font-family="'Liberation Sans',sans-serif">G</text>
<text x="805.54" y="1925.5" font-size="10.5" text-anchor="middle" fill="#5b78c8" font-family="'Liberation Sans',sans-serif">C</text>
<text x="822.62" y="1925.5" font-size="10.5" text-anchor="middle" fill="#47b04f" font-family="'Liberation Sans',sans-serif">A</text>
<text x="839.69" y="1925.5" font-size="10.5" text-anchor="middle" fill="#5b78c8" font-family="'Liberation Sans',sans-serif">C</text>
<text x="856.77" y="1925.5" font-size="10.5" text-anchor="middle" fill="#e0524a" font-family="'Liberation Sans',sans-serif">T</text>
<text x="873.85" y="1925.5" font-size="10.5" text-anchor="middle" fill="#222" font-family="'Liberation Sans',sans-serif">G</text>
<text x="890.92" y="1925.5" font-size="10.5" text-anchor="middle" fill="#47b04f" font-family="'Liberation Sans',sans-serif">A</text>
<text x="908" y="1925.5" font-size="10.5" text-anchor="middle" fill="#5b78c8" font-family="'Liberation Sans',sans-serif">C</text>
<text x="242" y="2025.1" font-size="7.5" text-anchor="middle" fill="#9a9a9a" letter-spacing="1">1</text>
<text x="395.69" y="2025.1" font-size="7.5" text-anchor="middle" fill="#9a9a9a" letter-spacing="1">10</text>
<text x="566.46" y="2025.1" font-size="7.5" text-anchor="middle" fill="#9a9a9a" letter-spacing="1">20</text>
<text x="737.23" y="2025.1" font-size="7.5" text-anchor="middle" fill="#9a9a9a" letter-spacing="1">30</text>
<text x="908" y="2025.1" font-size="7.5" text-anchor="middle" fill="#9a9a9a" letter-spacing="1">40</text>
<rect x="232" y="2143.8" width="688" height="2.6" fill="#c9c9c9"/>
<line x1="394.68" y1="2058.2" x2="394.68" y2="2143.2" stroke="#b5b5b5" stroke-width="0.9" stroke-dasharray="3 2.2"/>
<line x1="565.98" y1="2058.2" x2="565.98" y2="2143.2" stroke="#b5b5b5" stroke-width="0.9" stroke-dasharray="3 2.2"/>
<line x1="737.29" y1="2058.2" x2="737.29" y2="2143.2" stroke="#b5b5b5" stroke-width="0.9" stroke-dasharray="3 2.2"/>
<line x1="908.6" y1="2058.2" x2="908.6" y2="2143.2" stroke="#b5b5b5" stroke-width="0.9" stroke-dasharray="3 2.2"/>
<path id="p4C" d="M232.0 2142.8h30.0l1.2-0.5 1.3-0.9 1.3-1.7 1.2-3.2 1.2-5.3 1.3-7.4 1.3-8.7 1.2-8.2 1.2-5.3 1.3-0.6 1.3 4.3 1.2 8.0 1.2 9.0 1.3 7.9 1.3 5.7 1.2 3.1 1.2 0.8 1.3-1.2 1.3-3.4 1.2-5.5 1.2-7.4 1.3-8.0 1.3-6.7 1.2-3.6 1.2 0.9 1.3 4.9 1.3 7.4 1.2 8.0 1.2 6.8 1.3 4.9 1.3 3.1 1.2 1.6 1.2 0.7 1.3 0.3h43.7l1.3-0.5 1.3-1.0 1.2-2.1 1.2-3.6 1.3-5.6 1.3-7.3 1.2-8.1 1.2-7.1 1.3-4.0 1.3 0.2 1.2 4.3 1.2 7.2 1.3 8.0 1.3 7.0 1.2 5.1 1.2 3.0 1.3 1.4 1.3 0.4 1.2 0.2 1.2 0.1 1.3 0.4 1.3 0.5 1.2 0.5 1.2 0.5 1.3 0.3 1.3 0.2h2.4l1.3-0.3 1.3-0.9 1.2-1.9 1.2-3.6 1.3-5.8 1.3-8.2 1.2-9.2 1.2-8.1 1.3-4.2 1.3 1.2 1.2 6.1 1.2 8.9 1.3 8.8 1.3 6.8 1.2 3.9 1.2 1.1 1.3-1.7 1.3-4.2 1.2-6.4 1.2-7.9 1.3-7.4 1.3-4.9 1.2-0.7 1.2 3.8 1.3 7.1 1.3 8.2 1.2 7.4 1.2 5.5 1.3 3.5 1.3 1.9 1.2 0.8 1.2 0.4h2.6l1.2-0.2 1.2-0.4 1.3-0.5 1.3-0.6 1.2-0.6 1.2-0.6 1.3-0.6 1.3-0.5 1.2-0.5 1.2-0.3 1.3 0.0 1.3 0.5 1.2 0.9 1.2 1.0 1.3 0.9 1.3 0.7 1.2 0.5 1.2 0.3h18.8l1.2-0.2 1.3-0.3 1.3-0.2 1.2-0.2 1.2-0.1 1.3 0.1 1.3 0.2 1.2 0.2 1.2 0.3 1.3 0.2h13.7l1.3-0.2 1.3-0.3 1.2-0.3 1.2-0.3 1.3-0.2 1.3 0.0 1.2 0.1 1.2 0.1 1.3-0.1 1.3-0.7 1.2-1.9 1.2-3.5 1.3-5.8 1.3-7.6 1.2-8.6 1.2-7.5 1.3-4.3 1.3 0.1 1.2 4.7 1.2 7.6 1.3 8.5 1.3 7.4 1.2 5.2 1.2 2.5 1.3-0.3 1.3-3.3 1.2-6.2 1.2-8.3 1.3-8.6 1.3-6.2 1.2-1.7 1.2 3.5 1.3 7.4 1.3 8.8 1.2 7.9 1.2 5.7 1.3 3.5 1.3 1.7 1.2 0.5 1.2-0.1 1.3-0.5 1.3-0.7 1.2-0.8 1.2-0.5 1.3-0.2 1.3 0.3 1.2 0.6 1.2 0.8 1.3 0.8 1.3 0.5 1.2 0.4h52.5l1.3-0.1 1.2-0.2 1.2-0.2 1.3-0.2 1.3-0.1 1.2 0.0 1.2 0.2 1.3 0.2 1.3 0.3 1.2 0.1h2.5l1.3-0.6 1.2-1.4 1.2-3.0 1.3-5.3 1.3-7.9 1.2-9.3 1.2-8.4 1.3-4.5 1.3 1.1 1.2 6.3 1.2 9.2 1.3 9.0 1.3 6.9 1.2 4.4 1.2 2.2 1.3 1.1 1.3 0.3h3.7l1.3-0.3 1.2-0.5 1.2-0.6 1.3-0.9 1.3-0.8 1.2-0.5 1.2-0.1 1.3 0.4 1.3 0.7 1.2 0.9 1.2 0.7 1.3 0.6 1.3 0.3h8.7l1.3-0.1 1.2-0.3 1.2-0.4 1.3-0.3 1.3-0.3 1.2-0.1 1.2 0.1 1.3 0.3 1.3 0.4 1.2 0.3 1.2 0.3 1.3 0.1 1.3-0.1 1.2-0.3 1.2-0.5 1.3-0.7 1.3-0.9 1.2-0.8 1.2-0.4 1.3 0.0 1.3 0.6 1.2 0.8 1.2 0.8 1.3 0.5 1.3 0.3 1.2-0.3 1.2-0.6 1.3-1.0 1.3-1.4 1.2-2.1 1.2-3.0 1.3-4.8 1.3-6.9 1.2-8.1 1.2-7.6 1.3-4.4 1.3 0.7 1.2 5.7 1.2 8.7 1.3 9.1 1.3 7.3 1.2 4.9 1.2 2.7 1.3 1.3 1.3 0.5h65.0l1.2-0.5 1.2-1.2 1.3-2.8 1.3-4.9 1.2-7.4 1.2-9.0 1.3-8.4 1.3-4.9 1.2 0.3 1.2 5.5 1.3 8.6 1.3 8.9 1.2 7.1 1.2 4.6 1.3 2.6 1.3 1.1 1.2 0.5h11.2l1.3-0.2 1.3-0.6 1.2-1.5 1.2-2.8 1.3-4.8 1.3-7.0 1.2-8.3 1.2-8.0 1.3-5.4 1.3-1.0 1.2 3.7 1.2 7.1 1.3 8.4 1.3 7.7 1.2 5.8 1.2 3.6 1.3 2.0 1.3 0.9 1.2 0.4h8.8l1.2-0.2 1.2-0.3 1.3-0.6 1.3-0.8 1.2-0.9 1.2-0.7 1.3-0.4 1.3 0.2 1.2 0.6 1.2 0.9 1.3 0.8 1.3 0.7 1.2 0.4 1.2 0.3h18.8l1.2-0.4 1.3-0.9 1.3-1.8 1.2-3.3 1.2-5.2 1.3-7.0 1.3-8.1 1.2-7.4 1.2-4.7 1.3-0.7 1.3 3.5 1.2 6.8 1.2 8.0 1.3 7.5 1.3 5.9 1.2 3.8 1.2 2.3 1.3 1.1V2143.2H232.0Z" fill="#e3e9f6" fill-opacity="0.72" stroke="#4a6ec2" stroke-width="1.7" stroke-linejoin="round"/>
<path id="p4A" d="M232.0 2142.8h2.5l1.3-0.4 1.2-0.5 1.2-0.6 1.3-0.8 1.3-0.8 1.2-0.5 1.2-0.2 1.3 0.3 1.3 0.7 1.2 0.8 1.2 0.8 1.3 0.5 1.3 0.4h47.4l1.3-0.2 1.3-0.8 1.2-1.8 1.2-3.5 1.3-5.4 1.3-7.2 1.2-7.5 1.2-5.6 1.3-1.7 1.3 2.9 1.2 6.2 1.2 7.6 1.3 6.8 1.3 5.0 1.2 3.0 1.2 1.5 1.3 0.6 1.3 0.3h11.2l1.2-0.8 1.3-1.6 1.3-3.6 1.2-6.7 1.2-10.7 1.3-13.7 1.3-14.0 1.2-9.9 1.2-2.2 1.3 6.1 1.3 11.8 1.2 13.4 1.2 11.3 1.3 7.9 1.3 4.8 1.2 2.9 1.2 1.8 1.3 1.2 1.3 0.9 1.2 0.6 1.2 0.2 1.3 0.1 1.3-0.3 1.2-0.4 1.2-0.8 1.3-0.9 1.3-0.9 1.2-0.6 1.2-0.2 1.3 0.4 1.3 0.8 1.2 1.0 1.2 0.8 1.3 0.6 1.3 0.4 1.2 0.2h17.5l1.3-0.3 1.2-0.2 1.2-0.3 1.3-0.3 1.3-0.1 1.2 0.0 1.2 0.2 1.3 0.3 1.3 0.3 1.2 0.3h26.2l1.3-0.4 1.3-0.5 1.2-0.6 1.2-0.7 1.3-0.5 1.3-0.2 1.2 0.2 1.2 0.5 1.3 0.7 1.3 0.6 1.2 0.5 1.2 0.4h50.0l1.3-0.2 1.3-0.5 1.2-0.8 1.2-0.8 1.3-0.9 1.3-0.6 1.2-0.1 1.2 0.4 1.3 0.8 1.3 0.9 1.2 0.8 1.2 0.6 1.3 0.4h16.3l1.2-0.1 1.2-0.2 1.3-0.3 1.3-0.3 1.2-0.2 1.2 0.0 1.3 0.2 1.3 0.2 1.2 0.3 1.2 0.3 1.3 0.2h61.3l1.2-0.4 1.2-1.0 1.3-2.2 1.3-4.1 1.2-6.5 1.2-8.7 1.3-9.2 1.3-7.1 1.2-2.6 1.2 2.9 1.3 7.2 1.3 9.2 1.2 8.6 1.2 6.5 1.3 4.0 1.3 2.1 1.2 0.9 1.2 0.3h1.3l1.3-0.1 1.2-0.3 1.2-0.4 1.3-0.5 1.3-0.4 1.2-0.2 1.2 0.1 1.3 0.2 1.3 0.1 1.2-0.2 1.2-1.2 1.3-2.5 1.3-4.2 1.2-5.6 1.2-6.3 1.3-5.3 1.3-2.8 1.2 0.9 1.2 4.0 1.3 6.0 1.3 6.2 1.2 5.2 1.2 3.6 1.3 2.1 1.3 1.1 1.2 0.5h42.5l1.3-0.1 1.2-0.4 1.2-0.6 1.3-0.6 1.3-0.6 1.2-0.4 1.2 0.0 1.3 0.3 1.3 0.6 1.2 0.6 1.2 0.6 1.3 0.4 1.3 0.3h23.7l1.3-0.6 1.2-1.1 1.2-2.1 1.3-3.4 1.3-4.3 1.2-4.6 1.2-3.5 1.3-1.2 1.3 1.5 1.2 3.7 1.2 4.7 1.3 4.2 1.3 3.2 1.2 1.9 1.2 1.1 1.3 0.4h13.7l1.3-0.2 1.3-0.5 1.2-0.6 1.2-0.8 1.3-0.7 1.3-0.5 1.2 0.0 1.2 0.4 1.3 0.7 1.3 0.7 1.2 0.7 1.2 0.5 1.3 0.3h17.5l1.2-0.4 1.3-1.2 1.3-2.3 1.2-4.0 1.2-5.8 1.3-6.7 1.3-6.2 1.2-3.6 1.2 0.1 1.3 3.5 1.3 5.6 1.2 5.8 1.2 4.9 1.3 3.6 1.3 2.5 1.2 1.6 1.2 1.0 1.3 0.6 1.3 0.0 1.2-0.2 1.2-0.4 1.3-0.3 1.3-0.1 1.2 0.1 1.2 0.4 1.3 0.5 1.3 0.5 1.2 0.3 1.2 0.3h13.8l1.2-0.2 1.3-0.4 1.3-0.5 1.2-0.5 1.2-0.6 1.3-0.3 1.3 0.0 1.2 0.4 1.2 0.5 1.3 0.6 1.3 0.5 1.2 0.3 1.2 0.1h1.3l1.3-0.5 1.2-1.1 1.2-2.2 1.3-4.0 1.3-6.1 1.2-7.9 1.2-8.3 1.3-6.6 1.3-3.0 1.2 1.7 1.2 5.8 1.3 7.9 1.3 7.8 1.2 6.2 1.2 4.0 1.3 2.0 1.3 0.8 1.2 0.3 1.2 0.3 1.3 0.5 1.3 0.7 1.2 0.6 1.2 0.6 1.3 0.4 1.3 0.2h8.7V2143.2H232.0Z" fill="#e2f1e3" fill-opacity="0.72" stroke="#3aa845" stroke-width="1.7" stroke-linejoin="round"/>
<path id="p4G" d="M232.0 2139.4l1.2-4.6 1.3-8.5 1.3-13.0 1.2-16.1 1.2-15.6 1.3-9.9 1.3-0.4 1.2 9.1 1.2 15.2 1.3 16.3 1.3 13.3 1.2 8.7 1.2 4.3 1.3 0.9 1.3-2.2 1.2-5.2 1.2-7.9 1.3-9.6 1.3-8.8 1.2-5.1 1.2 0.6 1.3 6.0 1.3 9.2 1.2 9.4 1.2 7.6 1.3 5.0 1.3 2.7 1.2 1.3 1.2 0.5h47.6l1.2-0.2 1.2-0.6 1.3-1.1 1.3-2.0 1.2-2.9 1.2-3.3 1.3-3.1 1.3-1.8 1.2 0.1 1.2 1.7 1.3 2.8 1.3 3.0 1.2 2.5 1.2 1.8 1.3 1.2 1.3 0.8 1.2 0.5 1.2 0.4 1.3 0.1h1.3l1.2-0.1 1.2-0.4 1.3-0.4 1.3-0.6 1.2-0.4 1.2-0.3 1.3 0.1 1.3 0.3 1.2 0.5 1.2 0.5 1.3 0.5 1.3 0.3h11.2l1.2-0.3 1.3-0.7 1.3-1.4 1.2-2.4 1.2-3.3 1.3-3.9 1.3-3.7 1.2-2.7 1.2-0.7 1.3 1.2 1.3 2.9 1.2 3.6 1.2 3.5 1.3 2.8 1.3 2.1 1.2 1.2 1.2 0.7 1.3 0.1 1.3-0.1 1.2-0.4 1.2-0.3 1.3-0.1 1.3 0.1 1.2 0.4 1.2 0.4 1.3 0.5 1.3 0.3 1.2 0.3h16.2l1.3-0.4 1.3-0.8 1.2-1.5 1.2-2.5 1.3-3.4 1.3-4.0 1.2-3.9 1.2-2.6 1.3-0.6 1.3 1.6 1.2 3.3 1.2 4.0 1.3 3.9 1.3 3.0 1.2 2.0 1.2 1.1 1.3 0.6 1.3 0.3h10.0l1.2-0.5 1.2-1.1 1.3-2.3 1.3-4.5 1.2-7.5 1.2-11.1 1.3-13.7 1.3-13.8 1.2-10.5 1.2-3.9 1.3 4.1 1.3 10.8 1.2 14.0 1.2 13.7 1.3 11.0 1.3 7.1 1.2 3.6 1.2 0.6 1.3-2.0 1.3-4.0 1.2-5.5 1.2-5.5 1.3-3.7 1.3-0.6 1.2 2.8 1.2 5.1 1.3 5.7 1.3 4.8 1.2 3.1 1.2 1.1 1.3-1.1 1.3-3.9 1.2-7.4 1.2-11.2 1.3-13.3 1.3-12.1 1.2-6.7 1.2 1.3 1.3 8.8 1.3 12.9 1.2 13.0 1.2 10.1 1.3 6.5 1.3 3.5 1.2 1.5 1.2 0.6h11.3l1.3-0.3 1.2-0.5 1.2-0.7 1.3-0.8 1.3-0.8 1.2-0.5 1.2 0.0 1.3 0.5 1.3 0.7 1.2 0.9 1.2 0.7 1.3 0.5 1.3 0.3h2.4l1.3-0.4 1.3-1.0 1.2-2.0 1.2-3.5 1.3-5.3 1.3-6.6 1.2-6.6 1.2-4.8 1.3-1.5 1.3 2.4 1.2 5.4 1.2 6.7 1.3 6.2 1.3 4.4 1.2 2.1 1.2-0.4 1.3-3.0 1.3-5.8 1.2-8.2 1.2-9.3 1.3-8.5 1.3-5.2 1.2-0.3 1.2 4.7 1.3 8.2 1.3 9.4 1.2 8.2 1.2 5.7 1.3 2.5 1.3-1.2 1.2-5.2 1.2-9.3 1.3-12.2 1.3-12.7 1.2-9.5 1.2-3.1 1.3 4.6 1.3 10.4 1.2 13.0 1.2 12.0 1.3 9.0 1.3 5.7 1.2 3.1 1.2 1.4 1.3 0.5h56.3l1.2-0.2 1.2-0.5 1.3-0.5 1.3-0.6 1.2-0.5 1.2-0.4 1.3-0.4 1.3-0.8 1.2-1.8 1.2-3.1 1.3-4.5 1.3-5.1 1.2-4.2 1.2-2.1 1.3 1.0 1.3 3.6 1.2 5.1 1.2 5.2 1.3 4.0 1.3 2.4 1.2 0.4 1.2-1.9 1.3-4.8 1.3-8.2 1.2-11.2 1.2-12.2 1.3-10.1 1.3-4.6 1.2 2.3 1.2 8.2 1.3 11.2 1.3 10.9 1.2 8.7 1.2 5.8 1.3 3.1 1.3 0.6 1.2-2.1 1.2-5.0 1.3-7.9 1.3-9.4 1.2-8.4 1.2-4.4 1.3 1.1 1.3 6.4 1.2 9.3 1.2 9.3 1.3 7.4 1.3 4.7 1.2 2.6 1.2 1.2 1.3 0.5h20.0l1.3-0.4 1.2-0.3 1.2-0.5 1.3-0.5 1.3-0.3 1.2-0.1 1.2 0.3 1.3 0.3 1.3 0.4 1.2 0.1 1.2-0.3 1.3-1.2 1.3-2.2 1.2-3.2 1.2-3.8 1.3-3.3 1.3-1.7 1.2 0.3 1.2 2.3 1.3 3.2 1.3 3.0 1.2 1.7 1.2-0.2 1.3-2.6 1.3-5.1 1.2-7.3 1.2-8.3 1.3-7.4 1.3-4.4 1.2 0.1 1.2 4.7 1.3 7.9 1.3 8.6 1.2 7.6 1.2 5.3 1.3 2.8 1.3 0.2 1.2-2.2 1.2-4.6 1.3-6.3 1.3-6.9 1.2-5.8 1.2-2.6 1.3 1.3 1.3 4.8 1.2 6.8 1.2 6.8 1.3 5.5 1.3 3.8 1.2 2.1 1.2 1.1 1.3 0.4h5.0l1.3-0.1 1.2-0.3 1.2-0.5 1.3-0.5 1.3-0.4 1.2-0.2 1.2 0.1 1.3 0.3 1.3 0.5 1.2 0.5 1.2 0.4 1.3 0.2h42.5l1.2-0.2 1.3-0.8 1.3-1.9 1.2-3.6 1.2-6.0 1.3-8.5 1.3-9.8 1.2-9.0 1.2-5.3 1.3 0.1 1.3 5.6 1.2 9.0 1.2 9.9 1.3 8.3 1.3 6.0 1.2 3.5 1.2 1.7 1.3 0.8 1.3 0.2h1.2l1.2-0.3 1.3-0.4 1.3-0.4 1.2-0.5 1.2-0.3 1.3-0.1 1.3 0.1 1.2 0.2 1.2 0.2 1.3 0.2 1.3 0.2 1.2 0.2 1.2 0.3 1.3 0.2 1.3 0.3 1.2 0.2h12.5V2143.2H232.0Z" fill="#dcdcdc" fill-opacity="0.72" stroke="#111111" stroke-width="1.7" stroke-linejoin="round"/>
<path id="p4T" d="M232.0 2142.8h87.5l1.3-0.4 1.2-0.4 1.2-0.5 1.3-0.6 1.3-0.5 1.2-0.3 1.2 0.0 1.3 0.4 1.3 0.5 1.2 0.6 1.2 0.5 1.3 0.3 1.3 0.2h70.0l1.2-0.2 1.2-0.4 1.3-0.5 1.3-0.8 1.2-0.6 1.2-0.5 1.3-0.2 1.3 0.3 1.2 0.6 1.2 0.8 1.3 0.6 1.3 0.5 1.2 0.3h13.8l1.2-0.2 1.2-0.9 1.3-1.9 1.3-3.6 1.2-5.5 1.2-7.1 1.3-7.0 1.3-4.6 1.2-0.6 1.2 3.8 1.3 6.6 1.3 7.2 1.2 6.1 1.2 4.0 1.3 2.3 1.3 1.1 1.2 0.4h22.5l1.3-0.2 1.2-0.4 1.2-0.5 1.3-0.5 1.3-0.4 1.2-0.2 1.2 0.1 1.3 0.4 1.3 0.5 1.2 0.5 1.2 0.4 1.3 0.2h42.5l1.2-0.1 1.3-0.4 1.3-0.4 1.2-0.4 1.2-0.4 1.3-0.1 1.3 0.1 1.2 0.3 1.2 0.5 1.3 0.4 1.3 0.4 1.2 0.2h37.5l1.3-0.8 1.2-1.4 1.2-3.1 1.3-5.2 1.3-7.8 1.2-9.6 1.2-9.3 1.3-6.2 1.3-1.1 1.2 4.4 1.2 8.5 1.3 9.7 1.3 8.6 1.2 6.3 1.2 3.8 1.3 2.0 1.3 0.9 1.2 0.3h50.0l1.2-0.3 1.3-0.3 1.3-0.1 1.2-0.1 1.2 0.0 1.3 0.1 1.3 0.2 1.2 0.3 1.2 0.1h5.0l1.3-0.2 1.3-0.4 1.2-0.6 1.2-0.7 1.3-0.7 1.3-0.4 1.2-0.1 1.2 0.4 1.3 0.6 1.3 0.7 1.2 0.7 1.2 0.5 1.3 0.2h31.3l1.2-0.1 1.2-0.7 1.3-1.6 1.3-3.4 1.2-5.7 1.2-8.1 1.3-9.5 1.3-8.5 1.2-4.7 1.2 0.8 1.3 6.0 1.3 9.0 1.2 9.3 1.2 7.6 1.3 5.0 1.3 2.8 1.2 1.3 1.2 0.5h7.6l1.2-0.1 1.2-0.4 1.3-0.7 1.3-0.9 1.2-0.9 1.2-0.8 1.3-0.3 1.3 0.2 1.2 0.7 1.2 0.9 1.3 0.9 1.3 0.7 1.2 0.5 1.2 0.3h53.8l1.2-0.4 1.3-0.4 1.3-0.4 1.2-0.3 1.2-0.2 1.3 0.1 1.3 0.2 1.2 0.4 1.2 0.4 1.3 0.4 1.3 0.2h5.0l1.2-0.4 1.2-1.0 1.3-2.1 1.3-4.0 1.2-6.3 1.2-8.1 1.3-8.5 1.3-6.5 1.2-2.4 1.2 2.4 1.3 6.2 1.3 7.7 1.2 7.0 1.2 5.3 1.3 3.5 1.3 2.4 1.2 1.6 1.2 1.2 1.3 0.9 1.3 0.6 1.2 0.4h7.5l1.3-0.1 1.2-0.3 1.2-0.4 1.3-0.4 1.3-0.4 1.2-0.1 1.2 0.0 1.3 0.3 1.3 0.4 1.2 0.5 1.2 0.3 1.3 0.3h25.0V2143.2H232.0Z" fill="#f8e1df" fill-opacity="0.72" stroke="#de4234" stroke-width="1.7" stroke-linejoin="round"/>
<text x="240.5" y="2054" font-size="10.5" text-anchor="middle" fill="#222" font-family="'Liberation Sans',sans-serif">G</text>
<text x="257.63" y="2054" font-size="10.5" text-anchor="middle" fill="#222" font-family="'Liberation Sans',sans-serif">G</text>
<text x="274.76" y="2054" font-size="10.5" text-anchor="middle" fill="#5b78c8" font-family="'Liberation Sans',sans-serif">C</text>
<text x="291.89" y="2054" font-size="10.5" text-anchor="middle" fill="#5b78c8" font-family="'Liberation Sans',sans-serif">C</text>
<text x="309.02" y="2054" font-size="10.5" text-anchor="middle" fill="#47b04f" font-family="'Liberation Sans',sans-serif">A</text>
<text x="326.15" y="2054" font-size="10.5" text-anchor="middle" fill="#222" font-family="'Liberation Sans',sans-serif">G</text>
<text x="343.28" y="2054" font-size="10.5" text-anchor="middle" fill="#47b04f" font-family="'Liberation Sans',sans-serif">A</text>
<text x="360.42" y="2054" font-size="10.5" text-anchor="middle" fill="#5b78c8" font-family="'Liberation Sans',sans-serif">C</text>
<text x="377.55" y="2054" font-size="10.5" text-anchor="middle" fill="#222" font-family="'Liberation Sans',sans-serif">G</text>
<text x="394.68" y="2054" font-size="10.5" text-anchor="middle" fill="#5b78c8" font-family="'Liberation Sans',sans-serif">C</text>
<text x="411.81" y="2054" font-size="10.5" text-anchor="middle" fill="#5b78c8" font-family="'Liberation Sans',sans-serif">C</text>
<text x="428.94" y="2054" font-size="10.5" text-anchor="middle" fill="#222" font-family="'Liberation Sans',sans-serif">G</text>
<text x="446.07" y="2054" font-size="10.5" text-anchor="middle" fill="#e0524a" font-family="'Liberation Sans',sans-serif">T</text>
<text x="463.2" y="2054" font-size="10.5" text-anchor="middle" fill="#222" font-family="'Liberation Sans',sans-serif">G</text>
<text x="480.33" y="2054" font-size="10.5" text-anchor="middle" fill="#222" font-family="'Liberation Sans',sans-serif">G</text>
<text x="497.46" y="2054" font-size="10.5" text-anchor="middle" fill="#222" font-family="'Liberation Sans',sans-serif">G</text>
<text x="514.59" y="2054" font-size="10.5" text-anchor="middle" fill="#5b78c8" font-family="'Liberation Sans',sans-serif">C</text>
<text x="531.72" y="2054" font-size="10.5" text-anchor="middle" fill="#5b78c8" font-family="'Liberation Sans',sans-serif">C</text>
<text x="548.85" y="2054" font-size="10.5" text-anchor="middle" fill="#222" font-family="'Liberation Sans',sans-serif">G</text>
<text x="565.98" y="2054" font-size="10.5" text-anchor="middle" fill="#222" font-family="'Liberation Sans',sans-serif">G</text>
<text x="583.12" y="2054" font-size="10.5" text-anchor="middle" fill="#222" font-family="'Liberation Sans',sans-serif">G</text>
<text x="600.25" y="2054" font-size="10.5" text-anchor="middle" fill="#e0524a" font-family="'Liberation Sans',sans-serif">T</text>
<text x="617.38" y="2054" font-size="10.5" text-anchor="middle" fill="#47b04f" font-family="'Liberation Sans',sans-serif">A</text>
<text x="634.51" y="2054" font-size="10.5" text-anchor="middle" fill="#5b78c8" font-family="'Liberation Sans',sans-serif">C</text>
<text x="651.64" y="2054" font-size="10.5" text-anchor="middle" fill="#47b04f" font-family="'Liberation Sans',sans-serif">A</text>
<text x="668.77" y="2054" font-size="10.5" text-anchor="middle" fill="#222" font-family="'Liberation Sans',sans-serif">G</text>
<text x="685.9" y="2054" font-size="10.5" text-anchor="middle" fill="#222" font-family="'Liberation Sans',sans-serif">G</text>
<text x="703.03" y="2054" font-size="10.5" text-anchor="middle" fill="#222" font-family="'Liberation Sans',sans-serif">G</text>
<text x="720.16" y="2054" font-size="10.5" text-anchor="middle" fill="#5b78c8" font-family="'Liberation Sans',sans-serif">C</text>
<text x="737.29" y="2054" font-size="10.5" text-anchor="middle" fill="#e0524a" font-family="'Liberation Sans',sans-serif">T</text>
<rect x="748.62" y="2042" width="11.6" height="15.6" fill="#f3e53f" stroke="#b5a92a" stroke-width="0.8"/>
<text x="754.42" y="2054" font-size="10.5" text-anchor="middle" fill="#111" font-family="'Liberation Sans',sans-serif">N</text>
<text x="771.55" y="2054" font-size="10.5" text-anchor="middle" fill="#222" font-family="'Liberation Sans',sans-serif">G</text>
<text x="788.68" y="2054" font-size="10.5" text-anchor="middle" fill="#222" font-family="'Liberation Sans',sans-serif">G</text>
<text x="805.82" y="2054" font-size="10.5" text-anchor="middle" fill="#5b78c8" font-family="'Liberation Sans',sans-serif">C</text>
<text x="822.95" y="2054" font-size="10.5" text-anchor="middle" fill="#47b04f" font-family="'Liberation Sans',sans-serif">A</text>
<text x="840.08" y="2054" font-size="10.5" text-anchor="middle" fill="#5b78c8" font-family="'Liberation Sans',sans-serif">C</text>
<text x="857.21" y="2054" font-size="10.5" text-anchor="middle" fill="#e0524a" font-family="'Liberation Sans',sans-serif">T</text>
<text x="874.34" y="2054" font-size="10.5" text-anchor="middle" fill="#222" font-family="'Liberation Sans',sans-serif">G</text>
<text x="891.47" y="2054" font-size="10.5" text-anchor="middle" fill="#47b04f" font-family="'Liberation Sans',sans-serif">A</text>
<text x="908.6" y="2054" font-size="10.5" text-anchor="middle" fill="#5b78c8" font-family="'Liberation Sans',sans-serif">C</text>
<text x="240.5" y="2153.7" font-size="7.5" text-anchor="middle" fill="#9a9a9a" letter-spacing="1">1</text>
<text x="394.68" y="2153.7" font-size="7.5" text-anchor="middle" fill="#9a9a9a" letter-spacing="1">10</text>
<text x="565.98" y="2153.7" font-size="7.5" text-anchor="middle" fill="#9a9a9a" letter-spacing="1">20</text>
<text x="737.29" y="2153.7" font-size="7.5" text-anchor="middle" fill="#9a9a9a" letter-spacing="1">30</text>
<text x="908.6" y="2153.7" font-size="7.5" text-anchor="middle" fill="#9a9a9a" letter-spacing="1">40</text>
<rect x="747.5" y="2036.8" width="20.7" height="125.1" fill="none" stroke="#111" stroke-width="2.2"/>
<rect x="1.2" y="2190.2" width="933.3" height="292.8" fill="none" stroke="#555" stroke-width="1.3"/>
<text x="349" y="2219.3" font-size="23.7" font-weight="bold">chr19.1053362_G_A</text>
<text x="13.4" y="2242.3" font-size="21.5" font-style="italic">SM-CTEDS (control)</text>
<text x="13.4" y="2370.8" font-size="21.5" font-style="italic">SM-CJEHW (LoF)</text>
<rect x="234.1" y="2335.1" width="684.9" height="2.6" fill="#c9c9c9"/>
<line x1="396.02" y1="2248.2" x2="396.02" y2="2334.5" stroke="#b5b5b5" stroke-width="0.9" stroke-dasharray="3 2.2"/>
<line x1="566.48" y1="2248.2" x2="566.48" y2="2334.5" stroke="#b5b5b5" stroke-width="0.9" stroke-dasharray="3 2.2"/>
<line x1="736.94" y1="2248.2" x2="736.94" y2="2334.5" stroke="#b5b5b5" stroke-width="0.9" stroke-dasharray="3 2.2"/>
<line x1="907.4" y1="2248.2" x2="907.4" y2="2334.5" stroke="#b5b5b5" stroke-width="0.9" stroke-dasharray="3 2.2"/>
<path id="p5C" d="M234.1 2334.1h30.0l1.3-0.4 1.2-0.6 1.3-1.4 1.2-2.7 1.3-4.8 1.2-7.2 1.3-9.3 1.2-9.9 1.3-8.3 1.2-4.3 1.3 0.9 1.2 5.8 1.3 8.9 1.2 9.6 1.3 8.4 1.2 6.2 1.3 4.0 1.2 2.3 1.3 1.1 1.2 0.3 1.3-0.3 1.2-0.7 1.3-0.8 1.2-0.7 1.3-0.3 1.2 0.2 1.3 0.6 1.2 0.8 1.3 0.6 1.2-0.1 1.3-1.2 1.2-3.0 1.3-5.5 1.2-7.9 1.3-9.7 1.2-9.5 1.3-6.8 1.2-1.8 1.3 3.5 1.2 7.5 1.3 9.2 1.2 8.6 1.3 6.4 1.2 3.9 1.3 1.1 1.2-2.0 1.3-5.3 1.2-8.5 1.3-10.2 1.2-9.4 1.3-5.0 1.2 1.2 1.3 7.0 1.2 10.3 1.3 10.1 1.2 7.7 1.3 4.7 1.2 2.1 1.3 0.7 1.2 0.3 1.3 0.3 1.2 0.6 1.3 0.7 1.2 0.7 1.3 0.5 1.2 0.4 1.3 0.2h2.5l1.2-0.5 1.3-1.0 1.2-2.3 1.3-4.3 1.2-6.8 1.3-9.2 1.2-10.2 1.3-8.7 1.2-4.6 1.3 1.1 1.2 6.2 1.3 9.2 1.2 9.3 1.3 7.2 1.2 4.1 1.3 0.9 1.2-2.2 1.3-5.3 1.2-8.1 1.3-9.8 1.2-9.0 1.3-5.2 1.2 1.0 1.3 6.9 1.2 10.4 1.3 10.8 1.2 8.8 1.3 5.8 1.2 3.2 1.3 1.6 1.2 0.6h13.8l1.2-0.7 1.3-1.7 1.2-3.6 1.3-6.3 1.2-9.3 1.3-11.1 1.2-10.3 1.3-6.1 1.2 0.6 1.3 6.8 1.2 10.7 1.3 11.0 1.2 8.7 1.3 5.5 1.2 2.2 1.3-0.7 1.2-4.0 1.3-7.5 1.2-10.7 1.3-12.1 1.2-10.1 1.3-4.6 1.2 2.6 1.3 8.7 1.2 11.8 1.3 11.4 1.2 8.6 1.3 5.5 1.2 2.9 1.3 1.3 1.2 0.6h27.5l1.3-0.2 1.2-0.7 1.3-1.7 1.2-3.6 1.3-6.4 1.2-9.2 1.3-11.1 1.2-10.3 1.3-6.0 1.2 0.3 1.3 6.5 1.2 10.3 1.3 10.6 1.2 8.6 1.3 5.6 1.2 2.4 1.3-0.2 1.2-2.8 1.3-5.6 1.2-8.2 1.3-9.9 1.2-9.6 1.3-6.7 1.2-1.8 1.3 3.8 1.2 8.1 1.3 10.1 1.2 9.6 1.3 7.6 1.2 5.1 1.3 3.0 1.2 1.5 1.3 0.7 1.2 0.3h16.3l1.2-0.5 1.3-0.5 1.2-0.8 1.3-0.9 1.2-0.9 1.3-0.5 1.2-0.1 1.3 0.5 1.2 0.8 1.3 0.9 1.2 0.8 1.3 0.6 1.2 0.4h10.0l1.3-0.2 1.2-0.8 1.3-1.6 1.2-3.3 1.3-5.3 1.2-7.7 1.3-9.5 1.2-9.7 1.3-7.5 1.2-3.1 1.3 2.2 1.2 6.9 1.3 9.5 1.2 9.6 1.3 7.9 1.2 5.2 1.3 2.3 1.2-0.8 1.3-4.2 1.2-7.4 1.3-10.0 1.2-10.4 1.3-7.7 1.2-2.4 1.3 3.8 1.2 8.7 1.3 10.6 1.2 9.6 1.3 6.8 1.2 3.5 1.3 0.1 1.2-3.2 1.3-6.7 1.2-9.5 1.3-10.5 1.2-8.4 1.3-3.5 1.2 2.9 1.3 8.2 1.2 10.5 1.3 9.7 1.2 7.0 1.3 3.8 1.2 0.6 1.3-2.6 1.2-6.2 1.3-9.7 1.2-12.0 1.3-11.2 1.2-6.7 1.3 0.4 1.2 7.3 1.3 11.4 1.2 11.9 1.3 9.6 1.2 6.2 1.3 3.4 1.2 1.6 1.3 0.6h46.2l1.3-0.1 1.2-0.8 1.3-1.7 1.2-3.5 1.3-6.0 1.2-8.7 1.3-10.6 1.2-10.1 1.3-6.8 1.2-1.0 1.3 5.0 1.2 9.3 1.3 10.8 1.2 9.5 1.3 6.9 1.2 4.3 1.3 2.2 1.2 1.0 1.3 0.4h11.2l1.3-0.4 1.2-1.1 1.3-2.5 1.2-5.0 1.3-8.0 1.2-10.7 1.3-11.3 1.2-8.4 1.3-2.3 1.2 4.6 1.3 9.8 1.2 11.4 1.3 9.9 1.2 6.8 1.3 3.5 1.2 0.7 1.3-2.0 1.2-5.1 1.3-8.2 1.2-10.7 1.3-10.9 1.2-7.5 1.3-1.3 1.2 5.4 1.3 10.1 1.2 11.1 1.3 9.2 1.2 5.7 1.3 2.1 1.2-1.3 1.3-4.5 1.2-7.4 1.3-9.7 1.2-10.1 1.3-8.0 1.2-3.6 1.3 2.0 1.2 6.9 1.3 9.8 1.2 10.0 1.3 8.4 1.2 5.9 1.3 3.6 1.2 1.9 1.3 0.9 1.2 0.3h58.8l1.2-0.4 1.3-0.7 1.2-1.2 1.3-2.4 1.2-3.9 1.3-6.1 1.2-8.5 1.3-10.1 1.2-9.6 1.3-6.6 1.2-1.5 1.3 4.2 1.2 8.7 1.3 10.5 1.2 9.9 1.3 7.6 1.2 5.1 1.3 2.8 1.2 1.5 1.3 0.6h67.5V2334.5H234.1Z" fill="#e3e9f6" fill-opacity="0.72" stroke="#4a6ec2" stroke-width="1.7" stroke-linejoin="round"/>
<path id="p5A" d="M234.1 2331.3l1.2-3.2 1.3-5.4 1.2-7.8 1.3-9.7 1.2-9.7 1.3-7.0 1.2-2.4 1.3 3.2 1.2 7.7 1.3 9.8 1.2 9.5 1.3 7.5 1.2 5.0 1.3 2.9 1.2 1.4 1.3 0.6 1.2 0.3h81.3l1.3-0.5 1.2-0.5 1.3-0.6 1.2-0.8 1.3-0.7 1.2-0.4 1.3 0.0 1.2 0.4 1.3 0.8 1.2 0.8 1.3 0.6 1.2 0.5 1.3 0.3h25.0l1.2-0.2 1.3-0.4 1.2-0.7 1.3-0.7 1.2-0.9 1.3-0.8 1.2-1.1 1.3-1.8 1.2-3.1 1.3-4.8 1.2-6.6 1.3-7.2 1.2-6.2 1.3-3.2 1.2 0.8 1.3 4.7 1.2 7.1 1.3 7.7 1.2 6.6 1.3 4.9 1.2 3.0 1.3 1.7 1.2 0.6 1.3 0.2 1.2-0.2 1.3-0.4 1.2-0.3 1.3-0.3 1.2-0.1 1.3 0.2 1.2 0.3 1.3 0.4 1.2 0.4 1.3 0.3h16.2l1.3-0.4 1.2-1.1 1.3-2.5 1.2-4.6 1.3-7.0 1.2-8.6 1.3-8.3 1.2-5.4 1.3-0.3 1.2 4.9 1.3 8.1 1.2 8.7 1.3 7.2 1.2 4.9 1.3 2.7 1.2 1.2 1.3 0.6h51.2l1.3-0.2 1.2-0.4 1.3-0.6 1.2-0.7 1.3-0.8 1.2-0.5 1.3-0.2 1.2 0.3 1.3 0.6 1.2 0.8 1.3 0.7 1.2 0.5 1.3 0.4h157.5l1.2-0.3 1.3-0.5 1.2-0.7 1.3-0.9 1.2-0.9 1.3-0.7 1.2-0.3 1.3-0.1 1.2-0.7 1.3-2.0 1.2-4.3 1.3-7.0 1.2-9.3 1.3-9.3 1.2-6.8 1.3-1.8 1.2 3.8 1.3 8.2 1.2 9.8 1.3 9.1 1.2 6.8 1.3 4.2 1.2 2.3 1.3 1.1 1.2 0.4h45.0l1.3-0.6 1.2-1.1 1.3-2.3 1.2-3.9 1.3-5.8 1.2-7.4 1.3-7.6 1.2-6.2 1.3-2.9 1.2 1.2 1.3 4.7 1.2 6.9 1.3 7.2 1.2 6.2 1.3 4.7 1.2 3.1 1.3 1.9 1.2 1.1 1.3 0.5 1.2 0.3h93.8l1.2-0.4 1.3-0.5 1.2-0.5 1.3-0.5 1.2-0.4 1.3 0.0 1.2 0.2 1.3 0.5 1.2 0.6 1.3 0.4 1.2 0.4 1.3 0.2h2.5l1.2-0.6 1.3-1.1 1.2-2.3 1.3-4.1 1.2-6.3 1.3-8.2 1.2-8.9 1.3-7.4 1.2-3.7 1.3 1.2 1.2 5.7 1.3 8.4 1.2 8.8 1.3 7.4 1.2 5.2 1.3 3.2 1.2 1.7 1.3 0.7V2334.5H234.1Z" fill="#e2f1e3" fill-opacity="0.72" stroke="#3aa845" stroke-width="1.7" stroke-linejoin="round"/>
<path id="p5G" d="M234.1 2334.1h3.7l1.3-0.6 1.2-0.5 1.3-0.6 1.2-0.7 1.3-0.5 1.2-0.3 1.3 0.1 1.2 0.4 1.3 0.5 1.2 0.2 1.3-0.4 1.2-1.3 1.3-2.5 1.2-3.5 1.3-4.2 1.3-3.9 1.2-2.5 1.3-0.3 1.2 1.8 1.3 3.4 1.2 4.0 1.3 3.6 1.2 2.6 1.3 1.6 1.2 0.7 1.3 0.4 1.2 0.3 1.3 0.4 1.2 0.4 1.3 0.5 1.2 0.4 1.3 0.2h5.0l1.2-0.2 1.3-0.2 1.2-0.2 1.3-0.2 1.2 0.0 1.3 0.1 1.2 0.2 1.3 0.2 1.2 0.2 1.3 0.2h83.7l1.3-0.2 1.2-0.2 1.3-0.2 1.2-0.1 1.3-0.1 1.2 0.1 1.3 0.1 1.2 0.2 1.3 0.2 1.2 0.2h13.8l1.2-0.3 1.3-0.3 1.2-0.3 1.3-0.2 1.2-0.1 1.3 0.1 1.2 0.2 1.3 0.3 1.2 0.3 1.3 0.2h35.0l1.2-0.4 1.3-0.9 1.2-1.6 1.3-2.5 1.2-3.5 1.3-4.0 1.2-3.8 1.3-2.5 1.2-0.5 1.3 1.7 1.2 3.3 1.3 4.1 1.2 3.8 1.3 2.9 1.2 2.0 1.3 1.2 1.2 0.6 1.3 0.2h16.2l1.3-0.5 1.2-0.6 1.3-0.8 1.2-0.9 1.3-0.8 1.2-0.5 1.3 0.0 1.2 0.6 1.3 0.7 1.2 0.7 1.3 0.2 1.2-0.7 1.3-1.9 1.2-3.4 1.3-4.9 1.2-5.8 1.3-5.4 1.2-3.8 1.3-0.9 1.2 2.2 1.3 4.7 1.2 5.7 1.3 5.6 1.2 4.4 1.3 3.0 1.2 1.7 1.3 0.9 1.2 0.5h10.0l1.3-0.5 1.2-1.1 1.3-2.5 1.2-4.6 1.3-7.6 1.2-10.9 1.3-13.2 1.2-13.1 1.3-9.8 1.2-3.5 1.3 3.8 1.2 10.0 1.3 13.1 1.2 13.2 1.3 10.7 1.2 7.5 1.3 4.5 1.2 2.4 1.3 1.1 1.2 0.5h32.5l1.3-0.3 1.2-0.4 1.3-0.5 1.2-0.7 1.3-0.5 1.2-0.3 1.3 0.0 1.2 0.4 1.3 0.6 1.2 0.6 1.3 0.5 1.2 0.4 1.3 0.2h12.5l1.2-0.3 1.3-0.8 1.2-1.6 1.3-3.1 1.2-4.7 1.3-6.4 1.2-7.0 1.3-5.8 1.2-3.0 1.3 1.0 1.2 4.6 1.3 6.5 1.2 6.8 1.3 5.3 1.2 3.0 1.3 0.5 1.2-2.4 1.3-5.4 1.2-8.0 1.3-9.5 1.2-8.8 1.3-5.7 1.2-0.6 1.3 4.7 1.2 8.4 1.3 9.6 1.2 8.5 1.3 6.0 1.2 3.1 1.3-0.2 1.2-3.8 1.3-8.1 1.2-12.4 1.3-15.1 1.2-14.4 1.3-9.2 1.2-0.6 1.3 8.1 1.2 14.0 1.3 15.4 1.2 13.0 1.3 9.0 1.2 5.3 1.3 2.6 1.2 1.1 1.3 0.4h8.7l1.3-0.4 1.2-0.5 1.3-0.6 1.2-0.6 1.3-0.5 1.2-0.2 1.3 0.2 1.2 0.5 1.3 0.6 1.2 0.6 1.3 0.5 1.2 0.3h26.3l1.2-0.1 1.3-0.5 1.2-0.6 1.3-0.9 1.2-0.9 1.3-0.6 1.2-0.2 1.3 0.3 1.2 0.7 1.3 0.8 1.2 0.9 1.3 0.6 1.2 0.4 1.3 0.2h27.5l1.2-0.2 1.3-0.6 1.2-1.1 1.3-2.0 1.2-3.1 1.3-4.1 1.2-4.8 1.3-4.4 1.2-2.9 1.3-0.6 1.2 2.1 1.3 4.1 1.2 4.9 1.3 4.7 1.2 3.5 1.3 2.3 1.2 1.4 1.3 0.6 1.2 0.3h10.0l1.3-0.4 1.2-0.9 1.3-2.0 1.2-3.7 1.3-6.3 1.2-9.2 1.3-11.5 1.2-11.8 1.3-9.3 1.2-4.2 1.3 2.3 1.2 8.0 1.3 11.4 1.2 11.9 1.3 10.0 1.2 7.1 1.3 4.4 1.2 2.4 1.3 1.2 1.2 0.4h27.5l1.3-0.2 1.2-0.9 1.3-2.1 1.2-4.0 1.3-6.6 1.2-9.0 1.3-10.1 1.2-8.6 1.3-4.2 1.2 1.4 1.3 6.6 1.2 9.3 1.3 9.1 1.2 7.2 1.3 4.7 1.2 2.8 1.3 1.7 1.2 1.1 1.3 0.8 1.2 0.5 1.3 0.4 1.2 0.2h18.8l1.2-0.4 1.3-0.5 1.2-0.5 1.3-0.6 1.2-0.4 1.3-0.1 1.2 0.2 1.3 0.5V2334.5H234.1Z" fill="#dcdcdc" fill-opacity="0.72" stroke="#111111" stroke-width="1.7" stroke-linejoin="round"/>
<path id="p5T" d="M234.1 2334.0h1.2l1.3-0.3 1.2-0.3 1.3-0.3 1.2-0.2 1.3-0.2 1.2 0.0 1.3 0.2 1.2 0.2 1.3 0.3 1.2 0.3 1.3 0.2h32.5l1.3-0.5 1.2-1.1 1.3-2.5 1.2-4.8 1.3-7.7 1.2-10.6 1.3-11.8 1.2-10.2 1.3-5.6 1.2 0.9 1.3 6.9 1.2 10.4 1.3 11.0 1.2 9.3 1.3 6.8 1.2 4.3 1.3 2.5 1.2 1.3 1.3 0.5 1.2 0.0 1.3-0.2 1.2-0.3 1.3-0.3 1.2-0.1 1.3 0.2 1.2 0.4 1.3 0.4 1.2 0.4 1.3 0.3h16.2l1.3-0.6 1.2-1.5 1.3-3.1 1.2-5.6 1.3-8.3 1.2-10.2 1.3-9.9 1.2-6.4 1.3-0.6 1.2 5.5 1.3 9.4 1.2 10.4 1.3 8.7 1.2 5.9 1.3 3.3 1.2 1.4 1.3 0.4 1.2 0.0 1.3-0.1 1.2 0.1 1.3 0.2 1.2 0.3 1.3 0.4 1.2 0.2 1.3 0.2h25.0l1.2-0.4 1.3-0.4 1.2-0.5 1.3-0.6 1.2-0.4 1.3-0.2 1.2 0.2 1.3 0.5 1.2 0.5 1.3 0.6 1.2 0.4 1.3 0.2h56.2l1.3-0.3 1.2-0.4 1.3-0.4 1.2-0.4 1.3-0.2 1.2 0.0 1.3 0.3 1.2 0.4 1.3 0.4 1.2 0.4 1.3 0.2h12.5l1.2-0.4 1.3-0.5 1.2-0.6 1.3-0.5 1.2-0.5 1.3 0.0 1.2 0.2 1.3 0.5 1.2 0.6 1.3 0.6 1.2 0.4 1.3 0.3h17.5l1.2-0.3 1.3-0.7 1.2-1.8 1.3-3.3 1.2-5.5 1.3-7.7 1.2-9.1 1.3-8.6 1.2-5.6 1.3-0.9 1.2 4.2 1.3 7.9 1.2 9.2 1.3 8.3 1.2 6.3 1.3 3.9 1.2 2.2 1.3 1.0 1.2 0.5h27.5l1.3-0.2 1.2-0.4 1.3-0.5 1.2-0.5 1.3-0.5 1.2-0.3 1.3 0.1 1.2 0.3 1.3 0.5 1.2 0.6 1.3 0.4 1.2 0.4h62.5l1.3-0.3 1.2-0.5 1.3-0.5 1.2-0.5 1.3-0.3 1.2-0.1 1.3 0.3 1.2 0.4 1.3 0.6 1.2 0.5 1.3 0.3 1.2 0.2h128.8l1.2-0.4 1.3-1.0 1.2-2.3 1.3-4.2 1.2-7.1 1.3-10.0 1.2-11.5 1.3-10.0 1.2-5.1 1.3 1.9 1.2 8.2 1.3 11.5 1.2 11.2 1.3 8.7 1.2 5.5 1.3 2.8 1.2 1.3 1.3 0.5h3.7l1.3-0.2 1.2-0.4 1.3-0.6 1.2-0.7 1.3-0.7 1.2-0.5 1.3-0.1 1.2 0.3 1.3 0.6 1.2 0.7 1.3 0.7 1.2 0.5 1.3 0.3h8.7l1.3-0.2 1.2-0.7 1.3-1.7 1.2-3.3 1.3-5.6 1.2-8.1 1.3-10.2 1.2-10.7 1.3-8.8 1.2-4.4 1.3 1.1 1.2 6.4 1.3 9.5 1.2 10.5 1.3 9.2 1.2 7.0 1.3 4.6 1.2 2.5 1.3 1.0 1.2 0.2 1.3-0.4 1.2-0.4 1.3-0.1 1.2 0.1 1.3 0.5 1.2 0.6 1.3 0.5 1.2 0.2 1.3-0.4 1.2-1.3 1.3-2.9 1.2-5.0 1.3-7.5 1.2-9.3 1.3-9.5 1.2-7.3 1.3-2.8 1.2 2.5 1.3 7.0 1.2 9.3 1.3 9.2 1.2 7.1 1.3 4.6 1.2 2.4 1.3 1.0 1.2 0.5 1.3 0.3 1.2 0.6 1.3 0.6 1.2 0.7 1.3 0.5 1.2 0.3 1.3 0.2h7.5V2334.5H234.1Z" fill="#f8e1df" fill-opacity="0.72" stroke="#de4234" stroke-width="1.7" stroke-linejoin="round"/>
<text x="242.6" y="2244" font-size="10.5" text-anchor="middle" fill="#47b04f" font-family="'Liberation Sans',sans-serif">A</text>
<text x="259.65" y="2244" font-size="10.5" text-anchor="middle" fill="#222" font-family="'Liberation Sans',sans-serif">G</text>
<text x="276.69" y="2244" font-size="10.5" text-anchor="middle" fill="#5b78c8" font-family="'Liberation Sans',sans-serif">C</text>
<text x="293.74" y="2244" font-size="10.5" text-anchor="middle" fill="#e0524a" font-family="'Liberation Sans',sans-serif">T</text>
<text x="310.78" y="2244" font-size="10.5" text-anchor="middle" fill="#5b78c8" font-family="'Liberation Sans',sans-serif">C</text>
<text x="327.83" y="2244" font-size="10.5" text-anchor="middle" fill="#5b78c8" font-family="'Liberation Sans',sans-serif">C</text>
<text x="344.88" y="2244" font-size="10.5" text-anchor="middle" fill="#e0524a" font-family="'Liberation Sans',sans-serif">T</text>
<text x="361.92" y="2244" font-size="10.5" text-anchor="middle" fill="#5b78c8" font-family="'Liberation Sans',sans-serif">C</text>
<text x="378.97" y="2244" font-size="10.5" text-anchor="middle" fill="#5b78c8" font-family="'Liberation Sans',sans-serif">C</text>
<text x="396.02" y="2244" font-size="10.5" text-anchor="middle" fill="#47b04f" font-family="'Liberation Sans',sans-serif">A</text>
<text x="413.06" y="2244" font-size="10.5" text-anchor="middle" fill="#5b78c8" font-family="'Liberation Sans',sans-serif">C</text>
<text x="430.11" y="2244" font-size="10.5" text-anchor="middle" fill="#5b78c8" font-family="'Liberation Sans',sans-serif">C</text>
<text x="447.15" y="2244" font-size="10.5" text-anchor="middle" fill="#47b04f" font-family="'Liberation Sans',sans-serif">A</text>
<text x="464.2" y="2244" font-size="10.5" text-anchor="middle" fill="#222" font-family="'Liberation Sans',sans-serif">G</text>
<text x="481.25" y="2244" font-size="10.5" text-anchor="middle" fill="#5b78c8" font-family="'Liberation Sans',sans-serif">C</text>
<text x="498.29" y="2244" font-size="10.5" text-anchor="middle" fill="#5b78c8" font-family="'Liberation Sans',sans-serif">C</text>
<text x="515.34" y="2244" font-size="10.5" text-anchor="middle" fill="#222" font-family="'Liberation Sans',sans-serif">G</text>
<text x="532.38" y="2244" font-size="10.5" text-anchor="middle" fill="#e0524a" font-family="'Liberation Sans',sans-serif">T</text>
<text x="549.43" y="2244" font-size="10.5" text-anchor="middle" fill="#222" font-family="'Liberation Sans',sans-serif">G</text>
<text x="566.48" y="2244" font-size="10.5" text-anchor="middle" fill="#5b78c8" font-family="'Liberation Sans',sans-serif">C</text>
<text x="583.52" y="2244" font-size="10.5" text-anchor="middle" fill="#5b78c8" font-family="'Liberation Sans',sans-serif">C</text>
<text x="600.57" y="2244" font-size="10.5" text-anchor="middle" fill="#5b78c8" font-family="'Liberation Sans',sans-serif">C</text>
<text x="617.62" y="2244" font-size="10.5" text-anchor="middle" fill="#5b78c8" font-family="'Liberation Sans',sans-serif">C</text>
<text x="634.66" y="2244" font-size="10.5" text-anchor="middle" fill="#222" font-family="'Liberation Sans',sans-serif">G</text>
<text x="651.71" y="2244" font-size="10.5" text-anchor="middle" fill="#222" font-family="'Liberation Sans',sans-serif">G</text>
<text x="668.75" y="2244" font-size="10.5" text-anchor="middle" fill="#222" font-family="'Liberation Sans',sans-serif">G</text>
<text x="685.8" y="2244" font-size="10.5" text-anchor="middle" fill="#5b78c8" font-family="'Liberation Sans',sans-serif">C</text>
<text x="702.85" y="2244" font-size="10.5" text-anchor="middle" fill="#47b04f" font-family="'Liberation Sans',sans-serif">A</text>
<text x="719.89" y="2244" font-size="10.5" text-anchor="middle" fill="#5b78c8" font-family="'Liberation Sans',sans-serif">C</text>
<text x="736.94" y="2244" font-size="10.5" text-anchor="middle" fill="#5b78c8" font-family="'Liberation Sans',sans-serif">C</text>
<text x="753.98" y="2244" font-size="10.5" text-anchor="middle" fill="#5b78c8" font-family="'Liberation Sans',sans-serif">C</text>
<text x="771.03" y="2244" font-size="10.5" text-anchor="middle" fill="#47b04f" font-family="'Liberation Sans',sans-serif">A</text>
<text x="788.08" y="2244" font-size="10.5" text-anchor="middle" fill="#222" font-family="'Liberation Sans',sans-serif">G</text>
<text x="805.12" y="2244" font-size="10.5" text-anchor="middle" fill="#e0524a" font-family="'Liberation Sans',sans-serif">T</text>
<text x="822.17" y="2244" font-size="10.5" text-anchor="middle" fill="#222" font-family="'Liberation Sans',sans-serif">G</text>
<text x="839.22" y="2244" font-size="10.5" text-anchor="middle" fill="#5b78c8" font-family="'Liberation Sans',sans-serif">C</text>
<text x="856.26" y="2244" font-size="10.5" text-anchor="middle" fill="#e0524a" font-family="'Liberation Sans',sans-serif">T</text>
<text x="873.31" y="2244" font-size="10.5" text-anchor="middle" fill="#222" font-family="'Liberation Sans',sans-serif">G</text>
<text x="890.35" y="2244" font-size="10.5" text-anchor="middle" fill="#e0524a" font-family="'Liberation Sans',sans-serif">T</text>
<text x="907.4" y="2244" font-size="10.5" text-anchor="middle" fill="#47b04f" font-family="'Liberation Sans',sans-serif">A</text>
<text x="242.6" y="2345" font-size="7.5" text-anchor="middle" fill="#9a9a9a" letter-spacing="1">1</text>
<text x="396.02" y="2345" font-size="7.5" text-anchor="middle" fill="#9a9a9a" letter-spacing="1">10</text>
<text x="566.48" y="2345" font-size="7.5" text-anchor="middle" fill="#9a9a9a" letter-spacing="1">20</text>
<text x="736.94" y="2345" font-size="7.5" text-anchor="middle" fill="#9a9a9a" letter-spacing="1">30</text>
<text x="907.4" y="2345" font-size="7.5" text-anchor="middle" fill="#9a9a9a" letter-spacing="1">40</text>
<rect x="232" y="2462.9" width="687" height="2.6" fill="#c9c9c9"/>
<line x1="394.4" y1="2374.6" x2="394.4" y2="2462.3" stroke="#b5b5b5" stroke-width="0.9" stroke-dasharray="3 2.2"/>
<line x1="565.4" y1="2374.6" x2="565.4" y2="2462.3" stroke="#b5b5b5" stroke-width="0.9" stroke-dasharray="3 2.2"/>
<line x1="736.4" y1="2374.6" x2="736.4" y2="2462.3" stroke="#b5b5b5" stroke-width="0.9" stroke-dasharray="3 2.2"/>
<line x1="907.4" y1="2374.6" x2="907.4" y2="2462.3" stroke="#b5b5b5" stroke-width="0.9" stroke-dasharray="3 2.2"/>
<path id="p6C" d="M232.0 2461.9h30.0l1.2-0.4 1.3-0.6 1.3-1.4 1.2-2.8 1.2-4.5 1.3-6.5 1.3-7.7 1.2-7.3 1.2-4.8 1.3-0.8 1.3 3.5 1.2 6.6 1.2 7.8 1.3 7.0 1.3 5.3 1.2 3.4 1.2 1.8 1.3 0.9 1.3 0.3h11.2l1.2-0.3 1.3-0.8 1.3-1.7 1.2-3.1 1.2-4.7 1.3-6.4 1.3-7.0 1.2-6.1 1.2-3.4 1.3 0.4 1.3 4.1 1.2 6.4 1.2 6.9 1.3 5.9 1.3 3.8 1.2 1.6 1.2-0.8 1.3-3.2 1.3-5.4 1.2-6.8 1.2-7.0 1.3-5.3 1.3-1.9 1.2 2.1 1.2 5.3 1.3 7.1 1.3 6.9 1.2 5.6 1.2 3.8 1.3 2.2 1.3 1.2 1.2 0.5h11.2l1.3-0.1 1.3-0.7 1.2-1.5 1.2-2.8 1.3-4.6 1.3-6.4 1.2-7.5 1.2-6.9 1.3-4.4 1.3-0.4 1.2 3.6 1.2 6.6 1.3 7.5 1.3 6.5 1.2 4.6 1.2 2.0 1.3-0.5 1.3-3.2 1.2-5.6 1.2-7.4 1.3-7.7 1.3-5.8 1.2-2.0 1.2 2.5 1.3 6.1 1.3 7.8 1.2 7.4 1.2 5.8 1.3 3.7 1.3 2.1 1.2 1.0 1.2 0.4h12.6l1.2-0.7 1.2-1.2 1.3-2.4 1.3-4.2 1.2-6.1 1.2-7.5 1.3-7.5 1.3-5.5 1.2-1.7 1.2 2.7 1.3 6.0 1.3 7.7 1.2 7.2 1.2 5.5 1.3 3.3 1.3 0.9 1.2-1.5 1.2-4.0 1.3-6.5 1.3-8.1 1.2-7.9 1.2-5.3 1.3-0.9 1.3 3.7 1.2 7.0 1.2 8.1 1.3 7.2 1.3 5.3 1.2 3.3 1.2 1.8 1.3 0.9 1.3 0.4h25.0l1.2-0.3 1.2-0.4 1.3-0.6 1.3-1.1 1.2-2.1 1.2-3.7 1.3-5.7 1.3-7.7 1.2-8.1 1.2-6.2 1.3-2.1 1.3 3.0 1.2 7.0 1.2 8.5 1.3 7.7 1.3 5.5 1.2 3.2 1.2 0.9 1.3-1.0 1.3-3.1 1.2-5.5 1.2-7.6 1.3-8.3 1.3-7.0 1.2-3.1 1.2 1.9 1.3 6.1 1.3 8.3 1.2 7.9 1.2 6.2 1.3 3.9 1.3 2.1 1.2 1.0 1.2 0.4h13.8l1.2-0.3 1.3-0.5 1.3-0.7 1.2-0.9 1.2-0.9 1.3-0.6 1.3-0.1 1.2 0.4 1.2 0.7 1.3 0.9 1.3 0.8 1.2 0.6 1.2 0.3 1.3-0.1 1.3-0.3 1.2-0.7 1.2-0.8 1.3-0.8 1.3-0.7 1.2-0.2 1.2 0.3 1.3 0.7 1.3 0.9 1.2 0.8 1.2 0.6 1.3 0.2 1.3-0.1 1.2-0.9 1.2-2.0 1.3-3.6 1.3-5.8 1.2-7.5 1.2-8.1 1.3-6.5 1.3-2.9 1.2 1.9 1.2 5.8 1.3 7.9 1.3 7.7 1.2 5.9 1.2 3.3 1.3 0.6 1.3-2.2 1.2-4.8 1.2-7.0 1.3-8.2 1.3-7.5 1.2-4.4 1.2-0.1 1.3 4.5 1.3 7.3 1.2 8.2 1.2 7.1 1.3 4.7 1.3 2.1 1.2-0.5 1.2-3.1 1.3-5.5 1.3-7.1 1.2-7.7 1.2-6.2 1.3-3.2 1.3 0.9 1.2 4.7 1.2 7.1 1.3 7.6 1.3 6.5 1.2 4.2 1.2 1.6 1.3-1.4 1.3-4.4 1.2-6.9 1.2-8.2 1.3-7.1 1.3-3.9 1.2 1.0 1.2 5.4 1.3 7.9 1.3 8.1 1.2 6.6 1.2 4.4 1.3 2.4 1.3 1.2 1.2 0.4 1.2 0.0 1.3-0.3 1.3-0.5 1.2-0.8 1.2-1.0 1.3-0.8 1.3-0.5 1.2 0.0 1.2 0.5 1.3 0.9 1.3 0.9 1.2 0.8 1.2 0.6 1.3 0.3h28.7l1.3-0.4 1.3-1.1 1.2-2.3 1.2-4.0 1.3-6.2 1.3-7.9 1.2-8.3 1.2-6.6 1.3-2.9 1.3 1.9 1.2 5.9 1.2 8.1 1.3 8.2 1.3 6.5 1.2 4.4 1.2 2.5 1.3 1.0 1.3 0.1 1.2-0.3 1.2-0.5 1.3-0.4 1.3-0.1 1.2 0.2 1.2 0.5 1.3 0.6 1.3 0.5 1.2 0.4 1.2 0.1 1.3-0.2 1.3-0.9 1.2-2.0 1.2-4.0 1.3-6.3 1.3-8.3 1.2-8.7 1.2-6.4 1.3-1.7 1.3 3.5 1.2 7.5 1.2 8.8 1.3 7.7 1.3 5.4 1.2 2.9 1.2 0.8 1.3-1.0 1.3-2.6 1.2-4.1 1.2-5.0 1.3-4.7 1.3-2.9 1.2-0.2 1.2 2.7 1.3 4.3 1.3 4.5 1.2 3.5 1.2 1.7 1.3-0.2 1.3-2.0 1.2-3.9 1.2-5.9 1.3-7.2 1.3-7.1 1.2-5.2 1.2-1.7 1.3 2.5 1.3 5.9 1.2 7.5 1.2 7.0 1.3 5.4 1.3 3.4 1.2 1.9 1.2 1.1 1.3 0.8 1.3 0.9 1.2 0.9 1.2 0.8 1.3 0.5 1.3 0.4h12.4l1.3-0.1 1.3-0.3 1.2-0.4 1.2-0.5 1.3-0.4 1.3-0.2 1.2 0.0 1.2 0.3 1.3 0.4 1.3 0.5 1.2 0.4 1.2 0.3h27.6l1.2-0.4 1.2-0.7 1.3-1.4 1.3-2.5 1.2-3.8 1.2-5.8 1.3-7.4 1.3-8.2 1.2-7.2 1.2-3.8 1.3 0.9 1.3 5.5 1.2 8.4 1.2 8.9 1.3 7.3 1.3 5.1 1.2 3.0 1.2 1.4 1.3 0.7h68.7V2462.3H232.0Z" fill="#e3e9f6" fill-opacity="0.72" stroke="#4a6ec2" stroke-width="1.7" stroke-linejoin="round"/>
<path id="p6A" d="M232.0 2460.1l1.2-2.1 1.3-3.6 1.3-5.4 1.2-6.6 1.2-6.9 1.3-5.4 1.3-2.2 1.2 1.6 1.2 5.0 1.3 6.7 1.3 6.8 1.2 5.6 1.2 3.9 1.3 2.3 1.3 1.2 1.2 0.6h13.8l1.2-0.1 1.2-0.3 1.3-0.3 1.3-0.3 1.2-0.2 1.2 0.0 1.3 0.2 1.3 0.3 1.2 0.3 1.2 0.3 1.3 0.2h42.5l1.2-0.3 1.3-0.3 1.3-0.3 1.2-0.2 1.2 0.0 1.3 0.1 1.3 0.2 1.2 0.3 1.2 0.2 1.3 0.2h3.7l1.3-0.3 1.3-0.5 1.2-0.5 1.2-0.6 1.3-0.3 1.3-0.1 1.2 0.2 1.2 0.5 1.3 0.6 1.3 0.5 1.2 0.4 1.2 0.2h31.3l1.3-0.5 1.2-1.2 1.2-2.2 1.3-3.6 1.3-5.1 1.2-5.8 1.2-4.9 1.3-2.4 1.3 1.0 1.2 4.0 1.2 5.6 1.3 5.5 1.3 4.4 1.2 2.8 1.2 1.5 1.3 0.7 1.3 0.3h5.0l1.2-0.4 1.2-0.3 1.3-0.2 1.3-0.2 1.2-0.1 1.2 0.1 1.3 0.2 1.3 0.3 1.2 0.3 1.2 0.2h10.0l1.3-0.2 1.3-0.5 1.2-1.2 1.2-2.3 1.3-3.5 1.3-4.9 1.2-5.5 1.2-5.1 1.3-3.1 1.3-0.2 1.2 2.8 1.2 4.8 1.3 5.6 1.3 5.0 1.2 3.7 1.2 2.4 1.3 1.3 1.3 0.7 1.2 0.3h90.0l1.2-0.4 1.3-0.5 1.3-0.7 1.2-0.9 1.2-0.9 1.3-0.5 1.3-0.2 1.2 0.4 1.2 0.8 1.3 0.9 1.3 0.8 1.2 0.6 1.2 0.4h51.3l1.3-0.3 1.2-0.2 1.2-0.3 1.3-0.1 1.3 0.0 1.2 0.1 1.2 0.3 1.3 0.2 1.3 0.3h42.4l1.3-0.1 1.3-0.2 1.2-0.3 1.2-0.2 1.3-0.2 1.3 0.0 1.2 0.2 1.2 0.3 1.3 0.2 1.3 0.3h10.0l1.2-0.1 1.2-0.7 1.3-1.6 1.3-3.2 1.2-5.0 1.2-6.9 1.3-7.3 1.3-5.9 1.2-2.2 1.2 2.0 1.3 5.5 1.3 6.9 1.2 6.2 1.2 4.6 1.3 2.9 1.3 1.6 1.2 1.1 1.2 0.8 1.3 0.6 1.3 0.4 1.2 0.3h5.0l1.2-0.4 1.3-0.5 1.3-0.8 1.2-0.8 1.2-0.7 1.3-0.3 1.3 0.1 1.2 0.6 1.2 0.7 1.3 0.9 1.3 0.6 1.2 0.4 1.2 0.3h22.6l1.2-0.5 1.2-1.0 1.3-2.2 1.3-3.8 1.2-5.3 1.2-6.0 1.3-4.9 1.3-2.1 1.2 1.6 1.2 4.6 1.3 5.8 1.3 5.3 1.2 3.7 1.2 1.9 1.3 0.7 1.3 0.1 1.2 0.0 1.2 0.0 1.3 0.4 1.3 0.4 1.2 0.5 1.2 0.4 1.3 0.3h15.0l1.3-0.2 1.2-0.5 1.2-0.6 1.3-0.8 1.3-0.8 1.2-0.4 1.2 0.0 1.3 0.4 1.3 0.7 1.2 0.8 1.2 0.7 1.3 0.4 1.3 0.3h20.0l1.2-0.1 1.2-0.4 1.3-0.6 1.3-0.7 1.2-0.7 1.2-0.6 1.3-0.2 1.3 0.3 1.2 0.6 1.2 0.8 1.3 0.7 1.3 0.5 1.2 0.4h8.8l1.2-0.1 1.2-0.3 1.3-0.5 1.3-0.5 1.2-0.5 1.2-0.4 1.3 0.0 1.3 0.3 1.2 0.5 1.2 0.6 1.3 0.5 1.3 0.3 1.2 0.2h11.2l1.3-0.4 1.3-0.5 1.2-0.7 1.2-0.9 1.3-1.3 1.3-1.9 1.2-3.1 1.2-4.7 1.3-6.0 1.3-6.2 1.2-4.4 1.2-0.9 1.3 3.1 1.3 5.9 1.2 7.0 1.2 6.1 1.3 4.3 1.3 2.6 1.2 1.3 1.2 0.6V2462.3H232.0Z" fill="#e2f1e3" fill-opacity="0.72" stroke="#3aa845" stroke-width="1.7" stroke-linejoin="round"/>
<path id="p6G" d="M232.0 2461.8h2.5l1.3-0.4 1.2-0.3 1.2-0.3 1.3-0.3 1.3-0.1 1.2 0.0 1.2 0.2 1.3 0.1 1.3 0.0 1.2-0.3 1.2-0.6 1.3-1.0 1.3-1.4 1.2-1.8 1.2-2.2 1.3-2.4 1.3-2.0 1.2-1.0 1.2 0.5 1.3 2.0 1.3 2.9 1.2 2.9 1.2 2.4 1.3 1.6 1.3 0.9 1.2 0.4h12.5l1.3-0.2 1.2-0.4 1.2-0.6 1.3-0.6 1.3-0.6 1.2-0.3 1.2 0.1 1.3 0.4 1.3 0.6 1.2 0.7 1.2 0.5 1.3 0.3 1.3 0.2h37.4l1.3-0.3 1.3-0.3 1.2-0.4 1.2-0.4 1.3-0.2 1.3 0.0 1.2 0.2 1.2 0.4 1.3 0.3 1.3 0.4 1.2 0.2h53.8l1.2-0.1 1.2-0.3 1.3-0.4 1.3-0.5 1.2-0.5 1.2-0.2 1.3 0.0 1.3 0.3 1.2 0.5 1.2 0.5 1.3 0.4 1.3 0.3h37.4l1.3-0.2 1.3-0.6 1.2-1.2 1.2-1.7 1.3-2.3 1.3-2.3 1.2-1.8 1.2-0.6 1.3 0.8 1.3 1.9 1.2 2.3 1.2 2.2 1.3 1.7 1.3 1.1 1.2 0.6 1.2 0.2h31.3l1.3-0.7 1.2-1.1 1.2-1.9 1.3-3.1 1.3-3.9 1.2-4.2 1.2-3.4 1.3-1.5 1.3 1.0 1.2 3.0 1.2 4.1 1.3 4.1 1.3 3.3 1.2 2.2 1.2 1.3 1.3 0.6 1.3 0.3h10.0l1.2-0.5 1.2-0.8 1.3-1.9 1.3-3.5 1.2-5.8 1.2-8.1 1.3-9.7 1.3-9.5 1.2-6.9 1.2-2.2 1.3 3.2 1.3 7.6 1.2 9.7 1.2 9.5 1.3 7.7 1.3 5.3 1.2 3.2 1.2 1.6 1.3 0.7 1.3 0.3h50.0l1.2-0.2 1.2-0.3 1.3-0.5 1.3-0.5 1.2-0.5 1.2-0.4 1.3-0.2 1.3-0.2 1.2-0.2 1.2-0.4 1.3-0.6 1.3-1.0 1.2-1.5 1.2-2.3 1.3-3.4 1.3-4.2 1.2-4.0 1.2-2.5 1.3 0.2 1.3 2.9 1.2 4.7 1.2 5.0 1.3 4.2 1.3 2.8 1.2 1.2 1.2-0.4 1.3-2.3 1.3-4.3 1.2-6.3 1.2-7.5 1.3-6.5 1.3-3.3 1.2 1.0 1.2 5.0 1.3 7.1 1.3 6.9 1.2 5.3 1.2 3.1 1.3 0.8 1.3-1.7 1.2-4.3 1.2-7.3 1.3-9.7 1.3-10.7 1.2-8.7 1.2-4.0 1.3 2.1 1.3 7.4 1.2 10.3 1.2 10.4 1.3 8.3 1.3 5.5 1.2 3.1 1.2 1.4 1.3 0.3 1.3-0.3 1.2-0.7 1.2-0.8 1.3-0.6 1.3-0.3 1.2 0.3 1.2 0.6 1.3 0.8 1.3 0.7 1.2 0.6 1.2 0.3 1.3 0.1 1.3-0.1 1.2-0.4 1.2-0.6 1.3-0.9 1.3-0.9 1.2-0.7 1.2-0.2 1.3 0.2 1.3 0.7 1.2 0.9 1.2 0.8 1.3 0.6 1.3 0.3 1.2 0.0 1.2-0.4 1.3-0.6 1.3-0.7 1.2-0.7 1.2-0.4 1.3 0.0 1.3 0.5 1.2 0.7 1.2 0.7 1.3 0.6 1.3 0.5 1.2 0.3h22.5l1.3-0.2 1.2-0.3 1.2-0.3 1.3-0.3 1.3-0.1 1.2 0.0 1.2 0.2 1.3 0.3 1.3 0.3 1.2 0.3h10.0l1.2-0.1 1.3-0.2 1.3-0.3 1.2-0.2 1.2-0.2 1.3-0.2 1.3-0.5 1.2-1.0 1.2-1.9 1.3-2.6 1.3-2.8 1.2-2.1 1.2-0.6 1.3 1.2 1.3 2.6 1.2 3.0 1.2 2.6 1.3 1.8 1.3 1.0 1.2 0.5h13.8l1.2-0.2 1.2-0.8 1.3-2.0 1.3-3.6 1.2-5.8 1.2-7.7 1.3-8.3 1.3-6.6 1.2-2.7 1.2 2.3 1.3 6.4 1.3 8.3 1.2 7.8 1.2 6.0 1.3 3.8 1.3 2.0 1.2 0.9 1.2 0.3h28.8l1.2-0.6 1.3-1.2 1.3-2.4 1.2-4.0 1.2-5.8 1.3-6.8 1.3-6.3 1.2-3.9 1.2 0.0 1.3 3.7 1.3 6.3 1.2 6.8 1.2 5.8 1.3 4.1 1.3 2.4 1.2 1.3 1.2 0.5h35.0V2462.3H232.0Z" fill="#dcdcdc" fill-opacity="0.72" stroke="#111111" stroke-width="1.7" stroke-linejoin="round"/>
<path id="p6T" d="M232.0 2461.9h20.0l1.2-0.5 1.3-0.3 1.3-0.4 1.2-0.4 1.2-0.2 1.3-0.1 1.3 0.2 1.2 0.4 1.2 0.4 1.3 0.3 1.3 0.3h13.7l1.3-0.1 1.2-0.7 1.2-1.5 1.3-2.8 1.3-4.7 1.2-6.8 1.2-8.1 1.3-7.9 1.3-5.6 1.2-1.4 1.2 3.1 1.3 6.7 1.3 8.2 1.2 7.8 1.2 6.0 1.3 4.0 1.3 2.2 1.2 1.1 1.2 0.5h28.8l1.2-0.2 1.3-0.8 1.3-1.9 1.2-3.4 1.2-5.4 1.3-7.2 1.3-7.8 1.2-6.3 1.2-2.7 1.3 1.9 1.3 5.7 1.2 7.6 1.2 7.5 1.3 5.8 1.3 3.8 1.2 2.1 1.2 1.0 1.3 0.4h18.7l1.3-0.3 1.3-0.3 1.2-0.2 1.2-0.1 1.3 0.0 1.3 0.1 1.2 0.3 1.2 0.2 1.3 0.2h28.7l1.3-0.2 1.3-0.3 1.2-0.2 1.2-0.1 1.3 0.0 1.3 0.2 1.2 0.2 1.2 0.2 1.3 0.2h61.3l1.2-0.2 1.2-0.2 1.3-0.2 1.3-0.1 1.2 0.0 1.2 0.1 1.3 0.2 1.3 0.2 1.2 0.1 1.2 0.0 1.3-0.3 1.3-0.5 1.2-0.7 1.2-0.9 1.3-0.7 1.3-0.4 1.2 0.1 1.2 0.5 1.3 0.8 1.3 0.9 1.2 0.6 1.2 0.5 1.3 0.3h5.0l1.3-0.5 1.2-1.1 1.2-2.1 1.3-3.9 1.3-5.9 1.2-7.6 1.2-8.1 1.3-6.4 1.3-2.9 1.2 1.7 1.2 5.6 1.3 7.8 1.3 7.8 1.2 6.5 1.2 4.3 1.3 2.6 1.3 1.1 1.2 0.4 1.2-0.1 1.3-0.3 1.3-0.2 1.2-0.1 1.2 0.1 1.3 0.2 1.3 0.4 1.2 0.3 1.2 0.3h100.0l1.3-0.1 1.3-0.4 1.2-0.6 1.2-0.8 1.3-0.9 1.3-0.7 1.2-0.3 1.2 0.2 1.3 0.6 1.3 0.9 1.2 0.8 1.2 0.7 1.3 0.4 1.3 0.3h5.0l1.2-0.2 1.2-0.5 1.3-0.6 1.3-0.8 1.2-0.8 1.2-0.6 1.3-0.1 1.3 0.3 1.2 0.7 1.2 0.8 1.3 0.7 1.3 0.6 1.2 0.4h35.0l1.2-0.3 1.3-1.0 1.3-1.8 1.2-3.0 1.2-4.1 1.3-4.6 1.3-3.9 1.2-1.9 1.2 0.8 1.3 3.2 1.3 4.5 1.2 4.5 1.2 3.5 1.3 2.2 1.3 1.3 1.2 0.6h17.5l1.3-0.2 1.2-0.4 1.2-0.6 1.3-0.5 1.3-0.5 1.2-0.2 1.2 0.2 1.3 0.4 1.3 0.6 1.2 0.5 1.2 0.4 1.3 0.3h13.7l1.3-0.6 1.3-1.3 1.2-2.4 1.2-4.1 1.3-6.0 1.3-7.4 1.2-7.6 1.2-5.9 1.3-2.4 1.3 1.8 1.2 5.4 1.2 7.4 1.3 7.6 1.3 6.2 1.2 4.4 1.2 2.7 1.3 1.4 1.3 0.7 1.2 0.3h26.2l1.3-0.4 1.3-0.7 1.2-1.6 1.2-2.9 1.3-4.7 1.3-6.6 1.2-7.9 1.2-7.7 1.3-5.6 1.3-1.8 1.2 2.5 1.2 6.0 1.3 7.9 1.3 7.7 1.2 6.4 1.2 4.4 1.3 2.6 1.3 1.4 1.2 0.7 1.2 0.3h11.3l1.3-0.5 1.2-1.0 1.2-2.1 1.3-3.9 1.3-5.8 1.2-7.5 1.2-7.7 1.3-5.6 1.3-1.8 1.2 2.9 1.2 6.3 1.3 7.8 1.3 7.2 1.2 5.4 1.2 3.3 1.3 1.8 1.3 0.8 1.2 0.3h3.8l1.2-0.3 1.2-0.5 1.3-0.7 1.3-0.9 1.2-0.8 1.2-0.5 1.3-0.1 1.3 0.4 1.2 0.7 1.2 0.9V2462.3H232.0Z" fill="#f8e1df" fill-opacity="0.72" stroke="#de4234" stroke-width="1.7" stroke-linejoin="round"/>
<text x="240.5" y="2370.4" font-size="10.5" text-anchor="middle" fill="#47b04f" font-family="'Liberation Sans',sans-serif">A</text>
<text x="257.6" y="2370.4" font-size="10.5" text-anchor="middle" fill="#222" font-family="'Liberation Sans',sans-serif">G</text>
<text x="274.7" y="2370.4" font-size="10.5" text-anchor="middle" fill="#5b78c8" font-family="'Liberation Sans',sans-serif">C</text>
<text x="291.8" y="2370.4" font-size="10.5" text-anchor="middle" fill="#e0524a" font-family="'Liberation Sans',sans-serif">T</text>
<text x="308.9" y="2370.4" font-size="10.5" text-anchor="middle" fill="#5b78c8" font-family="'Liberation Sans',sans-serif">C</text>
<text x="326" y="2370.4" font-size="10.5" text-anchor="middle" fill="#5b78c8" font-family="'Liberation Sans',sans-serif">C</text>
<text x="343.1" y="2370.4" font-size="10.5" text-anchor="middle" fill="#e0524a" font-family="'Liberation Sans',sans-serif">T</text>
<text x="360.2" y="2370.4" font-size="10.5" text-anchor="middle" fill="#5b78c8" font-family="'Liberation Sans',sans-serif">C</text>
<text x="377.3" y="2370.4" font-size="10.5" text-anchor="middle" fill="#5b78c8" font-family="'Liberation Sans',sans-serif">C</text>
<text x="394.4" y="2370.4" font-size="10.5" text-anchor="middle" fill="#47b04f" font-family="'Liberation Sans',sans-serif">A</text>
<text x="411.5" y="2370.4" font-size="10.5" text-anchor="middle" fill="#5b78c8" font-family="'Liberation Sans',sans-serif">C</text>
<text x="428.6" y="2370.4" font-size="10.5" text-anchor="middle" fill="#5b78c8" font-family="'Liberation Sans',sans-serif">C</text>
<text x="445.7" y="2370.4" font-size="10.5" text-anchor="middle" fill="#47b04f" font-family="'Liberation Sans',sans-serif">A</text>
<text x="462.8" y="2370.4" font-size="10.5" text-anchor="middle" fill="#222" font-family="'Liberation Sans',sans-serif">G</text>
<text x="479.9" y="2370.4" font-size="10.5" text-anchor="middle" fill="#5b78c8" font-family="'Liberation Sans',sans-serif">C</text>
<text x="497" y="2370.4" font-size="10.5" text-anchor="middle" fill="#5b78c8" font-family="'Liberation Sans',sans-serif">C</text>
<text x="514.1" y="2370.4" font-size="10.5" text-anchor="middle" fill="#222" font-family="'Liberation Sans',sans-serif">G</text>
<text x="531.2" y="2370.4" font-size="10.5" text-anchor="middle" fill="#e0524a" font-family="'Liberation Sans',sans-serif">T</text>
<text x="548.3" y="2370.4" font-size="10.5" text-anchor="middle" fill="#222" font-family="'Liberation Sans',sans-serif">G</text>
<text x="565.4" y="2370.4" font-size="10.5" text-anchor="middle" fill="#5b78c8" font-family="'Liberation Sans',sans-serif">C</text>
<text x="582.5" y="2370.4" font-size="10.5" text-anchor="middle" fill="#5b78c8" font-family="'Liberation Sans',sans-serif">C</text>
<text x="599.6" y="2370.4" font-size="10.5" text-anchor="middle" fill="#5b78c8" font-family="'Liberation Sans',sans-serif">C</text>
<text x="616.7" y="2370.4" font-size="10.5" text-anchor="middle" fill="#5b78c8" font-family="'Liberation Sans',sans-serif">C</text>
<text x="633.8" y="2370.4" font-size="10.5" text-anchor="middle" fill="#222" font-family="'Liberation Sans',sans-serif">G</text>
<text x="650.9" y="2370.4" font-size="10.5" text-anchor="middle" fill="#222" font-family="'Liberation Sans',sans-serif">G</text>
<text x="668" y="2370.4" font-size="10.5" text-anchor="middle" fill="#222" font-family="'Liberation Sans',sans-serif">G</text>
<text x="685.1" y="2370.4" font-size="10.5" text-anchor="middle" fill="#5b78c8" font-family="'Liberation Sans',sans-serif">C</text>
<text x="702.2" y="2370.4" font-size="10.5" text-anchor="middle" fill="#47b04f" font-family="'Liberation Sans',sans-serif">A</text>
<text x="719.3" y="2370.4" font-size="10.5" text-anchor="middle" fill="#5b78c8" font-family="'Liberation Sans',sans-serif">C</text>
<rect x="730.6" y="2358.4" width="11.6" height="15.6" fill="#f3e53f" stroke="#b5a92a" stroke-width="0.8"/>
<text x="736.4" y="2370.4" font-size="10.5" text-anchor="middle" fill="#111" font-family="'Liberation Sans',sans-serif">N</text>
<text x="753.5" y="2370.4" font-size="10.5" text-anchor="middle" fill="#5b78c8" font-family="'Liberation Sans',sans-serif">C</text>
<text x="770.6" y="2370.4" font-size="10.5" text-anchor="middle" fill="#47b04f" font-family="'Liberation Sans',sans-serif">A</text>
<text x="787.7" y="2370.4" font-size="10.5" text-anchor="middle" fill="#222" font-family="'Liberation Sans',sans-serif">G</text>
<text x="804.8" y="2370.4" font-size="10.5" text-anchor="middle" fill="#e0524a" font-family="'Liberation Sans',sans-serif">T</text>
<text x="821.9" y="2370.4" font-size="10.5" text-anchor="middle" fill="#222" font-family="'Liberation Sans',sans-serif">G</text>
<text x="839" y="2370.4" font-size="10.5" text-anchor="middle" fill="#5b78c8" font-family="'Liberation Sans',sans-serif">C</text>
<text x="856.1" y="2370.4" font-size="10.5" text-anchor="middle" fill="#e0524a" font-family="'Liberation Sans',sans-serif">T</text>
<text x="873.2" y="2370.4" font-size="10.5" text-anchor="middle" fill="#222" font-family="'Liberation Sans',sans-serif">G</text>
<text x="890.3" y="2370.4" font-size="10.5" text-anchor="middle" fill="#e0524a" font-family="'Liberation Sans',sans-serif">T</text>
<text x="907.4" y="2370.4" font-size="10.5" text-anchor="middle" fill="#47b04f" font-family="'Liberation Sans',sans-serif">A</text>
<text x="240.5" y="2472.8" font-size="7.5" text-anchor="middle" fill="#9a9a9a" letter-spacing="1">1</text>
<text x="394.4" y="2472.8" font-size="7.5" text-anchor="middle" fill="#9a9a9a" letter-spacing="1">10</text>
<text x="565.4" y="2472.8" font-size="7.5" text-anchor="middle" fill="#9a9a9a" letter-spacing="1">20</text>
<text x="736.4" y="2472.8" font-size="7.5" text-anchor="middle" fill="#9a9a9a" letter-spacing="1">30</text>
<text x="907.4" y="2472.8" font-size="7.5" text-anchor="middle" fill="#9a9a9a" letter-spacing="1">40</text>
<rect x="727.3" y="2353.7" width="20.5" height="126.6" fill="none" stroke="#111" stroke-width="2.2"/>
<g fill="#a6cae0" stroke="#fff" stroke-width="0.8"><circle cx="1215.2" cy="1747.1" r="5"/><circle cx="1189.2" cy="1763.1" r="5"/><circle cx="1175.0" cy="1786.6" r="5"/><circle cx="1170.8" cy="1781.1" r="5"/><circle cx="1194.4" cy="1763.2" r="5"/><circle cx="1195.8" cy="1753.8" r="5"/><circle cx="1190.8" cy="1766.2" r="5"/><circle cx="1170.7" cy="1795.7" r="5"/><circle cx="1204.3" cy="1767.5" r="5"/><circle cx="1193.5" cy="1762.4" r="5"/><circle cx="1209.9" cy="1744.5" r="5"/><circle cx="1203.1" cy="1748.8" r="5"/><circle cx="1197.9" cy="1765.5" r="5"/><circle cx="1201.7" cy="1754.1" r="5"/><circle cx="1176.6" cy="1787.6" r="5"/><circle cx="1194.7" cy="1767.2" r="5"/><circle cx="1198.1" cy="1765.7" r="5"/><circle cx="1191.0" cy="1768.0" r="5"/><circle cx="1196.9" cy="1751.1" r="5"/><circle cx="1183.3" cy="1772.4" r="5"/><circle cx="1219.9" cy="1729.9" r="5"/><circle cx="1202.8" cy="1756.3" r="5"/><circle cx="1181.3" cy="1767.2" r="5"/><circle cx="1203.8" cy="1747.6" r="5"/><circle cx="1196.9" cy="1749.6" r="5"/><circle cx="1189.0" cy="1778.2" r="5"/><circle cx="1207.5" cy="1736.5" r="5"/><circle cx="1171.2" cy="1790.8" r="5"/><circle cx="1202.3" cy="1753.6" r="5"/><circle cx="1191.9" cy="1758.1" r="5"/><circle cx="1203.7" cy="1759.0" r="5"/><circle cx="1179.4" cy="1770.4" r="5"/><circle cx="1182.5" cy="1782.6" r="5"/><circle cx="1165.1" cy="1798.0" r="5"/><circle cx="1175.9" cy="1784.3" r="5"/><circle cx="1187.4" cy="1771.0" r="5"/><circle cx="1214.7" cy="1740.2" r="5"/><circle cx="1210.2" cy="1741.6" r="5"/><circle cx="1185.3" cy="1776.4" r="5"/><circle cx="1188.9" cy="1760.0" r="5"/><circle cx="1195.9" cy="1756.4" r="5"/><circle cx="1174.7" cy="1782.9" r="5"/><circle cx="1193.2" cy="1772.9" r="5"/><circle cx="1192.4" cy="1764.5" r="5"/><circle cx="1190.2" cy="1754.1" r="5"/><circle cx="1205.4" cy="1740.7" r="5"/><circle cx="1193.4" cy="1755.2" r="5"/><circle cx="1175.2" cy="1783.3" r="5"/><circle cx="1221.5" cy="1733.8" r="5"/><circle cx="1181.1" cy="1776.8" r="5"/><circle cx="1173.9" cy="1787.5" r="5"/><circle cx="1185.1" cy="1779.1" r="5"/><circle cx="1169.8" cy="1790.4" r="5"/><circle cx="1176.0" cy="1779.9" r="5"/><circle cx="1202.0" cy="1753.8" r="5"/><circle cx="1203.9" cy="1759.2" r="5"/><circle cx="1203.1" cy="1741.5" r="5"/><circle cx="1192.6" cy="1751.6" r="5"/><circle cx="1196.9" cy="1773.2" r="5"/><circle cx="1186.8" cy="1769.0" r="5"/><circle cx="1193.6" cy="1763.4" r="5"/><circle cx="1188.7" cy="1763.8" r="5"/><circle cx="1210.2" cy="1749.2" r="5"/><circle cx="1189.0" cy="1771.3" r="5"/><circle cx="1204.4" cy="1757.4" r="5"/><circle cx="1199.3" cy="1761.3" r="5"/><circle cx="1183.3" cy="1768.2" r="5"/><circle cx="1187.3" cy="1778.5" r="5"/><circle cx="1206.0" cy="1749.0" r="5"/><circle cx="1183.7" cy="1777.8" r="5"/><circle cx="1220.4" cy="1739.9" r="5"/><circle cx="1180.8" cy="1778.9" r="5"/><circle cx="1165.5" cy="1789.8" r="5"/><circle cx="1193.9" cy="1763.1" r="5"/><circle cx="1209.8" cy="1752.5" r="5"/><circle cx="1208.1" cy="1755.0" r="5"/><circle cx="1178.9" cy="1773.3" r="5"/><circle cx="1208.0" cy="1765.1" r="5"/><circle cx="1192.1" cy="1756.6" r="5"/><circle cx="1199.7" cy="1766.2" r="5"/><circle cx="1178.6" cy="1787.8" r="5"/><circle cx="1186.5" cy="1781.4" r="5"/><circle cx="1203.7" cy="1753.0" r="5"/><circle cx="1219.1" cy="1728.7" r="5"/><circle cx="1187.5" cy="1784.4" r="5"/><circle cx="1185.9" cy="1788.9" r="5"/><circle cx="1186.7" cy="1764.2" r="5"/><circle cx="1191.4" cy="1766.9" r="5"/><circle cx="1193.3" cy="1762.3" r="5"/><circle cx="1198.6" cy="1740.0" r="5"/><circle cx="1181.9" cy="1775.9" r="5"/><circle cx="1210.7" cy="1727.4" r="5"/><circle cx="1181.9" cy="1769.4" r="5"/><circle cx="1183.5" cy="1780.5" r="5"/><circle cx="1202.2" cy="1763.1" r="5"/><circle cx="1183.1" cy="1778.3" r="5"/><circle cx="1211.6" cy="1747.6" r="5"/><circle cx="1190.1" cy="1775.9" r="5"/><circle cx="1183.8" cy="1788.6" r="5"/><circle cx="1192.9" cy="1763.3" r="5"/><circle cx="1198.0" cy="1764.0" r="5"/><circle cx="1216.2" cy="1734.2" r="5"/><circle cx="1187.7" cy="1774.9" r="5"/><circle cx="1172.1" cy="1777.6" r="5"/><circle cx="1202.0" cy="1750.1" r="5"/><circle cx="1204.0" cy="1742.9" r="5"/><circle cx="1199.0" cy="1768.3" r="5"/><circle cx="1199.9" cy="1757.8" r="5"/><circle cx="1198.3" cy="1754.7" r="5"/><circle cx="1187.3" cy="1761.2" r="5"/><circle cx="1195.8" cy="1754.7" r="5"/><circle cx="1186.9" cy="1776.7" r="5"/><circle cx="1200.9" cy="1746.8" r="5"/><circle cx="1218.5" cy="1728.1" r="5"/><circle cx="1206.7" cy="1753.9" r="5"/><circle cx="1194.9" cy="1762.9" r="5"/><circle cx="1220.7" cy="1736.1" r="5"/><circle cx="1191.0" cy="1753.1" r="5"/><circle cx="1184.1" cy="1783.6" r="5"/><circle cx="1190.4" cy="1760.2" r="5"/><circle cx="1180.4" cy="1777.4" r="5"/><circle cx="1202.5" cy="1755.0" r="5"/><circle cx="1202.8" cy="1745.9" r="5"/><circle cx="1203.8" cy="1747.0" r="5"/><circle cx="1192.8" cy="1777.0" r="5"/><circle cx="1191.6" cy="1764.7" r="5"/><circle cx="1186.5" cy="1769.2" r="5"/><circle cx="1219.0" cy="1741.9" r="5"/><circle cx="1202.2" cy="1753.9" r="5"/><circle cx="1206.1" cy="1747.2" r="5"/><circle cx="1199.1" cy="1759.4" r="5"/><circle cx="1198.2" cy="1769.6" r="5"/><circle cx="1221.7" cy="1738.1" r="5"/><circle cx="1169.3" cy="1806.9" r="5"/><circle cx="1199.8" cy="1752.3" r="5"/><circle cx="1194.7" cy="1770.2" r="5"/><circle cx="1211.4" cy="1747.4" r="5"/><circle cx="1193.2" cy="1764.0" r="5"/><circle cx="1203.0" cy="1751.0" r="5"/><circle cx="1175.5" cy="1781.2" r="5"/><circle cx="1190.1" cy="1770.0" r="5"/><circle cx="1197.7" cy="1757.5" r="5"/><circle cx="1200.3" cy="1764.9" r="5"/><circle cx="1208.8" cy="1743.3" r="5"/><circle cx="1177.9" cy="1772.8" r="5"/><circle cx="1194.4" cy="1771.4" r="5"/><circle cx="1189.6" cy="1773.4" r="5"/><circle cx="1202.9" cy="1754.7" r="5"/><circle cx="1206.6" cy="1746.3" r="5"/><circle cx="1174.6" cy="1778.3" r="5"/><circle cx="1203.4" cy="1748.5" r="5"/><circle cx="1189.4" cy="1774.6" r="5"/><circle cx="1185.7" cy="1786.1" r="5"/><circle cx="1198.9" cy="1752.8" r="5"/><circle cx="1185.5" cy="1781.2" r="5"/><circle cx="1171.2" cy="1786.4" r="5"/><circle cx="1191.8" cy="1767.0" r="5"/><circle cx="1192.6" cy="1767.3" r="5"/><circle cx="1185.2" cy="1772.8" r="5"/><circle cx="1212.0" cy="1745.2" r="5"/><circle cx="1190.5" cy="1779.7" r="5"/><circle cx="1161.9" cy="1803.2" r="5"/><circle cx="1204.3" cy="1757.1" r="5"/><circle cx="1191.3" cy="1763.3" r="5"/><circle cx="1199.0" cy="1755.2" r="5"/><circle cx="1187.8" cy="1749.6" r="5"/><circle cx="1193.8" cy="1757.2" r="5"/><circle cx="1207.6" cy="1751.4" r="5"/><circle cx="1200.3" cy="1752.0" r="5"/><circle cx="1196.2" cy="1757.6" r="5"/><circle cx="1193.7" cy="1762.2" r="5"/><circle cx="1185.2" cy="1788.2" r="5"/><circle cx="1194.3" cy="1747.3" r="5"/><circle cx="1199.2" cy="1746.1" r="5"/><circle cx="1185.5" cy="1769.1" r="5"/><circle cx="1184.0" cy="1777.0" r="5"/><circle cx="1181.0" cy="1768.3" r="5"/><circle cx="1192.2" cy="1767.7" r="5"/><circle cx="1215.6" cy="1732.9" r="5"/><circle cx="1172.1" cy="1787.2" r="5"/><circle cx="1197.5" cy="1752.0" r="5"/><circle cx="1182.3" cy="1781.3" r="5"/><circle cx="1191.6" cy="1767.3" r="5"/><circle cx="1178.8" cy="1775.6" r="5"/><circle cx="1185.7" cy="1772.0" r="5"/><circle cx="1187.6" cy="1773.9" r="5"/><circle cx="1201.0" cy="1758.0" r="5"/><circle cx="1194.9" cy="1755.2" r="5"/><circle cx="1177.3" cy="1789.3" r="5"/><circle cx="1191.6" cy="1766.6" r="5"/><circle cx="1173.1" cy="1787.2" r="5"/><circle cx="1178.5" cy="1775.7" r="5"/><circle cx="1176.3" cy="1773.7" r="5"/><circle cx="1196.4" cy="1768.3" r="5"/><circle cx="1180.9" cy="1779.7" r="5"/><circle cx="1177.3" cy="1788.5" r="5"/><circle cx="1214.1" cy="1728.8" r="5"/><circle cx="1192.7" cy="1774.8" r="5"/><circle cx="1196.8" cy="1760.1" r="5"/><circle cx="1160.3" cy="1803.5" r="5"/><circle cx="1209.7" cy="1753.8" r="5"/><circle cx="1198.4" cy="1753.1" r="5"/><circle cx="1174.3" cy="1773.8" r="5"/><circle cx="1179.1" cy="1789.5" r="5"/><circle cx="1184.5" cy="1764.7" r="5"/><circle cx="1204.5" cy="1737.5" r="5"/><circle cx="1208.5" cy="1742.5" r="5"/><circle cx="1198.4" cy="1762.2" r="5"/><circle cx="1199.4" cy="1765.4" r="5"/><circle cx="1190.1" cy="1765.3" r="5"/><circle cx="1176.1" cy="1774.5" r="5"/><circle cx="1184.3" cy="1782.1" r="5"/><circle cx="1208.2" cy="1755.4" r="5"/><circle cx="1193.7" cy="1753.5" r="5"/><circle cx="1195.3" cy="1777.3" r="5"/><circle cx="1198.3" cy="1756.4" r="5"/><circle cx="1188.8" cy="1755.4" r="5"/><circle cx="1174.0" cy="1778.0" r="5"/><circle cx="1204.6" cy="1748.3" r="5"/><circle cx="1192.5" cy="1757.2" r="5"/><circle cx="1200.4" cy="1760.4" r="5"/><circle cx="1219.2" cy="1742.9" r="5"/><circle cx="1197.7" cy="1757.2" r="5"/><circle cx="1176.6" cy="1779.9" r="5"/><circle cx="1202.1" cy="1756.8" r="5"/><circle cx="1197.2" cy="1771.0" r="5"/><circle cx="1200.6" cy="1754.7" r="5"/><circle cx="1188.5" cy="1770.2" r="5"/><circle cx="1173.5" cy="1781.1" r="5"/><circle cx="1194.0" cy="1758.4" r="5"/><circle cx="1191.4" cy="1775.0" r="5"/><circle cx="1192.9" cy="1773.8" r="5"/><circle cx="1196.3" cy="1771.0" r="5"/><circle cx="1191.6" cy="1752.9" r="5"/><circle cx="1208.5" cy="1743.2" r="5"/><circle cx="1162.4" cy="1802.8" r="5"/><circle cx="1188.7" cy="1759.9" r="5"/><circle cx="1184.0" cy="1779.2" r="5"/><circle cx="1215.9" cy="1743.9" r="5"/><circle cx="1213.1" cy="1747.3" r="5"/><circle cx="1184.1" cy="1755.3" r="5"/><circle cx="1205.6" cy="1755.0" r="5"/><circle cx="1178.2" cy="1779.6" r="5"/><circle cx="1177.1" cy="1783.7" r="5"/><circle cx="1190.4" cy="1767.2" r="5"/><circle cx="1177.3" cy="1786.3" r="5"/><circle cx="1189.4" cy="1775.5" r="5"/><circle cx="1190.3" cy="1756.5" r="5"/><circle cx="1170.0" cy="1793.2" r="5"/><circle cx="1185.5" cy="1776.7" r="5"/><circle cx="1203.0" cy="1751.8" r="5"/><circle cx="1161.8" cy="1794.0" r="5"/><circle cx="1195.7" cy="1753.0" r="5"/><circle cx="1207.0" cy="1745.9" r="5"/><circle cx="1195.5" cy="1754.4" r="5"/><circle cx="1178.9" cy="1759.8" r="5"/><circle cx="1190.0" cy="1772.0" r="5"/><circle cx="1174.7" cy="1780.5" r="5"/><circle cx="1190.4" cy="1767.7" r="5"/><circle cx="1181.5" cy="1783.3" r="5"/><circle cx="1137.0" cy="1792.3" r="5"/><circle cx="1149.4" cy="1810.5" r="5"/><circle cx="1198.3" cy="1801.5" r="5"/><circle cx="1151.6" cy="1782.0" r="5"/><circle cx="1217.0" cy="1750.0" r="5"/><circle cx="1225.0" cy="1731.0" r="5"/><circle cx="1215.0" cy="1727.0" r="5"/></g>
<circle cx="1391.6" cy="1564.4" r="4.6" fill="#2077b4"/>
<line x1="1125" y1="1551.7" x2="1125" y2="1824.6" stroke="#262626" stroke-width="2"/>
<line x1="1124" y1="1823.6" x2="1405" y2="1823.6" stroke="#262626" stroke-width="2"/>
<line x1="1115.2" y1="1561.5" x2="1125" y2="1561.5" stroke="#262626" stroke-width="2"/>
<text x="1108.5" y="1568.2" font-size="18.6" text-anchor="end" fill="#1a1a1a" font-family="'DejaVu Sans', sans-serif">0.865</text>
<line x1="1115.2" y1="1609.06" x2="1125" y2="1609.06" stroke="#262626" stroke-width="2"/>
<text x="1108.5" y="1615.76" font-size="18.6" text-anchor="end" fill="#1a1a1a" font-family="'DejaVu Sans', sans-serif">0.860</text>
<line x1="1115.2" y1="1656.62" x2="1125" y2="1656.62" stroke="#262626" stroke-width="2"/>
<text x="1108.5" y="1663.32" font-size="18.6" text-anchor="end" fill="#1a1a1a" font-family="'DejaVu Sans', sans-serif">0.855</text>
<line x1="1115.2" y1="1704.18" x2="1125" y2="1704.18" stroke="#262626" stroke-width="2"/>
<text x="1108.5" y="1710.88" font-size="18.6" text-anchor="end" fill="#1a1a1a" font-family="'DejaVu Sans', sans-serif">0.850</text>
<line x1="1115.2" y1="1751.74" x2="1125" y2="1751.74" stroke="#262626" stroke-width="2"/>
<text x="1108.5" y="1758.44" font-size="18.6" text-anchor="end" fill="#1a1a1a" font-family="'DejaVu Sans', sans-serif">0.845</text>
<line x1="1115.2" y1="1799.3" x2="1125" y2="1799.3" stroke="#262626" stroke-width="2"/>
<text x="1108.5" y="1806" font-size="18.6" text-anchor="end" fill="#1a1a1a" font-family="'DejaVu Sans', sans-serif">0.840</text>
<line x1="1193" y1="1823.6" x2="1193" y2="1833.1" stroke="#262626" stroke-width="2"/>
<text x="1193" y="1853" font-size="18.6" text-anchor="middle" fill="#1a1a1a" font-family="'DejaVu Sans', sans-serif">0.4</text>
<line x1="1299.9" y1="1823.6" x2="1299.9" y2="1833.1" stroke="#262626" stroke-width="2"/>
<text x="1299.9" y="1853" font-size="18.6" text-anchor="middle" fill="#1a1a1a" font-family="'DejaVu Sans', sans-serif">0.6</text>
<text x="1265" y="1878.2" font-size="20.2" text-anchor="middle" fill="#1a1a1a" font-family="'DejaVu Sans', sans-serif">fraction consistent hetero</text>
<text x="1046.7" y="1687.65" font-size="20.2" text-anchor="middle" fill="#1a1a1a" font-family="'DejaVu Sans', sans-serif" transform="rotate(-90 1046.7 1687.65)">fraction consistent homo</text>
<text x="1268.5" y="1589" font-size="20.2" fill="#2a7ab5" font-family="'DejaVu Sans', sans-serif">SM-CJJ35</text>
<text x="1268.5" y="1613.3" font-size="20.2" fill="#2a7ab5" font-family="'DejaVu Sans', sans-serif">D17-8756</text>
<text x="1268.5" y="1637.6" font-size="20.2" fill="#6a43a0" font-family="'DejaVu Sans', sans-serif">It's a match</text>
<g fill="#a6cae0" stroke="#fff" stroke-width="0.8"><circle cx="1558.2" cy="1776.2" r="5"/><circle cx="1558.4" cy="1765.6" r="5"/><circle cx="1545.6" cy="1785.5" r="5"/><circle cx="1537.5" cy="1794.9" r="5"/><circle cx="1546.0" cy="1788.2" r="5"/><circle cx="1543.6" cy="1795.8" r="5"/><circle cx="1536.1" cy="1780.9" r="5"/><circle cx="1565.9" cy="1763.2" r="5"/><circle cx="1545.0" cy="1793.0" r="5"/><circle cx="1555.9" cy="1778.3" r="5"/><circle cx="1543.5" cy="1794.4" r="5"/><circle cx="1539.4" cy="1807.7" r="5"/><circle cx="1537.3" cy="1799.3" r="5"/><circle cx="1553.9" cy="1781.8" r="5"/><circle cx="1551.6" cy="1786.4" r="5"/><circle cx="1547.7" cy="1784.2" r="5"/><circle cx="1566.1" cy="1758.2" r="5"/><circle cx="1543.4" cy="1778.8" r="5"/><circle cx="1549.0" cy="1774.7" r="5"/><circle cx="1539.9" cy="1812.3" r="5"/><circle cx="1559.4" cy="1772.8" r="5"/><circle cx="1548.3" cy="1776.7" r="5"/><circle cx="1539.8" cy="1799.6" r="5"/><circle cx="1530.5" cy="1808.9" r="5"/><circle cx="1543.4" cy="1804.2" r="5"/><circle cx="1561.6" cy="1766.7" r="5"/><circle cx="1525.6" cy="1808.8" r="5"/><circle cx="1547.0" cy="1781.2" r="5"/><circle cx="1557.7" cy="1781.6" r="5"/><circle cx="1548.9" cy="1782.7" r="5"/><circle cx="1559.5" cy="1770.7" r="5"/><circle cx="1560.2" cy="1769.7" r="5"/><circle cx="1569.6" cy="1758.5" r="5"/><circle cx="1538.5" cy="1798.9" r="5"/><circle cx="1540.3" cy="1789.8" r="5"/><circle cx="1552.0" cy="1786.9" r="5"/><circle cx="1548.7" cy="1784.9" r="5"/><circle cx="1556.5" cy="1767.6" r="5"/><circle cx="1558.3" cy="1772.6" r="5"/><circle cx="1551.7" cy="1780.7" r="5"/><circle cx="1545.4" cy="1786.4" r="5"/><circle cx="1563.1" cy="1782.5" r="5"/><circle cx="1566.8" cy="1769.6" r="5"/><circle cx="1556.5" cy="1773.3" r="5"/><circle cx="1565.5" cy="1779.5" r="5"/><circle cx="1538.7" cy="1803.9" r="5"/><circle cx="1564.7" cy="1768.5" r="5"/><circle cx="1565.7" cy="1774.8" r="5"/><circle cx="1572.8" cy="1759.0" r="5"/><circle cx="1562.4" cy="1770.7" r="5"/><circle cx="1553.9" cy="1776.8" r="5"/><circle cx="1564.9" cy="1776.2" r="5"/><circle cx="1551.0" cy="1785.3" r="5"/><circle cx="1559.7" cy="1773.1" r="5"/><circle cx="1564.3" cy="1769.1" r="5"/><circle cx="1534.8" cy="1796.5" r="5"/><circle cx="1563.1" cy="1773.1" r="5"/><circle cx="1566.4" cy="1766.5" r="5"/><circle cx="1549.7" cy="1774.8" r="5"/><circle cx="1566.2" cy="1759.0" r="5"/><circle cx="1561.2" cy="1763.6" r="5"/><circle cx="1545.0" cy="1792.1" r="5"/><circle cx="1545.1" cy="1786.3" r="5"/><circle cx="1565.5" cy="1770.6" r="5"/><circle cx="1556.2" cy="1775.2" r="5"/><circle cx="1541.1" cy="1792.6" r="5"/><circle cx="1546.2" cy="1789.4" r="5"/><circle cx="1561.3" cy="1770.1" r="5"/><circle cx="1541.1" cy="1791.7" r="5"/><circle cx="1568.6" cy="1763.4" r="5"/><circle cx="1556.4" cy="1779.1" r="5"/><circle cx="1560.3" cy="1773.4" r="5"/><circle cx="1569.5" cy="1766.6" r="5"/><circle cx="1557.9" cy="1782.6" r="5"/><circle cx="1557.3" cy="1785.2" r="5"/><circle cx="1533.7" cy="1796.7" r="5"/><circle cx="1548.3" cy="1782.3" r="5"/><circle cx="1542.0" cy="1798.7" r="5"/><circle cx="1556.2" cy="1777.6" r="5"/><circle cx="1549.0" cy="1788.1" r="5"/><circle cx="1549.2" cy="1781.3" r="5"/><circle cx="1560.3" cy="1775.0" r="5"/><circle cx="1556.2" cy="1782.2" r="5"/><circle cx="1539.3" cy="1797.2" r="5"/><circle cx="1551.1" cy="1792.7" r="5"/><circle cx="1565.9" cy="1779.7" r="5"/><circle cx="1570.5" cy="1757.7" r="5"/><circle cx="1541.5" cy="1798.7" r="5"/><circle cx="1549.1" cy="1785.2" r="5"/><circle cx="1542.3" cy="1798.5" r="5"/><circle cx="1556.5" cy="1779.9" r="5"/><circle cx="1553.8" cy="1774.6" r="5"/><circle cx="1543.7" cy="1789.3" r="5"/><circle cx="1564.1" cy="1767.3" r="5"/><circle cx="1571.6" cy="1760.1" r="5"/><circle cx="1562.8" cy="1772.9" r="5"/><circle cx="1558.5" cy="1766.4" r="5"/><circle cx="1566.3" cy="1765.9" r="5"/><circle cx="1543.4" cy="1797.3" r="5"/><circle cx="1561.3" cy="1779.9" r="5"/><circle cx="1562.9" cy="1771.8" r="5"/><circle cx="1539.0" cy="1809.7" r="5"/><circle cx="1573.2" cy="1762.0" r="5"/><circle cx="1562.4" cy="1778.0" r="5"/><circle cx="1545.0" cy="1796.0" r="5"/><circle cx="1550.0" cy="1778.5" r="5"/><circle cx="1558.5" cy="1777.1" r="5"/><circle cx="1576.4" cy="1759.3" r="5"/><circle cx="1527.5" cy="1799.6" r="5"/><circle cx="1551.4" cy="1782.1" r="5"/><circle cx="1537.1" cy="1791.2" r="5"/><circle cx="1546.9" cy="1781.2" r="5"/><circle cx="1547.6" cy="1793.8" r="5"/><circle cx="1553.4" cy="1776.0" r="5"/><circle cx="1539.0" cy="1797.3" r="5"/><circle cx="1572.0" cy="1755.0" r="5"/><circle cx="1571.0" cy="1754.3" r="5"/><circle cx="1552.8" cy="1786.4" r="5"/><circle cx="1544.0" cy="1792.9" r="5"/><circle cx="1539.0" cy="1802.9" r="5"/><circle cx="1564.7" cy="1763.0" r="5"/><circle cx="1553.9" cy="1777.7" r="5"/><circle cx="1563.2" cy="1774.6" r="5"/><circle cx="1558.2" cy="1776.3" r="5"/><circle cx="1547.9" cy="1784.9" r="5"/><circle cx="1552.8" cy="1786.4" r="5"/><circle cx="1540.1" cy="1788.5" r="5"/><circle cx="1541.0" cy="1799.1" r="5"/><circle cx="1566.9" cy="1769.8" r="5"/><circle cx="1570.3" cy="1756.9" r="5"/><circle cx="1567.0" cy="1768.9" r="5"/><circle cx="1548.6" cy="1781.9" r="5"/><circle cx="1561.2" cy="1766.9" r="5"/><circle cx="1546.3" cy="1783.2" r="5"/><circle cx="1573.6" cy="1756.0" r="5"/><circle cx="1546.2" cy="1788.1" r="5"/><circle cx="1550.6" cy="1785.0" r="5"/><circle cx="1528.9" cy="1803.2" r="5"/><circle cx="1562.5" cy="1777.0" r="5"/><circle cx="1541.3" cy="1796.5" r="5"/><circle cx="1538.7" cy="1783.8" r="5"/><circle cx="1545.7" cy="1783.2" r="5"/><circle cx="1562.7" cy="1768.3" r="5"/><circle cx="1547.8" cy="1778.2" r="5"/><circle cx="1548.4" cy="1774.2" r="5"/><circle cx="1560.1" cy="1782.0" r="5"/><circle cx="1541.3" cy="1801.4" r="5"/><circle cx="1569.1" cy="1760.6" r="5"/><circle cx="1566.5" cy="1765.5" r="5"/><circle cx="1540.6" cy="1783.3" r="5"/><circle cx="1535.3" cy="1793.2" r="5"/><circle cx="1546.5" cy="1780.4" r="5"/><circle cx="1569.7" cy="1753.4" r="5"/><circle cx="1574.2" cy="1762.8" r="5"/><circle cx="1551.7" cy="1778.7" r="5"/><circle cx="1548.1" cy="1778.7" r="5"/><circle cx="1566.2" cy="1776.6" r="5"/><circle cx="1567.0" cy="1771.3" r="5"/><circle cx="1545.7" cy="1792.5" r="5"/><circle cx="1539.3" cy="1795.2" r="5"/><circle cx="1569.8" cy="1777.6" r="5"/><circle cx="1553.9" cy="1780.6" r="5"/><circle cx="1531.0" cy="1809.5" r="5"/><circle cx="1537.6" cy="1791.0" r="5"/><circle cx="1535.7" cy="1803.5" r="5"/><circle cx="1550.4" cy="1789.1" r="5"/><circle cx="1550.2" cy="1784.9" r="5"/><circle cx="1573.1" cy="1762.3" r="5"/><circle cx="1566.9" cy="1774.3" r="5"/><circle cx="1552.4" cy="1775.7" r="5"/><circle cx="1538.4" cy="1788.9" r="5"/><circle cx="1555.9" cy="1775.3" r="5"/><circle cx="1561.8" cy="1776.3" r="5"/><circle cx="1543.9" cy="1793.8" r="5"/><circle cx="1568.4" cy="1763.2" r="5"/><circle cx="1563.5" cy="1767.4" r="5"/><circle cx="1540.9" cy="1794.7" r="5"/><circle cx="1532.8" cy="1810.9" r="5"/><circle cx="1551.2" cy="1792.6" r="5"/><circle cx="1538.7" cy="1799.8" r="5"/><circle cx="1556.4" cy="1776.0" r="5"/><circle cx="1555.1" cy="1773.9" r="5"/><circle cx="1535.5" cy="1793.4" r="5"/><circle cx="1543.6" cy="1787.6" r="5"/><circle cx="1554.6" cy="1777.0" r="5"/><circle cx="1542.7" cy="1789.2" r="5"/><circle cx="1529.0" cy="1808.3" r="5"/><circle cx="1553.6" cy="1771.9" r="5"/><circle cx="1552.1" cy="1787.1" r="5"/><circle cx="1545.3" cy="1792.2" r="5"/><circle cx="1555.9" cy="1794.4" r="5"/><circle cx="1573.7" cy="1764.2" r="5"/><circle cx="1546.9" cy="1793.3" r="5"/><circle cx="1552.2" cy="1784.9" r="5"/><circle cx="1546.6" cy="1790.4" r="5"/><circle cx="1544.7" cy="1793.6" r="5"/><circle cx="1569.7" cy="1752.0" r="5"/><circle cx="1538.8" cy="1802.2" r="5"/><circle cx="1561.3" cy="1768.8" r="5"/><circle cx="1561.5" cy="1774.0" r="5"/><circle cx="1564.2" cy="1777.1" r="5"/><circle cx="1547.3" cy="1792.8" r="5"/><circle cx="1553.2" cy="1776.7" r="5"/><circle cx="1554.8" cy="1770.6" r="5"/><circle cx="1538.6" cy="1806.3" r="5"/><circle cx="1545.2" cy="1802.4" r="5"/><circle cx="1563.9" cy="1764.7" r="5"/><circle cx="1535.0" cy="1788.5" r="5"/><circle cx="1546.7" cy="1778.2" r="5"/><circle cx="1566.4" cy="1753.8" r="5"/><circle cx="1544.7" cy="1773.2" r="5"/><circle cx="1553.1" cy="1790.3" r="5"/><circle cx="1544.8" cy="1785.9" r="5"/><circle cx="1548.4" cy="1789.6" r="5"/><circle cx="1562.9" cy="1767.7" r="5"/><circle cx="1529.1" cy="1812.7" r="5"/><circle cx="1572.4" cy="1773.4" r="5"/><circle cx="1555.5" cy="1779.5" r="5"/><circle cx="1548.8" cy="1791.6" r="5"/><circle cx="1571.1" cy="1752.6" r="5"/><circle cx="1516.7" cy="1804.5" r="5"/><circle cx="1533.0" cy="1814.0" r="5"/><circle cx="1574.5" cy="1797.0" r="5"/><circle cx="1530.0" cy="1787.0" r="5"/><circle cx="1576.0" cy="1753.0" r="5"/></g>
<circle cx="1769" cy="1564.5" r="4.6" fill="#2077b4"/>
<line x1="1503.6" y1="1551.8" x2="1503.6" y2="1823.5" stroke="#262626" stroke-width="2"/>
<line x1="1502.6" y1="1822.5" x2="1774" y2="1822.5" stroke="#262626" stroke-width="2"/>
<line x1="1493.8" y1="1578.4" x2="1503.6" y2="1578.4" stroke="#262626" stroke-width="2"/>
<text x="1487.1" y="1585.1" font-size="18.6" text-anchor="end" fill="#1a1a1a" font-family="'DejaVu Sans', sans-serif">0.870</text>
<line x1="1493.8" y1="1623.26" x2="1503.6" y2="1623.26" stroke="#262626" stroke-width="2"/>
<text x="1487.1" y="1629.96" font-size="18.6" text-anchor="end" fill="#1a1a1a" font-family="'DejaVu Sans', sans-serif">0.865</text>
<line x1="1493.8" y1="1668.12" x2="1503.6" y2="1668.12" stroke="#262626" stroke-width="2"/>
<text x="1487.1" y="1674.82" font-size="18.6" text-anchor="end" fill="#1a1a1a" font-family="'DejaVu Sans', sans-serif">0.860</text>
<line x1="1493.8" y1="1712.98" x2="1503.6" y2="1712.98" stroke="#262626" stroke-width="2"/>
<text x="1487.1" y="1719.68" font-size="18.6" text-anchor="end" fill="#1a1a1a" font-family="'DejaVu Sans', sans-serif">0.855</text>
<line x1="1493.8" y1="1757.84" x2="1503.6" y2="1757.84" stroke="#262626" stroke-width="2"/>
<text x="1487.1" y="1764.54" font-size="18.6" text-anchor="end" fill="#1a1a1a" font-family="'DejaVu Sans', sans-serif">0.850</text>
<line x1="1493.8" y1="1802.7" x2="1503.6" y2="1802.7" stroke="#262626" stroke-width="2"/>
<text x="1487.1" y="1809.4" font-size="18.6" text-anchor="end" fill="#1a1a1a" font-family="'DejaVu Sans', sans-serif">0.845</text>
<line x1="1562.5" y1="1822.5" x2="1562.5" y2="1832" stroke="#262626" stroke-width="2"/>
<text x="1562.5" y="1851.6" font-size="18.6" text-anchor="middle" fill="#1a1a1a" font-family="'DejaVu Sans', sans-serif">0.4</text>
<line x1="1648.2" y1="1822.5" x2="1648.2" y2="1832" stroke="#262626" stroke-width="2"/>
<text x="1648.2" y="1851.6" font-size="18.6" text-anchor="middle" fill="#1a1a1a" font-family="'DejaVu Sans', sans-serif">0.6</text>
<line x1="1735" y1="1822.5" x2="1735" y2="1832" stroke="#262626" stroke-width="2"/>
<text x="1735" y="1851.6" font-size="18.6" text-anchor="middle" fill="#1a1a1a" font-family="'DejaVu Sans', sans-serif">0.8</text>
<text x="1638.8" y="1877.6" font-size="20.2" text-anchor="middle" fill="#1a1a1a" font-family="'DejaVu Sans', sans-serif">fraction consistent hetero</text>
<text x="1425.3" y="1687.15" font-size="20.2" text-anchor="middle" fill="#1a1a1a" font-family="'DejaVu Sans', sans-serif" transform="rotate(-90 1425.3 1687.15)">fraction consistent homo</text>
<text x="1654.4" y="1587.7" font-size="20.2" fill="#2a7ab5" font-family="'DejaVu Sans', sans-serif">SM-CJIY2</text>
<text x="1654.4" y="1611.7" font-size="20.2" fill="#2a7ab5" font-family="'DejaVu Sans', sans-serif">D17-8758</text>
<text x="1654.4" y="1634.4" font-size="20.2" fill="#6a43a0" font-family="'DejaVu Sans', sans-serif">It's a match</text>
<g fill="#a6cae0" stroke="#fff" stroke-width="0.8"><circle cx="1198.4" cy="2107.8" r="5"/><circle cx="1183.0" cy="2125.7" r="5"/><circle cx="1187.9" cy="2110.0" r="5"/><circle cx="1219.8" cy="2072.1" r="5"/><circle cx="1194.5" cy="2108.8" r="5"/><circle cx="1208.2" cy="2085.5" r="5"/><circle cx="1197.2" cy="2092.6" r="5"/><circle cx="1185.8" cy="2111.4" r="5"/><circle cx="1168.3" cy="2125.9" r="5"/><circle cx="1168.8" cy="2134.8" r="5"/><circle cx="1188.9" cy="2108.2" r="5"/><circle cx="1188.6" cy="2101.0" r="5"/><circle cx="1192.2" cy="2108.1" r="5"/><circle cx="1200.0" cy="2090.0" r="5"/><circle cx="1179.6" cy="2107.6" r="5"/><circle cx="1177.4" cy="2108.9" r="5"/><circle cx="1176.6" cy="2134.8" r="5"/><circle cx="1196.0" cy="2099.2" r="5"/><circle cx="1200.9" cy="2099.2" r="5"/><circle cx="1206.3" cy="2086.4" r="5"/><circle cx="1182.0" cy="2115.0" r="5"/><circle cx="1178.5" cy="2123.7" r="5"/><circle cx="1185.3" cy="2123.2" r="5"/><circle cx="1162.3" cy="2136.7" r="5"/><circle cx="1171.5" cy="2117.3" r="5"/><circle cx="1210.5" cy="2064.8" r="5"/><circle cx="1186.6" cy="2109.6" r="5"/><circle cx="1208.5" cy="2070.4" r="5"/><circle cx="1204.9" cy="2084.5" r="5"/><circle cx="1187.9" cy="2106.9" r="5"/><circle cx="1197.4" cy="2091.2" r="5"/><circle cx="1192.7" cy="2108.4" r="5"/><circle cx="1209.6" cy="2065.9" r="5"/><circle cx="1217.4" cy="2081.1" r="5"/><circle cx="1186.8" cy="2115.6" r="5"/><circle cx="1191.9" cy="2119.1" r="5"/><circle cx="1194.7" cy="2101.6" r="5"/><circle cx="1188.6" cy="2109.6" r="5"/><circle cx="1186.8" cy="2106.7" r="5"/><circle cx="1214.5" cy="2063.4" r="5"/><circle cx="1191.8" cy="2109.7" r="5"/><circle cx="1189.1" cy="2109.3" r="5"/><circle cx="1200.7" cy="2102.7" r="5"/><circle cx="1184.9" cy="2113.1" r="5"/><circle cx="1221.7" cy="2072.4" r="5"/><circle cx="1187.1" cy="2130.4" r="5"/><circle cx="1201.3" cy="2090.3" r="5"/><circle cx="1177.1" cy="2128.1" r="5"/><circle cx="1177.0" cy="2118.1" r="5"/><circle cx="1172.5" cy="2128.0" r="5"/><circle cx="1206.5" cy="2084.7" r="5"/><circle cx="1174.6" cy="2134.1" r="5"/><circle cx="1196.5" cy="2107.2" r="5"/><circle cx="1208.8" cy="2083.8" r="5"/><circle cx="1190.3" cy="2108.5" r="5"/><circle cx="1179.0" cy="2128.4" r="5"/><circle cx="1212.4" cy="2081.7" r="5"/><circle cx="1188.2" cy="2109.6" r="5"/><circle cx="1178.6" cy="2117.9" r="5"/><circle cx="1183.8" cy="2110.9" r="5"/><circle cx="1180.6" cy="2109.5" r="5"/><circle cx="1197.6" cy="2099.8" r="5"/><circle cx="1168.0" cy="2120.4" r="5"/><circle cx="1196.4" cy="2109.3" r="5"/><circle cx="1180.4" cy="2117.9" r="5"/><circle cx="1186.9" cy="2118.1" r="5"/><circle cx="1183.2" cy="2125.4" r="5"/><circle cx="1191.6" cy="2114.1" r="5"/><circle cx="1192.1" cy="2104.8" r="5"/><circle cx="1169.2" cy="2130.8" r="5"/><circle cx="1191.2" cy="2112.6" r="5"/><circle cx="1193.4" cy="2099.6" r="5"/><circle cx="1201.8" cy="2101.4" r="5"/><circle cx="1188.8" cy="2107.4" r="5"/><circle cx="1189.9" cy="2115.4" r="5"/><circle cx="1196.7" cy="2093.6" r="5"/><circle cx="1196.0" cy="2097.9" r="5"/><circle cx="1186.5" cy="2123.1" r="5"/><circle cx="1201.4" cy="2089.1" r="5"/><circle cx="1195.4" cy="2106.0" r="5"/><circle cx="1183.1" cy="2117.2" r="5"/><circle cx="1195.4" cy="2088.9" r="5"/><circle cx="1199.8" cy="2102.2" r="5"/><circle cx="1194.7" cy="2093.1" r="5"/><circle cx="1193.8" cy="2097.8" r="5"/><circle cx="1202.7" cy="2097.4" r="5"/><circle cx="1192.8" cy="2099.9" r="5"/><circle cx="1187.3" cy="2119.1" r="5"/><circle cx="1181.7" cy="2123.7" r="5"/><circle cx="1198.7" cy="2096.0" r="5"/><circle cx="1200.3" cy="2093.6" r="5"/><circle cx="1184.8" cy="2101.6" r="5"/><circle cx="1179.9" cy="2114.5" r="5"/><circle cx="1192.6" cy="2112.5" r="5"/><circle cx="1194.6" cy="2106.1" r="5"/><circle cx="1181.1" cy="2117.4" r="5"/><circle cx="1193.0" cy="2103.2" r="5"/><circle cx="1207.1" cy="2080.6" r="5"/><circle cx="1215.5" cy="2069.0" r="5"/><circle cx="1204.6" cy="2084.6" r="5"/><circle cx="1216.1" cy="2076.6" r="5"/><circle cx="1200.8" cy="2100.9" r="5"/><circle cx="1179.8" cy="2114.6" r="5"/><circle cx="1168.5" cy="2146.1" r="5"/><circle cx="1180.6" cy="2116.9" r="5"/><circle cx="1199.3" cy="2112.2" r="5"/><circle cx="1169.1" cy="2138.0" r="5"/><circle cx="1188.9" cy="2114.7" r="5"/><circle cx="1165.8" cy="2137.4" r="5"/><circle cx="1210.0" cy="2095.2" r="5"/><circle cx="1211.8" cy="2074.7" r="5"/><circle cx="1192.9" cy="2104.7" r="5"/><circle cx="1167.9" cy="2126.8" r="5"/><circle cx="1204.0" cy="2093.0" r="5"/><circle cx="1194.9" cy="2112.0" r="5"/><circle cx="1180.3" cy="2125.6" r="5"/><circle cx="1192.4" cy="2105.7" r="5"/><circle cx="1200.0" cy="2097.6" r="5"/><circle cx="1197.2" cy="2101.9" r="5"/><circle cx="1218.6" cy="2070.0" r="5"/><circle cx="1208.9" cy="2089.4" r="5"/><circle cx="1190.5" cy="2114.6" r="5"/><circle cx="1184.7" cy="2124.8" r="5"/><circle cx="1179.3" cy="2119.3" r="5"/><circle cx="1200.1" cy="2102.5" r="5"/><circle cx="1208.5" cy="2092.1" r="5"/><circle cx="1186.1" cy="2107.1" r="5"/><circle cx="1201.3" cy="2096.9" r="5"/><circle cx="1182.7" cy="2126.0" r="5"/><circle cx="1191.8" cy="2099.7" r="5"/><circle cx="1193.9" cy="2094.3" r="5"/><circle cx="1181.6" cy="2123.0" r="5"/><circle cx="1170.8" cy="2134.3" r="5"/><circle cx="1176.2" cy="2132.5" r="5"/><circle cx="1182.9" cy="2119.7" r="5"/><circle cx="1170.1" cy="2132.2" r="5"/><circle cx="1207.5" cy="2090.1" r="5"/><circle cx="1170.0" cy="2141.9" r="5"/><circle cx="1203.7" cy="2088.8" r="5"/><circle cx="1208.6" cy="2077.4" r="5"/><circle cx="1195.3" cy="2110.7" r="5"/><circle cx="1215.6" cy="2085.9" r="5"/><circle cx="1170.7" cy="2120.8" r="5"/><circle cx="1192.8" cy="2094.9" r="5"/><circle cx="1186.0" cy="2104.8" r="5"/><circle cx="1210.3" cy="2089.1" r="5"/><circle cx="1200.4" cy="2096.0" r="5"/><circle cx="1192.1" cy="2104.3" r="5"/><circle cx="1198.8" cy="2099.8" r="5"/><circle cx="1197.4" cy="2096.5" r="5"/><circle cx="1220.2" cy="2072.4" r="5"/><circle cx="1216.9" cy="2084.5" r="5"/><circle cx="1174.0" cy="2117.1" r="5"/><circle cx="1208.8" cy="2082.2" r="5"/><circle cx="1192.7" cy="2103.8" r="5"/><circle cx="1190.0" cy="2100.3" r="5"/><circle cx="1189.4" cy="2106.6" r="5"/><circle cx="1183.8" cy="2099.7" r="5"/><circle cx="1205.2" cy="2092.1" r="5"/><circle cx="1165.6" cy="2135.2" r="5"/><circle cx="1195.2" cy="2107.2" r="5"/><circle cx="1197.5" cy="2109.9" r="5"/><circle cx="1189.2" cy="2102.8" r="5"/><circle cx="1185.7" cy="2120.3" r="5"/><circle cx="1186.9" cy="2119.5" r="5"/><circle cx="1209.0" cy="2089.2" r="5"/><circle cx="1206.2" cy="2087.1" r="5"/><circle cx="1190.2" cy="2104.5" r="5"/><circle cx="1178.2" cy="2112.6" r="5"/><circle cx="1180.8" cy="2113.0" r="5"/><circle cx="1173.0" cy="2132.2" r="5"/><circle cx="1197.6" cy="2096.8" r="5"/><circle cx="1215.1" cy="2083.9" r="5"/><circle cx="1205.0" cy="2085.4" r="5"/><circle cx="1173.6" cy="2134.6" r="5"/><circle cx="1199.5" cy="2102.5" r="5"/><circle cx="1202.9" cy="2102.0" r="5"/><circle cx="1190.9" cy="2113.1" r="5"/><circle cx="1171.5" cy="2115.7" r="5"/><circle cx="1191.7" cy="2118.3" r="5"/><circle cx="1172.7" cy="2139.2" r="5"/><circle cx="1181.5" cy="2117.2" r="5"/><circle cx="1193.9" cy="2105.8" r="5"/><circle cx="1179.3" cy="2124.0" r="5"/><circle cx="1201.8" cy="2100.3" r="5"/><circle cx="1187.5" cy="2124.0" r="5"/><circle cx="1228.1" cy="2078.3" r="5"/><circle cx="1174.3" cy="2130.7" r="5"/><circle cx="1167.8" cy="2140.7" r="5"/><circle cx="1196.1" cy="2092.7" r="5"/><circle cx="1170.9" cy="2135.2" r="5"/><circle cx="1198.4" cy="2092.4" r="5"/><circle cx="1179.6" cy="2103.6" r="5"/><circle cx="1183.1" cy="2119.2" r="5"/><circle cx="1200.4" cy="2107.7" r="5"/><circle cx="1168.3" cy="2120.3" r="5"/><circle cx="1196.7" cy="2096.1" r="5"/><circle cx="1199.1" cy="2102.8" r="5"/><circle cx="1206.2" cy="2099.2" r="5"/><circle cx="1205.5" cy="2076.8" r="5"/><circle cx="1198.9" cy="2112.8" r="5"/><circle cx="1190.3" cy="2116.1" r="5"/><circle cx="1190.2" cy="2105.8" r="5"/><circle cx="1218.5" cy="2080.3" r="5"/><circle cx="1192.4" cy="2113.0" r="5"/><circle cx="1171.4" cy="2127.7" r="5"/><circle cx="1205.3" cy="2089.8" r="5"/><circle cx="1179.2" cy="2126.5" r="5"/><circle cx="1201.8" cy="2103.7" r="5"/><circle cx="1204.9" cy="2087.9" r="5"/><circle cx="1185.2" cy="2114.4" r="5"/><circle cx="1194.6" cy="2114.3" r="5"/><circle cx="1219.7" cy="2081.1" r="5"/><circle cx="1196.9" cy="2098.4" r="5"/><circle cx="1203.9" cy="2088.7" r="5"/><circle cx="1189.8" cy="2097.0" r="5"/><circle cx="1191.8" cy="2117.7" r="5"/><circle cx="1172.7" cy="2120.4" r="5"/><circle cx="1196.3" cy="2113.7" r="5"/><circle cx="1211.6" cy="2078.7" r="5"/><circle cx="1185.4" cy="2114.3" r="5"/><circle cx="1179.6" cy="2122.9" r="5"/><circle cx="1182.9" cy="2107.3" r="5"/><circle cx="1183.4" cy="2115.8" r="5"/><circle cx="1176.3" cy="2118.4" r="5"/><circle cx="1212.1" cy="2095.0" r="5"/><circle cx="1186.9" cy="2110.0" r="5"/><circle cx="1198.7" cy="2096.3" r="5"/><circle cx="1186.6" cy="2124.1" r="5"/><circle cx="1175.2" cy="2122.8" r="5"/><circle cx="1180.0" cy="2115.5" r="5"/><circle cx="1191.2" cy="2111.9" r="5"/><circle cx="1215.2" cy="2081.8" r="5"/><circle cx="1188.4" cy="2101.8" r="5"/><circle cx="1188.2" cy="2104.5" r="5"/><circle cx="1194.7" cy="2110.5" r="5"/><circle cx="1194.6" cy="2101.7" r="5"/><circle cx="1181.8" cy="2119.6" r="5"/><circle cx="1190.7" cy="2101.4" r="5"/><circle cx="1188.6" cy="2117.6" r="5"/><circle cx="1167.6" cy="2134.8" r="5"/><circle cx="1181.7" cy="2131.5" r="5"/><circle cx="1202.9" cy="2096.5" r="5"/><circle cx="1199.1" cy="2099.6" r="5"/><circle cx="1190.8" cy="2096.2" r="5"/><circle cx="1198.3" cy="2103.0" r="5"/><circle cx="1175.4" cy="2134.2" r="5"/><circle cx="1196.3" cy="2089.6" r="5"/><circle cx="1184.8" cy="2113.7" r="5"/><circle cx="1186.5" cy="2116.6" r="5"/><circle cx="1173.8" cy="2128.5" r="5"/><circle cx="1198.3" cy="2104.0" r="5"/><circle cx="1192.3" cy="2104.4" r="5"/><circle cx="1195.0" cy="2087.9" r="5"/><circle cx="1204.5" cy="2088.2" r="5"/><circle cx="1173.4" cy="2127.4" r="5"/><circle cx="1159.3" cy="2133.4" r="5"/><circle cx="1185.1" cy="2109.7" r="5"/><circle cx="1199.6" cy="2090.2" r="5"/><circle cx="1170.8" cy="2126.7" r="5"/><circle cx="1137.0" cy="2145.3" r="5"/><circle cx="1162.0" cy="2143.0" r="5"/><circle cx="1191.7" cy="2144.0" r="5"/><circle cx="1168.0" cy="2110.0" r="5"/><circle cx="1208.5" cy="2069.0" r="5"/><circle cx="1198.0" cy="2074.0" r="5"/></g>
<circle cx="1391.6" cy="1899.2" r="4.6" fill="#2077b4"/>
<line x1="1125" y1="1886.6" x2="1125" y2="2158.5" stroke="#262626" stroke-width="2"/>
<line x1="1124" y1="2157.5" x2="1405" y2="2157.5" stroke="#262626" stroke-width="2"/>
<line x1="1115.2" y1="1892.7" x2="1125" y2="1892.7" stroke="#262626" stroke-width="2"/>
<text x="1108.5" y="1899.4" font-size="18.6" text-anchor="end" fill="#1a1a1a" font-family="'DejaVu Sans', sans-serif">0.880</text>
<line x1="1115.2" y1="1939.58" x2="1125" y2="1939.58" stroke="#262626" stroke-width="2"/>
<text x="1108.5" y="1946.28" font-size="18.6" text-anchor="end" fill="#1a1a1a" font-family="'DejaVu Sans', sans-serif">0.875</text>
<line x1="1115.2" y1="1986.46" x2="1125" y2="1986.46" stroke="#262626" stroke-width="2"/>
<text x="1108.5" y="1993.16" font-size="18.6" text-anchor="end" fill="#1a1a1a" font-family="'DejaVu Sans', sans-serif">0.870</text>
<line x1="1115.2" y1="2033.34" x2="1125" y2="2033.34" stroke="#262626" stroke-width="2"/>
<text x="1108.5" y="2040.04" font-size="18.6" text-anchor="end" fill="#1a1a1a" font-family="'DejaVu Sans', sans-serif">0.865</text>
<line x1="1115.2" y1="2080.22" x2="1125" y2="2080.22" stroke="#262626" stroke-width="2"/>
<text x="1108.5" y="2086.92" font-size="18.6" text-anchor="end" fill="#1a1a1a" font-family="'DejaVu Sans', sans-serif">0.860</text>
<line x1="1115.2" y1="2127.1" x2="1125" y2="2127.1" stroke="#262626" stroke-width="2"/>
<text x="1108.5" y="2133.8" font-size="18.6" text-anchor="end" fill="#1a1a1a" font-family="'DejaVu Sans', sans-serif">0.855</text>
<line x1="1212.3" y1="2157.5" x2="1212.3" y2="2167" stroke="#262626" stroke-width="2"/>
<text x="1212.3" y="2187.3" font-size="18.6" text-anchor="middle" fill="#1a1a1a" font-family="'DejaVu Sans', sans-serif">0.4</text>
<line x1="1313" y1="2157.5" x2="1313" y2="2167" stroke="#262626" stroke-width="2"/>
<text x="1313" y="2187.3" font-size="18.6" text-anchor="middle" fill="#1a1a1a" font-family="'DejaVu Sans', sans-serif">0.6</text>
<text x="1265" y="2213" font-size="20.2" text-anchor="middle" fill="#1a1a1a" font-family="'DejaVu Sans', sans-serif">fraction consistent hetero</text>
<text x="1046.7" y="2022.05" font-size="20.2" text-anchor="middle" fill="#1a1a1a" font-family="'DejaVu Sans', sans-serif" transform="rotate(-90 1046.7 2022.05)">fraction consistent homo</text>
<text x="1276.9" y="1924.3" font-size="20.2" fill="#2a7ab5" font-family="'DejaVu Sans', sans-serif">SM-CJGI5</text>
<text x="1276.9" y="1949" font-size="20.2" fill="#2a7ab5" font-family="'DejaVu Sans', sans-serif">D17-8772</text>
<text x="1276.9" y="1971.9" font-size="20.2" fill="#6a43a0" font-family="'DejaVu Sans', sans-serif">It's a match</text>
<g fill="#a6cae0" stroke="#fff" stroke-width="0.8"><circle cx="1571.3" cy="2103.7" r="5"/><circle cx="1563.5" cy="2112.2" r="5"/><circle cx="1584.2" cy="2087.9" r="5"/><circle cx="1588.8" cy="2072.7" r="5"/><circle cx="1567.4" cy="2099.6" r="5"/><circle cx="1556.8" cy="2116.2" r="5"/><circle cx="1573.8" cy="2100.4" r="5"/><circle cx="1584.7" cy="2100.9" r="5"/><circle cx="1575.9" cy="2082.9" r="5"/><circle cx="1569.7" cy="2097.5" r="5"/><circle cx="1566.2" cy="2116.1" r="5"/><circle cx="1558.5" cy="2100.9" r="5"/><circle cx="1572.5" cy="2096.6" r="5"/><circle cx="1548.3" cy="2120.9" r="5"/><circle cx="1559.7" cy="2113.9" r="5"/><circle cx="1563.0" cy="2110.7" r="5"/><circle cx="1593.2" cy="2068.2" r="5"/><circle cx="1556.2" cy="2116.5" r="5"/><circle cx="1582.6" cy="2081.5" r="5"/><circle cx="1585.4" cy="2073.7" r="5"/><circle cx="1553.6" cy="2121.0" r="5"/><circle cx="1554.0" cy="2116.3" r="5"/><circle cx="1578.3" cy="2097.3" r="5"/><circle cx="1569.7" cy="2100.1" r="5"/><circle cx="1590.3" cy="2080.6" r="5"/><circle cx="1570.0" cy="2110.9" r="5"/><circle cx="1556.3" cy="2119.4" r="5"/><circle cx="1578.7" cy="2091.3" r="5"/><circle cx="1561.8" cy="2114.2" r="5"/><circle cx="1558.8" cy="2110.7" r="5"/><circle cx="1558.7" cy="2125.0" r="5"/><circle cx="1565.1" cy="2116.2" r="5"/><circle cx="1573.7" cy="2095.5" r="5"/><circle cx="1579.9" cy="2092.1" r="5"/><circle cx="1565.9" cy="2096.4" r="5"/><circle cx="1573.3" cy="2104.5" r="5"/><circle cx="1579.9" cy="2097.5" r="5"/><circle cx="1592.5" cy="2078.0" r="5"/><circle cx="1592.6" cy="2063.5" r="5"/><circle cx="1556.2" cy="2099.5" r="5"/><circle cx="1581.5" cy="2088.8" r="5"/><circle cx="1592.6" cy="2072.1" r="5"/><circle cx="1543.8" cy="2142.6" r="5"/><circle cx="1544.5" cy="2122.7" r="5"/><circle cx="1568.7" cy="2108.0" r="5"/><circle cx="1562.2" cy="2112.5" r="5"/><circle cx="1547.6" cy="2141.5" r="5"/><circle cx="1568.4" cy="2104.6" r="5"/><circle cx="1578.3" cy="2093.2" r="5"/><circle cx="1568.5" cy="2096.6" r="5"/><circle cx="1568.9" cy="2106.3" r="5"/><circle cx="1584.0" cy="2084.2" r="5"/><circle cx="1571.6" cy="2102.4" r="5"/><circle cx="1578.2" cy="2093.6" r="5"/><circle cx="1563.4" cy="2105.9" r="5"/><circle cx="1586.7" cy="2084.1" r="5"/><circle cx="1582.1" cy="2113.4" r="5"/><circle cx="1585.2" cy="2090.1" r="5"/><circle cx="1567.5" cy="2097.2" r="5"/><circle cx="1585.5" cy="2082.7" r="5"/><circle cx="1573.6" cy="2105.2" r="5"/><circle cx="1584.9" cy="2085.8" r="5"/><circle cx="1577.0" cy="2109.1" r="5"/><circle cx="1573.7" cy="2089.7" r="5"/><circle cx="1580.6" cy="2090.2" r="5"/><circle cx="1572.0" cy="2104.5" r="5"/><circle cx="1579.8" cy="2105.0" r="5"/><circle cx="1572.9" cy="2100.2" r="5"/><circle cx="1584.1" cy="2080.8" r="5"/><circle cx="1583.7" cy="2085.0" r="5"/><circle cx="1583.3" cy="2079.5" r="5"/><circle cx="1569.3" cy="2090.7" r="5"/><circle cx="1562.5" cy="2110.8" r="5"/><circle cx="1583.6" cy="2100.4" r="5"/><circle cx="1591.2" cy="2066.5" r="5"/><circle cx="1562.4" cy="2120.2" r="5"/><circle cx="1570.5" cy="2091.1" r="5"/><circle cx="1572.0" cy="2091.0" r="5"/><circle cx="1551.7" cy="2114.2" r="5"/><circle cx="1573.4" cy="2114.5" r="5"/><circle cx="1574.2" cy="2096.0" r="5"/><circle cx="1565.8" cy="2104.8" r="5"/><circle cx="1574.1" cy="2094.6" r="5"/><circle cx="1589.4" cy="2076.5" r="5"/><circle cx="1578.1" cy="2093.8" r="5"/><circle cx="1552.8" cy="2115.1" r="5"/><circle cx="1559.8" cy="2096.8" r="5"/><circle cx="1569.5" cy="2103.0" r="5"/><circle cx="1570.8" cy="2100.2" r="5"/><circle cx="1572.9" cy="2095.7" r="5"/><circle cx="1572.5" cy="2086.7" r="5"/><circle cx="1579.2" cy="2084.3" r="5"/><circle cx="1574.5" cy="2093.0" r="5"/><circle cx="1559.8" cy="2108.0" r="5"/><circle cx="1584.8" cy="2076.0" r="5"/><circle cx="1552.0" cy="2124.9" r="5"/><circle cx="1573.0" cy="2098.6" r="5"/><circle cx="1552.4" cy="2117.9" r="5"/><circle cx="1578.6" cy="2083.9" r="5"/><circle cx="1580.7" cy="2094.5" r="5"/><circle cx="1566.5" cy="2096.9" r="5"/><circle cx="1597.6" cy="2069.9" r="5"/><circle cx="1570.5" cy="2098.4" r="5"/><circle cx="1554.1" cy="2118.8" r="5"/><circle cx="1568.9" cy="2096.9" r="5"/><circle cx="1575.0" cy="2104.5" r="5"/><circle cx="1575.1" cy="2095.0" r="5"/><circle cx="1587.8" cy="2087.4" r="5"/><circle cx="1579.4" cy="2084.7" r="5"/><circle cx="1545.2" cy="2137.3" r="5"/><circle cx="1568.6" cy="2100.8" r="5"/><circle cx="1574.5" cy="2093.1" r="5"/><circle cx="1566.6" cy="2119.4" r="5"/><circle cx="1548.7" cy="2133.4" r="5"/><circle cx="1590.4" cy="2090.6" r="5"/><circle cx="1574.6" cy="2100.1" r="5"/><circle cx="1555.7" cy="2119.1" r="5"/><circle cx="1536.1" cy="2138.1" r="5"/><circle cx="1568.2" cy="2103.1" r="5"/><circle cx="1566.3" cy="2115.0" r="5"/><circle cx="1546.2" cy="2131.3" r="5"/><circle cx="1563.3" cy="2110.1" r="5"/><circle cx="1577.0" cy="2108.0" r="5"/><circle cx="1558.3" cy="2125.8" r="5"/><circle cx="1589.2" cy="2078.0" r="5"/><circle cx="1555.5" cy="2109.9" r="5"/><circle cx="1563.9" cy="2124.3" r="5"/><circle cx="1565.8" cy="2121.0" r="5"/><circle cx="1568.7" cy="2093.3" r="5"/><circle cx="1562.1" cy="2112.7" r="5"/><circle cx="1567.4" cy="2097.9" r="5"/><circle cx="1563.2" cy="2106.5" r="5"/><circle cx="1577.2" cy="2095.3" r="5"/><circle cx="1570.2" cy="2097.2" r="5"/><circle cx="1578.6" cy="2087.4" r="5"/><circle cx="1555.2" cy="2116.2" r="5"/><circle cx="1563.1" cy="2107.7" r="5"/><circle cx="1545.6" cy="2141.0" r="5"/><circle cx="1583.0" cy="2096.1" r="5"/><circle cx="1566.0" cy="2112.2" r="5"/><circle cx="1572.1" cy="2099.6" r="5"/><circle cx="1593.2" cy="2069.7" r="5"/><circle cx="1571.1" cy="2087.6" r="5"/><circle cx="1576.7" cy="2092.6" r="5"/><circle cx="1551.9" cy="2119.0" r="5"/><circle cx="1561.8" cy="2091.9" r="5"/><circle cx="1588.5" cy="2087.0" r="5"/><circle cx="1552.5" cy="2111.6" r="5"/><circle cx="1543.8" cy="2123.6" r="5"/><circle cx="1565.9" cy="2122.9" r="5"/><circle cx="1555.2" cy="2125.1" r="5"/><circle cx="1583.9" cy="2078.2" r="5"/><circle cx="1567.6" cy="2109.7" r="5"/><circle cx="1564.0" cy="2118.3" r="5"/><circle cx="1559.1" cy="2119.3" r="5"/><circle cx="1571.2" cy="2094.8" r="5"/><circle cx="1567.3" cy="2105.7" r="5"/><circle cx="1580.6" cy="2097.7" r="5"/><circle cx="1557.1" cy="2107.5" r="5"/><circle cx="1551.9" cy="2137.2" r="5"/><circle cx="1561.4" cy="2109.1" r="5"/><circle cx="1556.9" cy="2113.5" r="5"/><circle cx="1580.1" cy="2092.9" r="5"/><circle cx="1583.2" cy="2102.9" r="5"/><circle cx="1585.0" cy="2075.8" r="5"/><circle cx="1577.7" cy="2097.1" r="5"/><circle cx="1566.6" cy="2123.2" r="5"/><circle cx="1588.1" cy="2091.5" r="5"/><circle cx="1557.0" cy="2108.8" r="5"/><circle cx="1579.4" cy="2089.1" r="5"/><circle cx="1560.1" cy="2112.9" r="5"/><circle cx="1572.6" cy="2099.8" r="5"/><circle cx="1567.7" cy="2108.1" r="5"/><circle cx="1569.0" cy="2118.3" r="5"/><circle cx="1556.2" cy="2106.7" r="5"/><circle cx="1541.0" cy="2121.1" r="5"/><circle cx="1581.9" cy="2079.3" r="5"/><circle cx="1545.8" cy="2126.5" r="5"/><circle cx="1561.3" cy="2102.8" r="5"/><circle cx="1560.4" cy="2113.2" r="5"/><circle cx="1575.0" cy="2088.7" r="5"/><circle cx="1578.1" cy="2094.0" r="5"/><circle cx="1575.0" cy="2091.8" r="5"/><circle cx="1555.2" cy="2126.6" r="5"/><circle cx="1575.0" cy="2090.8" r="5"/><circle cx="1559.8" cy="2119.1" r="5"/><circle cx="1600.1" cy="2068.6" r="5"/><circle cx="1575.7" cy="2098.6" r="5"/><circle cx="1579.4" cy="2079.3" r="5"/><circle cx="1575.8" cy="2104.4" r="5"/><circle cx="1546.6" cy="2131.5" r="5"/><circle cx="1586.3" cy="2095.2" r="5"/><circle cx="1592.0" cy="2075.3" r="5"/><circle cx="1595.4" cy="2063.1" r="5"/><circle cx="1553.1" cy="2131.9" r="5"/><circle cx="1574.6" cy="2087.7" r="5"/><circle cx="1588.2" cy="2086.5" r="5"/><circle cx="1578.1" cy="2088.8" r="5"/><circle cx="1543.7" cy="2120.4" r="5"/><circle cx="1565.1" cy="2106.4" r="5"/><circle cx="1559.3" cy="2110.4" r="5"/><circle cx="1578.4" cy="2083.2" r="5"/><circle cx="1565.2" cy="2122.3" r="5"/><circle cx="1557.1" cy="2112.4" r="5"/><circle cx="1578.0" cy="2078.6" r="5"/><circle cx="1588.2" cy="2070.4" r="5"/><circle cx="1551.8" cy="2113.9" r="5"/><circle cx="1552.0" cy="2117.8" r="5"/><circle cx="1582.5" cy="2086.4" r="5"/><circle cx="1592.2" cy="2081.1" r="5"/><circle cx="1550.5" cy="2125.2" r="5"/><circle cx="1558.2" cy="2112.6" r="5"/><circle cx="1572.1" cy="2102.1" r="5"/><circle cx="1567.5" cy="2088.8" r="5"/><circle cx="1564.9" cy="2104.4" r="5"/><circle cx="1595.5" cy="2069.5" r="5"/><circle cx="1568.4" cy="2103.7" r="5"/><circle cx="1576.2" cy="2085.7" r="5"/><circle cx="1566.5" cy="2105.0" r="5"/><circle cx="1567.6" cy="2102.7" r="5"/><circle cx="1561.1" cy="2113.0" r="5"/><circle cx="1555.2" cy="2131.6" r="5"/><circle cx="1562.0" cy="2097.7" r="5"/><circle cx="1568.1" cy="2111.1" r="5"/><circle cx="1565.3" cy="2106.2" r="5"/><circle cx="1562.4" cy="2096.0" r="5"/><circle cx="1567.6" cy="2115.6" r="5"/><circle cx="1569.0" cy="2091.7" r="5"/><circle cx="1561.4" cy="2113.8" r="5"/><circle cx="1600.5" cy="2067.2" r="5"/><circle cx="1578.6" cy="2089.1" r="5"/><circle cx="1565.8" cy="2099.2" r="5"/><circle cx="1544.2" cy="2122.3" r="5"/><circle cx="1564.7" cy="2117.5" r="5"/><circle cx="1572.7" cy="2107.5" r="5"/><circle cx="1580.9" cy="2089.9" r="5"/><circle cx="1569.4" cy="2118.7" r="5"/><circle cx="1590.3" cy="2086.8" r="5"/><circle cx="1573.7" cy="2100.3" r="5"/><circle cx="1585.5" cy="2100.2" r="5"/><circle cx="1547.1" cy="2115.4" r="5"/><circle cx="1561.7" cy="2111.7" r="5"/><circle cx="1563.7" cy="2116.3" r="5"/><circle cx="1577.8" cy="2092.3" r="5"/><circle cx="1577.1" cy="2107.7" r="5"/><circle cx="1605.1" cy="2073.0" r="5"/><circle cx="1568.0" cy="2113.4" r="5"/><circle cx="1545.1" cy="2117.8" r="5"/><circle cx="1597.7" cy="2075.4" r="5"/><circle cx="1584.4" cy="2095.4" r="5"/><circle cx="1594.9" cy="2074.3" r="5"/><circle cx="1575.5" cy="2099.9" r="5"/><circle cx="1582.5" cy="2088.4" r="5"/><circle cx="1558.4" cy="2134.5" r="5"/><circle cx="1555.8" cy="2114.3" r="5"/><circle cx="1577.9" cy="2092.1" r="5"/><circle cx="1586.0" cy="2100.9" r="5"/><circle cx="1588.7" cy="2076.1" r="5"/><circle cx="1573.9" cy="2096.8" r="5"/><circle cx="1584.7" cy="2077.7" r="5"/><circle cx="1516.7" cy="2138.5" r="5"/><circle cx="1543.8" cy="2139.6" r="5"/><circle cx="1564.0" cy="2145.0" r="5"/><circle cx="1544.0" cy="2105.0" r="5"/><circle cx="1581.0" cy="2126.0" r="5"/><circle cx="1600.0" cy="2067.0" r="5"/><circle cx="1601.0" cy="2086.0" r="5"/><circle cx="1600.0" cy="2094.0" r="5"/></g>
<circle cx="1769" cy="1899" r="4.6" fill="#2077b4"/>
<line x1="1503.6" y1="1886.9" x2="1503.6" y2="2158" stroke="#262626" stroke-width="2"/>
<line x1="1502.6" y1="2157" x2="1782.3" y2="2157" stroke="#262626" stroke-width="2"/>
<line x1="1493.8" y1="1895.4" x2="1503.6" y2="1895.4" stroke="#262626" stroke-width="2"/>
<text x="1487.1" y="1902.1" font-size="18.6" text-anchor="end" fill="#1a1a1a" font-family="'DejaVu Sans', sans-serif">0.865</text>
<line x1="1493.8" y1="1935.47" x2="1503.6" y2="1935.47" stroke="#262626" stroke-width="2"/>
<text x="1487.1" y="1942.17" font-size="18.6" text-anchor="end" fill="#1a1a1a" font-family="'DejaVu Sans', sans-serif">0.860</text>
<line x1="1493.8" y1="1975.54" x2="1503.6" y2="1975.54" stroke="#262626" stroke-width="2"/>
<text x="1487.1" y="1982.24" font-size="18.6" text-anchor="end" fill="#1a1a1a" font-family="'DejaVu Sans', sans-serif">0.855</text>
<line x1="1493.8" y1="2015.61" x2="1503.6" y2="2015.61" stroke="#262626" stroke-width="2"/>
<text x="1487.1" y="2022.31" font-size="18.6" text-anchor="end" fill="#1a1a1a" font-family="'DejaVu Sans', sans-serif">0.850</text>
<line x1="1493.8" y1="2055.68" x2="1503.6" y2="2055.68" stroke="#262626" stroke-width="2"/>
<text x="1487.1" y="2062.38" font-size="18.6" text-anchor="end" fill="#1a1a1a" font-family="'DejaVu Sans', sans-serif">0.845</text>
<line x1="1493.8" y1="2095.75" x2="1503.6" y2="2095.75" stroke="#262626" stroke-width="2"/>
<text x="1487.1" y="2102.45" font-size="18.6" text-anchor="end" fill="#1a1a1a" font-family="'DejaVu Sans', sans-serif">0.840</text>
<line x1="1493.8" y1="2135.82" x2="1503.6" y2="2135.82" stroke="#262626" stroke-width="2"/>
<text x="1487.1" y="2142.52" font-size="18.6" text-anchor="end" fill="#1a1a1a" font-family="'DejaVu Sans', sans-serif">0.835</text>
<line x1="1556" y1="2157" x2="1556" y2="2166.5" stroke="#262626" stroke-width="2"/>
<text x="1556" y="2186.7" font-size="18.6" text-anchor="middle" fill="#1a1a1a" font-family="'DejaVu Sans', sans-serif">0.4</text>
<line x1="1645.9" y1="2157" x2="1645.9" y2="2166.5" stroke="#262626" stroke-width="2"/>
<text x="1645.9" y="2186.7" font-size="18.6" text-anchor="middle" fill="#1a1a1a" font-family="'DejaVu Sans', sans-serif">0.6</text>
<line x1="1737" y1="2157" x2="1737" y2="2166.5" stroke="#262626" stroke-width="2"/>
<text x="1737" y="2186.7" font-size="18.6" text-anchor="middle" fill="#1a1a1a" font-family="'DejaVu Sans', sans-serif">0.8</text>
<text x="1642.95" y="2212.2" font-size="20.2" text-anchor="middle" fill="#1a1a1a" font-family="'DejaVu Sans', sans-serif">fraction consistent hetero</text>
<text x="1425.3" y="2021.95" font-size="20.2" text-anchor="middle" fill="#1a1a1a" font-family="'DejaVu Sans', sans-serif" transform="rotate(-90 1425.3 2021.95)">fraction consistent homo</text>
<text x="1650.2" y="1919.4" font-size="20.2" fill="#2a7ab5" font-family="'DejaVu Sans', sans-serif">SM-CJIYK</text>
<text x="1650.2" y="1940" font-size="20.2" fill="#2a7ab5" font-family="'DejaVu Sans', sans-serif">D17-8778</text>
<text x="1650.2" y="1961" font-size="20.2" fill="#6a43a0" font-family="'DejaVu Sans', sans-serif">It's a match</text>
<defs><filter id="spk" x="-10%" y="-10%" width="120%" height="120%"><feGaussianBlur in="SourceGraphic" stdDeviation="2.2" result="b"/><feTurbulence type="fractalNoise" baseFrequency="1.05" numOctaves="1" seed="7" result="n"/><feColorMatrix in="n" type="matrix" values="0 0 0 0 0 0 0 0 0 0 0 0 0 0 0 0 0 0 -2.6 2.05" result="m"/><feComposite in="b" in2="m" operator="in"/></filter></defs>
<g filter="url(#spk)"><path d="M1273.4 2369.6C1274.7 2366.4 1277.1 2363.6 1280.1 2362.0C1283.1 2360.4 1287.0 2360.1 1291.5 2360.1C1296.0 2360.1 1303.0 2360.7 1306.8 2362.0C1310.6 2363.3 1313.3 2365.5 1314.4 2367.7C1315.5 2369.9 1314.8 2373.7 1313.5 2375.4C1312.2 2377.2 1309.8 2377.2 1306.8 2378.2C1303.8 2379.1 1298.9 2379.7 1295.4 2381.1C1291.9 2382.5 1289.0 2385.5 1285.8 2386.8C1282.6 2388.1 1278.5 2389.6 1276.3 2388.7C1274.1 2387.8 1273.0 2384.3 1272.5 2381.1C1272.0 2377.9 1272.1 2372.8 1273.4 2369.6Z" fill="#2fa386" fill-opacity="0.75"/><path d="M1247.7 2396.3C1249.6 2394.7 1253.1 2393.6 1257.2 2392.5C1261.3 2391.4 1267.7 2390.3 1272.5 2389.7C1277.3 2389.1 1282.0 2387.9 1285.8 2388.7C1289.6 2389.5 1294.0 2391.5 1295.4 2394.4C1296.8 2397.3 1295.1 2402.7 1294.4 2405.9C1293.8 2409.1 1291.5 2411.0 1291.5 2413.5C1291.5 2416.0 1294.7 2418.5 1294.4 2421.1C1294.1 2423.7 1292.0 2426.6 1289.6 2428.8C1287.2 2431.0 1283.6 2433.9 1280.1 2434.5C1276.6 2435.1 1272.8 2434.2 1268.7 2432.6C1264.6 2431.0 1258.8 2428.2 1255.3 2425.0C1251.8 2421.8 1249.3 2417.3 1247.7 2413.5C1246.1 2409.7 1245.8 2405.0 1245.8 2402.1C1245.8 2399.2 1245.8 2397.9 1247.7 2396.3Z" fill="#2fa386" fill-opacity="0.75"/><path d="M1352.6 2329.6C1354.8 2327.4 1360.8 2327.1 1364.0 2327.7C1367.2 2328.3 1368.5 2330.9 1371.7 2333.4C1374.9 2335.9 1379.3 2339.7 1383.1 2342.9C1386.9 2346.1 1390.0 2349.6 1394.5 2352.5C1399.0 2355.4 1404.7 2356.9 1409.8 2360.1C1414.9 2363.3 1421.0 2368.6 1425.1 2371.5C1429.2 2374.4 1431.8 2376.0 1434.6 2377.3C1437.4 2378.6 1443.2 2378.2 1442.2 2379.2C1441.2 2380.1 1434.3 2381.4 1428.9 2383.0C1423.5 2384.6 1414.9 2387.1 1409.8 2388.7C1404.7 2390.3 1401.6 2391.1 1398.4 2392.5C1395.2 2393.9 1393.2 2397.6 1390.7 2397.3C1388.2 2397.0 1386.3 2392.3 1383.1 2390.6C1379.9 2388.8 1375.8 2388.1 1371.7 2386.8C1367.6 2385.5 1361.8 2384.9 1358.3 2383.0C1354.8 2381.1 1352.6 2378.6 1350.7 2375.4C1348.8 2372.2 1347.2 2367.7 1346.9 2363.9C1346.6 2360.1 1348.2 2356.3 1348.8 2352.5C1349.4 2348.7 1350.1 2344.8 1350.7 2341.0C1351.3 2337.2 1350.4 2331.8 1352.6 2329.6Z" fill="#2fa386" fill-opacity="0.62"/><path d="M1349.0 2335.0C1351.5 2330.0 1358.8 2328.3 1362.0 2330.0C1365.2 2331.7 1367.3 2338.3 1368.0 2345.0C1368.7 2351.7 1365.3 2364.2 1366.0 2370.0C1366.7 2375.8 1367.2 2377.7 1372.0 2380.0C1376.8 2382.3 1388.7 2383.0 1395.0 2384.0C1401.3 2385.0 1409.5 2384.7 1410.0 2386.0C1410.5 2387.3 1401.3 2390.3 1398.0 2392.0C1394.7 2393.7 1393.0 2396.5 1390.0 2396.0C1387.0 2395.5 1385.0 2391.0 1380.0 2389.0C1375.0 2387.0 1365.0 2386.2 1360.0 2384.0C1355.0 2381.8 1352.2 2380.0 1350.0 2376.0C1347.8 2372.0 1347.2 2366.8 1347.0 2360.0C1346.8 2353.2 1346.5 2340.0 1349.0 2335.0Z" fill="#2fa386" fill-opacity="0.5"/><path d="M1393.0 2361.0C1393.0 2363.4 1391.5 2366.4 1389.5 2368.1C1387.5 2369.7 1383.8 2371.0 1381.0 2371.0C1378.2 2371.0 1374.5 2369.7 1372.5 2368.1C1370.5 2366.4 1369.0 2363.4 1369.0 2361.0C1369.0 2358.6 1370.5 2355.6 1372.5 2353.9C1374.5 2352.3 1378.2 2351.0 1381.0 2351.0C1383.8 2351.0 1387.5 2352.3 1389.5 2353.9C1391.5 2355.6 1393.0 2358.6 1393.0 2361.0Z" fill="#ffffff" fill-opacity="0.4"/><path d="M1292.0 2404.0C1292.0 2406.6 1290.9 2409.9 1289.4 2411.8C1287.9 2413.6 1285.1 2415.0 1283.0 2415.0C1280.9 2415.0 1278.1 2413.6 1276.6 2411.8C1275.1 2409.9 1274.0 2406.6 1274.0 2404.0C1274.0 2401.4 1275.1 2398.1 1276.6 2396.2C1278.1 2394.4 1280.9 2393.0 1283.0 2393.0C1285.1 2393.0 1287.9 2394.4 1289.4 2396.2C1290.9 2398.1 1292.0 2401.4 1292.0 2404.0Z" fill="#ffffff" fill-opacity="0.4"/><path d="M1424.0 2373.0C1424.0 2373.9 1423.0 2375.2 1421.7 2375.8C1420.3 2376.5 1417.9 2377.0 1416.0 2377.0C1414.1 2377.0 1411.7 2376.5 1410.3 2375.8C1409.0 2375.2 1408.0 2373.9 1408.0 2373.0C1408.0 2372.1 1409.0 2370.8 1410.3 2370.2C1411.7 2369.5 1414.1 2369.0 1416.0 2369.0C1417.9 2369.0 1420.3 2369.5 1421.7 2370.2C1423.0 2370.8 1424.0 2372.1 1424.0 2373.0Z" fill="#ffffff" fill-opacity="0.35"/><path d="M1476.0 2386.0C1476.0 2387.6 1474.9 2389.8 1473.4 2390.9C1471.9 2392.1 1469.1 2393.0 1467.0 2393.0C1464.9 2393.0 1462.1 2392.1 1460.6 2390.9C1459.1 2389.8 1458.0 2387.6 1458.0 2386.0C1458.0 2384.4 1459.1 2382.2 1460.6 2381.1C1462.1 2379.9 1464.9 2379.0 1467.0 2379.0C1469.1 2379.0 1471.9 2379.9 1473.4 2381.1C1474.9 2382.2 1476.0 2384.4 1476.0 2386.0Z" fill="#2fa386" fill-opacity="0.9"/><path d="M1505.0 2390.0C1505.0 2392.8 1503.7 2396.5 1502.1 2398.5C1500.4 2400.5 1497.4 2402.0 1495.0 2402.0C1492.6 2402.0 1489.6 2400.5 1487.9 2398.5C1486.3 2396.5 1485.0 2392.8 1485.0 2390.0C1485.0 2387.2 1486.3 2383.5 1487.9 2381.5C1489.6 2379.5 1492.6 2378.0 1495.0 2378.0C1497.4 2378.0 1500.4 2379.5 1502.1 2381.5C1503.7 2383.5 1505.0 2387.2 1505.0 2390.0Z" fill="#2fa386" fill-opacity="0.9"/><path d="M1477.0 2426.0C1478.3 2425.5 1484.2 2431.3 1488.0 2431.0C1491.8 2430.7 1498.2 2423.5 1500.0 2424.0C1501.8 2424.5 1500.7 2431.5 1499.0 2434.0C1497.3 2436.5 1493.2 2439.0 1490.0 2439.0C1486.8 2439.0 1482.2 2436.2 1480.0 2434.0C1477.8 2431.8 1475.7 2426.5 1477.0 2426.0Z" fill="#2fa386" fill-opacity="0.9"/><path d="M1436.8 2310.8C1438.5 2308.2 1441.9 2305.9 1445.2 2303.8C1448.5 2301.7 1452.4 2298.9 1456.4 2298.2C1460.4 2297.5 1465.0 2298.7 1469.0 2299.6C1473.0 2300.5 1476.8 2301.9 1480.1 2303.8C1483.3 2305.7 1486.4 2308.5 1488.5 2310.8C1490.6 2313.1 1490.6 2315.2 1492.7 2317.8C1494.8 2320.4 1498.3 2324.3 1501.1 2326.2C1503.9 2328.1 1508.1 2327.4 1509.5 2329.0C1510.9 2330.6 1510.7 2334.5 1509.5 2335.9C1508.3 2337.3 1505.3 2337.5 1502.5 2337.3C1499.7 2337.1 1495.5 2334.3 1492.7 2334.5C1489.9 2334.7 1488.0 2337.1 1485.7 2338.7C1483.4 2340.3 1481.7 2343.2 1478.7 2344.3C1475.7 2345.4 1471.3 2345.5 1467.6 2345.0C1463.9 2344.5 1460.1 2342.8 1456.4 2341.5C1452.7 2340.2 1448.5 2339.4 1445.2 2337.3C1441.9 2335.2 1438.5 2332.0 1436.8 2329.0C1435.0 2326.0 1434.7 2322.2 1434.7 2319.2C1434.7 2316.2 1435.0 2313.4 1436.8 2310.8Z" fill="#e96b63" fill-opacity="0.85"/><path d="M1222.0 2516.0C1223.8 2511.8 1227.3 2505.7 1230.3 2502.0C1233.3 2498.3 1236.4 2495.7 1240.1 2493.6C1243.8 2491.5 1248.3 2489.6 1252.7 2489.4C1257.1 2489.2 1262.0 2490.8 1266.7 2492.2C1271.4 2493.6 1276.5 2495.7 1280.7 2497.8C1284.9 2499.9 1288.4 2502.2 1291.9 2504.8C1295.4 2507.4 1298.9 2510.3 1301.7 2513.1C1304.5 2515.9 1308.5 2518.7 1308.7 2521.5C1308.9 2524.3 1305.9 2527.1 1303.1 2529.9C1300.3 2532.7 1295.6 2535.0 1291.9 2538.3C1288.2 2541.6 1284.4 2545.8 1280.7 2549.5C1277.0 2553.2 1273.2 2557.0 1269.5 2560.7C1265.8 2564.4 1262.0 2568.2 1258.3 2571.9C1254.6 2575.6 1250.4 2581.7 1247.1 2583.1C1243.8 2584.5 1241.3 2582.6 1238.7 2580.3C1236.1 2578.0 1234.0 2573.3 1231.7 2569.1C1229.4 2564.9 1226.7 2559.8 1224.8 2555.1C1222.9 2550.4 1221.5 2545.8 1220.6 2541.1C1219.7 2536.4 1219.0 2531.3 1219.2 2527.1C1219.4 2522.9 1220.2 2520.2 1222.0 2516.0Z" fill="#ef8f78" fill-opacity="0.85"/><path d="M1357.2 2485.8C1357.8 2479.1 1360.4 2463.5 1362.9 2457.2C1365.4 2450.8 1368.3 2449.6 1372.4 2447.7C1376.5 2445.8 1383.6 2444.9 1387.7 2445.8C1391.8 2446.8 1394.4 2451.5 1397.2 2453.4C1400.0 2455.3 1401.9 2455.9 1404.8 2457.2C1407.7 2458.5 1411.9 2458.4 1414.4 2461.0C1417.0 2463.6 1418.8 2469.0 1420.1 2472.5C1421.4 2476.0 1422.6 2479.8 1422.0 2482.0C1421.4 2484.2 1419.5 2484.5 1416.3 2485.8C1413.1 2487.1 1407.0 2488.0 1402.9 2489.6C1398.8 2491.2 1394.7 2493.5 1391.5 2495.4C1388.3 2497.3 1387.7 2499.8 1383.9 2501.1C1380.1 2502.4 1372.7 2503.6 1368.6 2503.0C1364.5 2502.4 1361.0 2500.2 1359.1 2497.3C1357.2 2494.4 1356.6 2492.5 1357.2 2485.8Z" fill="#4fbcd6" fill-opacity="0.85"/><path d="M1400.0 2520.0C1406.3 2513.3 1422.5 2511.7 1430.0 2505.0C1437.5 2498.3 1438.3 2485.8 1445.0 2480.0C1451.7 2474.2 1460.8 2470.7 1470.0 2470.0C1479.2 2469.3 1493.0 2471.0 1500.0 2476.0C1507.0 2481.0 1510.3 2489.3 1512.0 2500.0C1513.7 2510.7 1508.7 2529.2 1510.0 2540.0C1511.3 2550.8 1521.7 2558.0 1520.0 2565.0C1518.3 2572.0 1506.7 2577.8 1500.0 2582.0C1493.3 2586.2 1484.2 2582.8 1480.0 2590.0C1475.8 2597.2 1478.3 2616.3 1475.0 2625.0C1471.7 2633.7 1467.5 2640.2 1460.0 2642.0C1452.5 2643.8 1439.2 2641.0 1430.0 2636.0C1420.8 2631.0 1411.3 2621.3 1405.0 2612.0C1398.7 2602.7 1394.2 2591.2 1392.0 2580.0C1389.8 2568.8 1390.7 2555.0 1392.0 2545.0C1393.3 2535.0 1393.7 2526.7 1400.0 2520.0Z" fill="#4fbcd6" fill-opacity="0.2"/><path d="M1402.9 2522.7C1405.1 2518.6 1408.7 2517.0 1412.5 2515.1C1416.3 2513.2 1422.0 2512.6 1425.8 2511.3C1429.6 2510.0 1431.9 2507.4 1435.4 2507.4C1438.9 2507.4 1444.9 2506.9 1446.8 2511.3C1448.7 2515.8 1447.4 2527.1 1446.8 2534.1C1446.2 2541.1 1443.3 2546.8 1443.0 2553.2C1442.7 2559.6 1443.0 2565.3 1444.9 2572.3C1446.8 2579.3 1450.6 2589.2 1454.4 2595.2C1458.2 2601.2 1464.6 2604.4 1467.8 2608.5C1471.0 2612.6 1473.2 2615.9 1473.5 2620.0C1473.8 2624.1 1472.2 2629.8 1469.7 2633.3C1467.2 2636.8 1462.4 2640.1 1458.3 2641.0C1454.2 2641.9 1449.4 2640.3 1444.9 2639.0C1440.5 2637.7 1436.0 2636.2 1431.6 2633.3C1427.1 2630.5 1421.7 2625.7 1418.2 2621.9C1414.7 2618.1 1412.8 2614.9 1410.6 2610.4C1408.4 2605.9 1406.7 2600.9 1404.8 2595.2C1402.9 2589.5 1400.4 2582.1 1399.1 2576.1C1397.8 2570.1 1397.2 2565.0 1397.2 2559.0C1397.2 2553.0 1398.1 2546.0 1399.1 2539.9C1400.0 2533.8 1400.7 2526.8 1402.9 2522.7Z" fill="#4fbcd6" fill-opacity="0.9"/><path d="M1457.0 2496.0C1457.0 2499.1 1455.6 2503.0 1453.8 2505.2C1451.9 2507.4 1448.6 2509.0 1446.0 2509.0C1443.4 2509.0 1440.1 2507.4 1438.2 2505.2C1436.4 2503.0 1435.0 2499.1 1435.0 2496.0C1435.0 2492.9 1436.4 2489.0 1438.2 2486.8C1440.1 2484.6 1443.4 2483.0 1446.0 2483.0C1448.6 2483.0 1451.9 2484.6 1453.8 2486.8C1455.6 2489.0 1457.0 2492.9 1457.0 2496.0Z" fill="#4fbcd6" fill-opacity="0.85"/><path d="M1471.6 2472.5C1473.8 2469.8 1480.2 2470.6 1485.0 2471.5C1489.8 2472.4 1496.4 2474.8 1500.2 2478.2C1504.0 2481.5 1505.9 2485.9 1507.8 2491.6C1509.7 2497.3 1512.3 2508.1 1511.7 2512.5C1511.1 2516.9 1507.2 2516.7 1504.0 2518.3C1500.8 2519.9 1494.8 2519.6 1492.6 2522.1C1490.4 2524.6 1492.6 2533.2 1490.7 2533.5C1488.8 2533.8 1483.3 2528.8 1481.1 2524.0C1478.9 2519.2 1478.8 2511.0 1477.3 2505.0C1475.8 2499.0 1473.0 2493.4 1472.0 2488.0C1471.0 2482.6 1469.4 2475.2 1471.6 2472.5Z" fill="#4fbcd6" fill-opacity="0.88"/><path d="M1519.5 2560.0C1519.5 2563.5 1518.2 2567.7 1516.2 2570.6C1514.1 2573.4 1510.7 2576.0 1507.4 2577.1C1504.1 2578.2 1499.9 2578.2 1496.6 2577.1C1493.3 2576.0 1489.9 2573.4 1487.8 2570.6C1485.8 2567.7 1484.5 2563.5 1484.5 2560.0C1484.5 2556.5 1485.8 2552.3 1487.8 2549.4C1489.9 2546.6 1493.3 2544.0 1496.6 2542.9C1499.9 2541.8 1504.1 2541.8 1507.4 2542.9C1510.7 2544.0 1514.1 2546.6 1516.2 2549.4C1518.2 2552.3 1519.5 2556.5 1519.5 2560.0Z" fill="#4fbcd6" fill-opacity="0.88"/><path d="M1405.0 2414.0C1406.8 2410.7 1414.7 2411.0 1418.0 2412.0C1421.3 2413.0 1424.2 2416.5 1425.0 2420.0C1425.8 2423.5 1424.8 2430.0 1423.0 2433.0C1421.2 2436.0 1416.7 2438.2 1414.0 2438.0C1411.3 2437.8 1408.5 2436.0 1407.0 2432.0C1405.5 2428.0 1403.2 2417.3 1405.0 2414.0Z" fill="#4fbcd6" fill-opacity="0.75"/><path d="M1432.0 2436.0C1432.8 2432.3 1439.0 2423.2 1442.0 2420.0C1445.0 2416.8 1449.0 2415.3 1450.0 2417.0C1451.0 2418.7 1447.7 2426.2 1448.0 2430.0C1448.3 2433.8 1452.3 2437.7 1452.0 2440.0C1451.7 2442.3 1448.5 2443.7 1446.0 2444.0C1443.5 2444.3 1439.3 2443.3 1437.0 2442.0C1434.7 2440.7 1431.2 2439.7 1432.0 2436.0Z" fill="#4fbcd6" fill-opacity="0.75"/><path d="M1525.0 2432.0C1528.5 2429.5 1547.7 2428.3 1551.0 2431.0C1554.3 2433.7 1547.2 2443.7 1545.0 2448.0C1542.8 2452.3 1540.5 2457.3 1538.0 2457.0C1535.5 2456.7 1532.2 2450.2 1530.0 2446.0C1527.8 2441.8 1521.5 2434.5 1525.0 2432.0Z" fill="#4fbcd6" fill-opacity="0.6"/><path d="M1590.5 2416.5C1590.5 2418.9 1589.3 2421.9 1587.7 2423.6C1586.1 2425.2 1583.2 2426.5 1581.0 2426.5C1578.8 2426.5 1575.9 2425.2 1574.3 2423.6C1572.7 2421.9 1571.5 2418.9 1571.5 2416.5C1571.5 2414.1 1572.7 2411.1 1574.3 2409.4C1575.9 2407.8 1578.8 2406.5 1581.0 2406.5C1583.2 2406.5 1586.1 2407.8 1587.7 2409.4C1589.3 2411.1 1590.5 2414.1 1590.5 2416.5Z" fill="#4fbcd6" fill-opacity="0.7"/><path d="M1578.0 2512.0C1581.7 2510.3 1589.7 2512.3 1595.0 2514.0C1600.3 2515.7 1606.0 2518.8 1610.0 2522.0C1614.0 2525.2 1618.0 2529.2 1619.0 2533.0C1620.0 2536.8 1618.7 2542.3 1616.0 2545.0C1613.3 2547.7 1607.7 2548.8 1603.0 2549.0C1598.3 2549.2 1592.3 2548.2 1588.0 2546.0C1583.7 2543.8 1579.5 2539.7 1577.0 2536.0C1574.5 2532.3 1572.8 2528.0 1573.0 2524.0C1573.2 2520.0 1574.3 2513.7 1578.0 2512.0Z" fill="#858ac0" fill-opacity="0.72"/><path d="M1381.5 2669.0C1381.5 2672.9 1379.8 2677.6 1377.1 2680.8C1374.5 2683.9 1369.9 2686.8 1365.6 2688.0C1361.3 2689.2 1355.7 2689.2 1351.4 2688.0C1347.1 2686.8 1342.5 2683.9 1339.9 2680.8C1337.2 2677.6 1335.5 2672.9 1335.5 2669.0C1335.5 2665.1 1337.2 2660.4 1339.9 2657.2C1342.5 2654.1 1347.1 2651.2 1351.4 2650.0C1355.7 2648.8 1361.3 2648.8 1365.6 2650.0C1369.9 2651.2 1374.5 2654.1 1377.1 2657.2C1379.8 2660.4 1381.5 2665.1 1381.5 2669.0Z" fill="#858ac0" fill-opacity="0.8"/></g>
<text x="1190.2" y="2324" font-size="24.2">Inhibitory neurons</text>
<text x="1481.5" y="2371.6" font-size="24.2">Astrocytes</text>
<text x="1175.5" y="2481.4" font-size="24.2">Oligodendrocytes</text>
<text x="1557.2" y="2493.8" font-size="24.2">OPCs</text>
<text x="1280.2" y="2646" font-size="24.2">Microglia</text>
<text x="1425.6" y="2676.2" font-size="24.2">Excitatory neurons</text>
<line x1="1352.6" y1="2328.5" x2="1368.8" y2="2356.3" stroke="#111" stroke-width="1.3"/>
<line x1="1471" y1="2324" x2="1487.8" y2="2350.6" stroke="#111" stroke-width="1.3"/>
<line x1="1224.8" y1="2487.3" x2="1241.5" y2="2513.8" stroke="#111" stroke-width="1.3"/>
<line x1="1571.7" y1="2498.2" x2="1588" y2="2525" stroke="#111" stroke-width="1.3"/>
<line x1="1322.7" y1="2650.2" x2="1338.7" y2="2678.2" stroke="#111" stroke-width="1.3"/>
<line x1="1458.3" y1="2628.6" x2="1475.4" y2="2655.3" stroke="#111" stroke-width="1.3"/>
</svg></body></html>
